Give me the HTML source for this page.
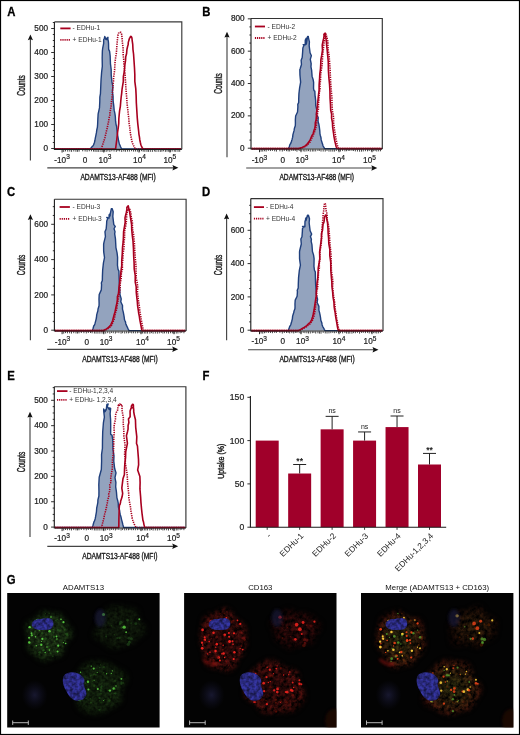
<!DOCTYPE html>
<html><head><meta charset="utf-8"><style>
html,body{margin:0;padding:0;background:#fff;}
body{width:520px;height:735px;overflow:hidden;font-family:"Liberation Sans",sans-serif;}
svg{display:block;filter:blur(0.3px);}
</style></head><body>
<svg width="520" height="735" viewBox="0 0 520 735" font-family='"Liberation Sans", sans-serif'>
<rect x="0" y="0" width="520" height="735" fill="#fff"/>
<path d="M55 148.9 L55.7 148.9 L56.4 148.9 L57.11 148.9 L57.81 148.9 L58.51 148.9 L59.21 148.9 L59.91 148.9 L60.62 148.9 L61.32 148.9 L62.02 148.9 L62.72 148.9 L63.42 148.9 L64.13 148.9 L64.83 148.9 L65.53 148.9 L66.23 148.9 L66.93 148.9 L67.64 148.9 L68.34 148.9 L69.04 148.9 L69.74 148.9 L70.44 148.9 L71.15 148.9 L71.85 148.9 L72.55 148.9 L73.25 148.9 L73.95 148.9 L74.66 148.9 L75.36 148.9 L76.06 148.9 L76.76 148.9 L77.46 148.9 L78.17 148.9 L78.87 148.9 L79.57 148.9 L80.27 148.9 L80.97 148.9 L81.68 148.9 L82.38 148.9 L83.08 148.9 L83.78 148.9 L84.48 148.9 L85.19 148.9 L85.89 148.9 L86.59 148.9 L87.29 148.9 L87.99 148.9 L88.7 148.9 L89.4 148.9 L90.1 148.9 L90.39 148.53 L90.78 148.13 L91.26 147.67 L91.78 147.04 L92.31 146.36 L92.88 145.94 L93.44 145.03 L93.94 143.89 L94.35 142.71 L94.91 140.5 L95.35 137.86 L95.94 135.06 L96.42 132.7 L96.73 130.24 L97.41 127.09 L97.64 123.98 L97.83 119.33 L98.15 113.79 L99.47 107.88 L99.79 101.5 L99.85 97.18 L100.45 93.55 L100.72 87.16 L101.04 79.84 L101.6 72.36 L102.31 66.31 L102.18 58.01 L102.36 51 L102.71 48.04 L103.66 43.35 L103.64 39.72 L104.39 38.23 L104.8 36.44 L105.06 37.38 L105.9 38.19 L105.52 39.09 L106.91 39.69 L107.19 37.97 L107.97 37.34 L107.86 39.04 L108.31 40.91 L108.55 43.39 L108.67 49.37 L109.61 51.36 L110.18 56.11 L110.46 63.85 L111.2 69.69 L111.24 75.08 L111.93 81.91 L112.87 86.69 L112.43 91.51 L113.08 96.29 L113.11 100.62 L113.75 105.64 L114.16 110.18 L114.88 113.42 L115.35 116.7 L115.57 121.23 L116.05 124.34 L116.61 126.62 L116.95 130.21 L117.31 133.19 L117.67 135.33 L118.1 137.86 L118.48 140.24 L119 142.4 L119.38 143.92 L119.98 145.32 L120.45 146.52 L120.93 147.45 L121.32 148.29 L121.6 148.9 L122.3 148.9 L123 148.9 L123.7 148.9 L124.4 148.9 L125.11 148.9 L125.81 148.9 L126.51 148.9 L127.21 148.9 L127.91 148.9 L128.61 148.9 L129.31 148.9 L130.01 148.9 L130.72 148.9 L131.42 148.9 L132.12 148.9 L132.82 148.9 L133.52 148.9 L134.22 148.9 L134.92 148.9 L135.62 148.9 L136.32 148.9 L137.03 148.9 L137.73 148.9 L138.43 148.9 L139.13 148.9 L139.83 148.9 L140.53 148.9 L141.23 148.9 L141.93 148.9 L142.64 148.9 L143.34 148.9 L144.04 148.9 L144.74 148.9 L145.44 148.9 L146.14 148.9 L146.84 148.9 L147.54 148.9 L148.24 148.9 L148.95 148.9 L149.65 148.9 L150.35 148.9 L151.05 148.9 L151.75 148.9 L152.45 148.9 L153.15 148.9 L153.85 148.9 L154.56 148.9 L155.26 148.9 L155.96 148.9 L156.66 148.9 L157.36 148.9 L158.06 148.9 L158.76 148.9 L159.46 148.9 L160.16 148.9 L160.87 148.9 L161.57 148.9 L162.27 148.9 L162.97 148.9 L163.67 148.9 L164.37 148.9 L165.07 148.9 L165.77 148.9 L166.48 148.9 L167.18 148.9 L167.88 148.9 L168.58 148.9 L169.28 148.9 L169.98 148.9 L170.68 148.9 L171.38 148.9 L172.08 148.9 L172.79 148.9 L173.49 148.9 L174.19 148.9 L174.89 148.9 L175.59 148.9 L176.29 148.9 L176.99 148.9 L177.69 148.9 L178.4 148.9 L179.1 148.9 L179.8 148.9 L180.5 148.9 L181.2 148.9 Z" fill="#93a3be" stroke="none"/>
<path d="M55 148.9 L55.7 148.9 L56.4 148.9 L57.11 148.9 L57.81 148.9 L58.51 148.9 L59.21 148.9 L59.91 148.9 L60.62 148.9 L61.32 148.9 L62.02 148.9 L62.72 148.9 L63.42 148.9 L64.13 148.9 L64.83 148.9 L65.53 148.9 L66.23 148.9 L66.93 148.9 L67.64 148.9 L68.34 148.9 L69.04 148.9 L69.74 148.9 L70.44 148.9 L71.15 148.9 L71.85 148.9 L72.55 148.9 L73.25 148.9 L73.95 148.9 L74.66 148.9 L75.36 148.9 L76.06 148.9 L76.76 148.9 L77.46 148.9 L78.17 148.9 L78.87 148.9 L79.57 148.9 L80.27 148.9 L80.97 148.9 L81.68 148.9 L82.38 148.9 L83.08 148.9 L83.78 148.9 L84.48 148.9 L85.19 148.9 L85.89 148.9 L86.59 148.9 L87.29 148.9 L87.99 148.9 L88.7 148.9 L89.4 148.9 L90.1 148.9 L90.39 148.53 L90.78 148.13 L91.26 147.67 L91.78 147.04 L92.31 146.36 L92.88 145.94 L93.44 145.03 L93.94 143.89 L94.35 142.71 L94.91 140.5 L95.35 137.86 L95.94 135.06 L96.42 132.7 L96.73 130.24 L97.41 127.09 L97.64 123.98 L97.83 119.33 L98.15 113.79 L99.47 107.88 L99.79 101.5 L99.85 97.18 L100.45 93.55 L100.72 87.16 L101.04 79.84 L101.6 72.36 L102.31 66.31 L102.18 58.01 L102.36 51 L102.71 48.04 L103.66 43.35 L103.64 39.72 L104.39 38.23 L104.8 36.44 L105.06 37.38 L105.9 38.19 L105.52 39.09 L106.91 39.69 L107.19 37.97 L107.97 37.34 L107.86 39.04 L108.31 40.91 L108.55 43.39 L108.67 49.37 L109.61 51.36 L110.18 56.11 L110.46 63.85 L111.2 69.69 L111.24 75.08 L111.93 81.91 L112.87 86.69 L112.43 91.51 L113.08 96.29 L113.11 100.62 L113.75 105.64 L114.16 110.18 L114.88 113.42 L115.35 116.7 L115.57 121.23 L116.05 124.34 L116.61 126.62 L116.95 130.21 L117.31 133.19 L117.67 135.33 L118.1 137.86 L118.48 140.24 L119 142.4 L119.38 143.92 L119.98 145.32 L120.45 146.52 L120.93 147.45 L121.32 148.29 L121.6 148.9 L122.3 148.9 L123 148.9 L123.7 148.9 L124.4 148.9 L125.11 148.9 L125.81 148.9 L126.51 148.9 L127.21 148.9 L127.91 148.9 L128.61 148.9 L129.31 148.9 L130.01 148.9 L130.72 148.9 L131.42 148.9 L132.12 148.9 L132.82 148.9 L133.52 148.9 L134.22 148.9 L134.92 148.9 L135.62 148.9 L136.32 148.9 L137.03 148.9 L137.73 148.9 L138.43 148.9 L139.13 148.9 L139.83 148.9 L140.53 148.9 L141.23 148.9 L141.93 148.9 L142.64 148.9 L143.34 148.9 L144.04 148.9 L144.74 148.9 L145.44 148.9 L146.14 148.9 L146.84 148.9 L147.54 148.9 L148.24 148.9 L148.95 148.9 L149.65 148.9 L150.35 148.9 L151.05 148.9 L151.75 148.9 L152.45 148.9 L153.15 148.9 L153.85 148.9 L154.56 148.9 L155.26 148.9 L155.96 148.9 L156.66 148.9 L157.36 148.9 L158.06 148.9 L158.76 148.9 L159.46 148.9 L160.16 148.9 L160.87 148.9 L161.57 148.9 L162.27 148.9 L162.97 148.9 L163.67 148.9 L164.37 148.9 L165.07 148.9 L165.77 148.9 L166.48 148.9 L167.18 148.9 L167.88 148.9 L168.58 148.9 L169.28 148.9 L169.98 148.9 L170.68 148.9 L171.38 148.9 L172.08 148.9 L172.79 148.9 L173.49 148.9 L174.19 148.9 L174.89 148.9 L175.59 148.9 L176.29 148.9 L176.99 148.9 L177.69 148.9 L178.4 148.9 L179.1 148.9 L179.8 148.9 L180.5 148.9 L181.2 148.9" fill="none" stroke="#1f3f7c" stroke-width="1.4" stroke-linejoin="round"/>
<path d="M55 148.95 L55.7 148.95 L56.4 148.95 L57.1 148.95 L57.8 148.95 L58.5 148.95 L59.2 148.95 L59.9 148.95 L60.6 148.95 L61.3 148.95 L62 148.95 L62.7 148.95 L63.4 148.95 L64.1 148.95 L64.8 148.95 L65.5 148.95 L66.2 148.95 L66.9 148.95 L67.6 148.95 L68.3 148.95 L69 148.95 L69.7 148.95 L70.4 148.95 L71.1 148.95 L71.8 148.95 L72.5 148.95 L73.2 148.95 L73.9 148.95 L74.6 148.95 L75.3 148.95 L76 148.95 L76.7 148.95 L77.4 148.95 L78.1 148.95 L78.8 148.95 L79.5 148.95 L80.2 148.95 L80.9 148.95 L81.6 148.95 L82.3 148.95 L83 148.95 L83.7 148.95 L84.4 148.95 L85.1 148.95 L85.8 148.95 L86.5 148.95 L87.2 148.95 L87.9 148.95 L88.6 148.95 L89.3 148.95 L90 148.95 L90.7 148.95 L91.4 148.95 L92.1 148.95 L92.8 148.95 L93.5 148.95 L94.2 148.95 L94.9 148.95 L95.6 148.95 L96.3 148.95 L97 148.95 L97.7 148.95 L98.4 148.95 L99.1 148.95 L99.8 148.95 L100.5 148.95 L101.2 148.95 L101.48 148.12 L101.84 147.07 L102.26 145.87 L102.73 144.58 L103.23 142.96 L103.8 141.29 L104.3 139.64 L104.91 137.77 L105.38 135.63 L105.88 133.69 L106.24 131.86 L106.74 129.9 L107.36 127.5 L107.69 125.36 L108.29 123.11 L108.72 120.39 L109.01 118.04 L109.75 115.63 L109.92 112.97 L110.38 110.28 L111.17 105.83 L111.51 100.93 L112.24 95.51 L112.66 90.03 L113 85.29 L113.48 81.44 L113.61 77.42 L114.53 70.98 L114.81 66.11 L115.03 62.36 L115.58 57.79 L116.26 53.87 L116.55 50.45 L116.93 45 L117.37 40.26 L117.67 37 L118.06 34.78 L118.51 33.23 L119.07 32.99 L119.58 33.06 L119.75 32.56 L120.5 32.18 L120.66 32.18 L121.46 33.1 L121.64 34.44 L122.1 37.88 L122.39 42.44 L123.1 48.35 L123.18 54.81 L123.71 59.71 L123.94 64.23 L124.61 70.26 L125.18 76.17 L125.48 81.09 L125.79 86.63 L126.24 92.57 L126.74 98.39 L127.1 103.82 L127.73 109.24 L128.26 114.07 L128.81 118.84 L129.15 123.39 L129.68 127.06 L130.09 130.52 L130.39 133.36 L130.88 136.05 L131.36 138.41 L131.77 140.63 L132.24 142.47 L132.82 143.89 L133.38 145.11 L133.94 146.3 L134.45 147.37 L134.89 148.28 L135.2 148.95 L135.91 148.95 L136.62 148.95 L137.32 148.95 L138.03 148.95 L138.74 148.95 L139.45 148.95 L140.15 148.95 L140.86 148.95 L141.57 148.95 L142.28 148.95 L142.98 148.95 L143.69 148.95 L144.4 148.95 L145.11 148.95 L145.82 148.95 L146.52 148.95 L147.23 148.95 L147.94 148.95 L148.65 148.95 L149.35 148.95 L150.06 148.95 L150.77 148.95 L151.48 148.95 L152.18 148.95 L152.89 148.95 L153.6 148.95 L154.31 148.95 L155.02 148.95 L155.72 148.95 L156.43 148.95 L157.14 148.95 L157.85 148.95 L158.55 148.95 L159.26 148.95 L159.97 148.95 L160.68 148.95 L161.38 148.95 L162.09 148.95 L162.8 148.95 L163.51 148.95 L164.22 148.95 L164.92 148.95 L165.63 148.95 L166.34 148.95 L167.05 148.95 L167.75 148.95 L168.46 148.95 L169.17 148.95 L169.88 148.95 L170.58 148.95 L171.29 148.95 L172 148.95 L172.71 148.95 L173.42 148.95 L174.12 148.95 L174.83 148.95 L175.54 148.95 L176.25 148.95 L176.95 148.95 L177.66 148.95 L178.37 148.95 L179.08 148.95 L179.78 148.95 L180.49 148.95 L181.2 148.95" fill="none" stroke="#a8001f" stroke-width="1.6" stroke-dasharray="1.3 1.0"/>
<path d="M55 148.95 L55.7 148.95 L56.41 148.95 L57.11 148.95 L57.82 148.95 L58.52 148.95 L59.23 148.95 L59.93 148.95 L60.64 148.95 L61.34 148.95 L62.05 148.95 L62.75 148.95 L63.46 148.95 L64.16 148.95 L64.87 148.95 L65.57 148.95 L66.27 148.95 L66.98 148.95 L67.68 148.95 L68.39 148.95 L69.09 148.95 L69.8 148.95 L70.5 148.95 L71.21 148.95 L71.91 148.95 L72.62 148.95 L73.32 148.95 L74.03 148.95 L74.73 148.95 L75.43 148.95 L76.14 148.95 L76.84 148.95 L77.55 148.95 L78.25 148.95 L78.96 148.95 L79.66 148.95 L80.37 148.95 L81.07 148.95 L81.78 148.95 L82.48 148.95 L83.19 148.95 L83.89 148.95 L84.6 148.95 L85.3 148.95 L86 148.95 L86.71 148.95 L87.41 148.95 L88.12 148.95 L88.82 148.95 L89.53 148.95 L90.23 148.95 L90.94 148.95 L91.64 148.95 L92.35 148.95 L93.05 148.95 L93.76 148.95 L94.46 148.95 L95.17 148.95 L95.87 148.95 L96.57 148.95 L97.28 148.95 L97.98 148.95 L98.69 148.95 L99.39 148.95 L100.1 148.95 L100.8 148.95 L101.51 148.95 L102.21 148.95 L102.92 148.95 L103.62 148.95 L104.33 148.95 L105.03 148.95 L105.73 148.95 L106.44 148.95 L107.14 148.95 L107.85 148.95 L108.55 148.95 L109.26 148.95 L109.96 148.95 L110.67 148.95 L111.37 148.95 L112.08 148.95 L112.78 148.95 L113.49 148.95 L114.19 148.95 L114.9 148.95 L115.6 148.95 L115.88 146.53 L116.29 143.39 L116.78 139.49 L117.23 135.37 L117.67 131.58 L118.29 127.31 L118.74 123.36 L118.81 119 L119.21 114.68 L119.62 110.54 L120.35 106.35 L120.7 102 L121.1 97.76 L121.64 93.6 L122.03 89.48 L122.64 85.72 L123.29 81.74 L123.36 76.68 L124.04 72.79 L124.55 69.06 L124.91 64.71 L125.51 60.67 L125.73 56.79 L126.6 53.55 L126.92 49.52 L127.59 46.52 L128.17 44.62 L128.3 42.37 L129.01 40.11 L129.49 38.24 L129.89 37.69 L130.19 37.38 L130.51 36.46 L130.85 36.4 L131.34 36.56 L131.9 37.78 L132.19 40.54 L132.74 44.44 L132.96 49.29 L133.55 54.01 L133.99 60.45 L134.48 67.75 L134.82 74.45 L134.82 81.4 L135.79 88.88 L136.15 95.89 L136.35 103.06 L136.82 110.61 L137.23 117.32 L137.78 123.63 L138.21 127.37 L138.66 131.24 L138.95 134.37 L139.42 136.97 L139.82 139.97 L140.3 142.28 L140.75 144.21 L141.24 145.74 L141.76 146.79 L142.23 147.7 L142.62 148.38 L142.9 148.95 L143.61 148.95 L144.32 148.95 L145.03 148.95 L145.74 148.95 L146.45 148.95 L147.16 148.95 L147.86 148.95 L148.57 148.95 L149.28 148.95 L149.99 148.95 L150.7 148.95 L151.41 148.95 L152.12 148.95 L152.83 148.95 L153.54 148.95 L154.25 148.95 L154.96 148.95 L155.67 148.95 L156.38 148.95 L157.09 148.95 L157.79 148.95 L158.5 148.95 L159.21 148.95 L159.92 148.95 L160.63 148.95 L161.34 148.95 L162.05 148.95 L162.76 148.95 L163.47 148.95 L164.18 148.95 L164.89 148.95 L165.6 148.95 L166.31 148.95 L167.01 148.95 L167.72 148.95 L168.43 148.95 L169.14 148.95 L169.85 148.95 L170.56 148.95 L171.27 148.95 L171.98 148.95 L172.69 148.95 L173.4 148.95 L174.11 148.95 L174.82 148.95 L175.53 148.95 L176.24 148.95 L176.94 148.95 L177.65 148.95 L178.36 148.95 L179.07 148.95 L179.78 148.95 L180.49 148.95 L181.2 148.95" fill="none" stroke="#a8001f" stroke-width="1.6" stroke-linejoin="round"/>
<path d="M54.4 21.9H181.8V149.35" fill="none" stroke="#3a3a3a" stroke-width="1.15"/>
<path d="M54.4 21.9V149.35H181.8" fill="none" stroke="#1a1a1a" stroke-width="1.1"/>
<line x1="51.2" y1="148.5" x2="54.4" y2="148.5" stroke="#1a1a1a" stroke-width="0.9"/>
<text x="48" y="151.1" font-size="8.2" text-anchor="end" fill="#222" stroke="#222" stroke-width="0.22">0</text>
<line x1="52.8" y1="142.5" x2="54.4" y2="142.5" stroke="#1a1a1a" stroke-width="0.9"/>
<line x1="52.8" y1="136.5" x2="54.4" y2="136.5" stroke="#1a1a1a" stroke-width="0.9"/>
<line x1="52.8" y1="130.5" x2="54.4" y2="130.5" stroke="#1a1a1a" stroke-width="0.9"/>
<line x1="51.2" y1="124.5" x2="54.4" y2="124.5" stroke="#1a1a1a" stroke-width="0.9"/>
<text x="48" y="127.1" font-size="8.2" text-anchor="end" fill="#222" stroke="#222" stroke-width="0.22">100</text>
<line x1="52.8" y1="118.5" x2="54.4" y2="118.5" stroke="#1a1a1a" stroke-width="0.9"/>
<line x1="52.8" y1="112.5" x2="54.4" y2="112.5" stroke="#1a1a1a" stroke-width="0.9"/>
<line x1="52.8" y1="106.5" x2="54.4" y2="106.5" stroke="#1a1a1a" stroke-width="0.9"/>
<line x1="51.2" y1="100.5" x2="54.4" y2="100.5" stroke="#1a1a1a" stroke-width="0.9"/>
<text x="48" y="103.1" font-size="8.2" text-anchor="end" fill="#222" stroke="#222" stroke-width="0.22">200</text>
<line x1="52.8" y1="94.5" x2="54.4" y2="94.5" stroke="#1a1a1a" stroke-width="0.9"/>
<line x1="52.8" y1="88.5" x2="54.4" y2="88.5" stroke="#1a1a1a" stroke-width="0.9"/>
<line x1="52.8" y1="82.5" x2="54.4" y2="82.5" stroke="#1a1a1a" stroke-width="0.9"/>
<line x1="51.2" y1="76.5" x2="54.4" y2="76.5" stroke="#1a1a1a" stroke-width="0.9"/>
<text x="48" y="79.1" font-size="8.2" text-anchor="end" fill="#222" stroke="#222" stroke-width="0.22">300</text>
<line x1="52.8" y1="70.5" x2="54.4" y2="70.5" stroke="#1a1a1a" stroke-width="0.9"/>
<line x1="52.8" y1="64.5" x2="54.4" y2="64.5" stroke="#1a1a1a" stroke-width="0.9"/>
<line x1="52.8" y1="58.5" x2="54.4" y2="58.5" stroke="#1a1a1a" stroke-width="0.9"/>
<line x1="51.2" y1="52.5" x2="54.4" y2="52.5" stroke="#1a1a1a" stroke-width="0.9"/>
<text x="48" y="55.1" font-size="8.2" text-anchor="end" fill="#222" stroke="#222" stroke-width="0.22">400</text>
<line x1="52.8" y1="46.5" x2="54.4" y2="46.5" stroke="#1a1a1a" stroke-width="0.9"/>
<line x1="52.8" y1="40.5" x2="54.4" y2="40.5" stroke="#1a1a1a" stroke-width="0.9"/>
<line x1="52.8" y1="34.5" x2="54.4" y2="34.5" stroke="#1a1a1a" stroke-width="0.9"/>
<line x1="51.2" y1="28.5" x2="54.4" y2="28.5" stroke="#1a1a1a" stroke-width="0.9"/>
<text x="48" y="31.1" font-size="8.2" text-anchor="end" fill="#222" stroke="#222" stroke-width="0.22">500</text>
<line x1="52.8" y1="22.5" x2="54.4" y2="22.5" stroke="#1a1a1a" stroke-width="0.9"/>
<line x1="63.7" y1="149.7" x2="63.7" y2="151.93" stroke="#1a1a1a" stroke-width="0.8"/>
<line x1="65.52" y1="149.7" x2="65.52" y2="151.4" stroke="#1a1a1a" stroke-width="0.8"/>
<line x1="67.71" y1="149.7" x2="67.71" y2="151.61" stroke="#1a1a1a" stroke-width="0.8"/>
<line x1="69.81" y1="149.7" x2="69.81" y2="151.59" stroke="#1a1a1a" stroke-width="0.8"/>
<line x1="71.59" y1="149.7" x2="71.59" y2="151.86" stroke="#1a1a1a" stroke-width="0.8"/>
<line x1="73.81" y1="149.7" x2="73.81" y2="151.49" stroke="#1a1a1a" stroke-width="0.8"/>
<line x1="75.92" y1="149.7" x2="75.92" y2="151.77" stroke="#1a1a1a" stroke-width="0.8"/>
<line x1="77.55" y1="149.7" x2="77.55" y2="151.82" stroke="#1a1a1a" stroke-width="0.8"/>
<line x1="79.11" y1="149.7" x2="79.11" y2="151.65" stroke="#1a1a1a" stroke-width="0.8"/>
<line x1="82.7" y1="149.7" x2="82.7" y2="151.34" stroke="#1a1a1a" stroke-width="0.8"/>
<line x1="85.1" y1="149.7" x2="85.1" y2="151.51" stroke="#1a1a1a" stroke-width="0.8"/>
<line x1="87.1" y1="149.7" x2="87.1" y2="151.75" stroke="#1a1a1a" stroke-width="0.8"/>
<line x1="89.3" y1="149.7" x2="89.3" y2="151.34" stroke="#1a1a1a" stroke-width="0.8"/>
<line x1="91.44" y1="149.7" x2="91.44" y2="151.34" stroke="#1a1a1a" stroke-width="0.8"/>
<line x1="93.49" y1="149.7" x2="93.49" y2="151.6" stroke="#1a1a1a" stroke-width="0.8"/>
<line x1="95.09" y1="149.7" x2="95.09" y2="151.83" stroke="#1a1a1a" stroke-width="0.8"/>
<line x1="96.96" y1="149.7" x2="96.96" y2="151.93" stroke="#1a1a1a" stroke-width="0.8"/>
<line x1="98.74" y1="149.7" x2="98.74" y2="151.91" stroke="#1a1a1a" stroke-width="0.8"/>
<line x1="100.98" y1="149.7" x2="100.98" y2="151.92" stroke="#1a1a1a" stroke-width="0.8"/>
<line x1="102.8" y1="149.7" x2="102.8" y2="151.87" stroke="#1a1a1a" stroke-width="0.8"/>
<line x1="104.37" y1="149.7" x2="104.37" y2="151.65" stroke="#1a1a1a" stroke-width="0.8"/>
<line x1="106.17" y1="149.7" x2="106.17" y2="151.87" stroke="#1a1a1a" stroke-width="0.8"/>
<line x1="107.9" y1="149.7" x2="107.9" y2="151.44" stroke="#1a1a1a" stroke-width="0.8"/>
<line x1="109.87" y1="149.7" x2="109.87" y2="151.88" stroke="#1a1a1a" stroke-width="0.8"/>
<line x1="111.83" y1="149.7" x2="111.83" y2="151.3" stroke="#1a1a1a" stroke-width="0.8"/>
<line x1="114.02" y1="149.7" x2="114.02" y2="151.51" stroke="#1a1a1a" stroke-width="0.8"/>
<line x1="116.31" y1="149.7" x2="116.31" y2="151.89" stroke="#1a1a1a" stroke-width="0.8"/>
<line x1="118.01" y1="149.7" x2="118.01" y2="151.13" stroke="#1a1a1a" stroke-width="0.8"/>
<line x1="119.63" y1="149.7" x2="119.63" y2="151.42" stroke="#1a1a1a" stroke-width="0.8"/>
<line x1="121.72" y1="149.7" x2="121.72" y2="151.95" stroke="#1a1a1a" stroke-width="0.8"/>
<line x1="123.78" y1="149.7" x2="123.78" y2="151.46" stroke="#1a1a1a" stroke-width="0.8"/>
<line x1="125.39" y1="149.7" x2="125.39" y2="151.79" stroke="#1a1a1a" stroke-width="0.8"/>
<line x1="127.45" y1="149.7" x2="127.45" y2="151.61" stroke="#1a1a1a" stroke-width="0.8"/>
<line x1="129.37" y1="149.7" x2="129.37" y2="151.64" stroke="#1a1a1a" stroke-width="0.8"/>
<line x1="131.59" y1="149.7" x2="131.59" y2="151.26" stroke="#1a1a1a" stroke-width="0.8"/>
<line x1="133.58" y1="149.7" x2="133.58" y2="151.64" stroke="#1a1a1a" stroke-width="0.8"/>
<line x1="135.46" y1="149.7" x2="135.46" y2="151.56" stroke="#1a1a1a" stroke-width="0.8"/>
<line x1="137.38" y1="149.7" x2="137.38" y2="151.67" stroke="#1a1a1a" stroke-width="0.8"/>
<line x1="139.57" y1="149.7" x2="139.57" y2="151.56" stroke="#1a1a1a" stroke-width="0.8"/>
<line x1="141.56" y1="149.7" x2="141.56" y2="151.19" stroke="#1a1a1a" stroke-width="0.8"/>
<line x1="143.19" y1="149.7" x2="143.19" y2="151.66" stroke="#1a1a1a" stroke-width="0.8"/>
<line x1="144.88" y1="149.7" x2="144.88" y2="151.79" stroke="#1a1a1a" stroke-width="0.8"/>
<line x1="146.94" y1="149.7" x2="146.94" y2="151.83" stroke="#1a1a1a" stroke-width="0.8"/>
<line x1="148.46" y1="149.7" x2="148.46" y2="151.87" stroke="#1a1a1a" stroke-width="0.8"/>
<line x1="150.33" y1="149.7" x2="150.33" y2="151.85" stroke="#1a1a1a" stroke-width="0.8"/>
<line x1="152.37" y1="149.7" x2="152.37" y2="151.91" stroke="#1a1a1a" stroke-width="0.8"/>
<line x1="154.42" y1="149.7" x2="154.42" y2="151.44" stroke="#1a1a1a" stroke-width="0.8"/>
<line x1="155.94" y1="149.7" x2="155.94" y2="151.96" stroke="#1a1a1a" stroke-width="0.8"/>
<line x1="158.19" y1="149.7" x2="158.19" y2="151.83" stroke="#1a1a1a" stroke-width="0.8"/>
<line x1="160.29" y1="149.7" x2="160.29" y2="151.9" stroke="#1a1a1a" stroke-width="0.8"/>
<line x1="161.9" y1="149.7" x2="161.9" y2="151.68" stroke="#1a1a1a" stroke-width="0.8"/>
<line x1="163.4" y1="149.7" x2="163.4" y2="151.32" stroke="#1a1a1a" stroke-width="0.8"/>
<line x1="165.36" y1="149.7" x2="165.36" y2="151.86" stroke="#1a1a1a" stroke-width="0.8"/>
<line x1="167.02" y1="149.7" x2="167.02" y2="151.66" stroke="#1a1a1a" stroke-width="0.8"/>
<line x1="168.69" y1="149.7" x2="168.69" y2="151.69" stroke="#1a1a1a" stroke-width="0.8"/>
<line x1="170.2" y1="149.7" x2="170.2" y2="151.93" stroke="#1a1a1a" stroke-width="0.8"/>
<line x1="172.16" y1="149.7" x2="172.16" y2="151.54" stroke="#1a1a1a" stroke-width="0.8"/>
<line x1="174.25" y1="149.7" x2="174.25" y2="151.67" stroke="#1a1a1a" stroke-width="0.8"/>
<line x1="175.8" y1="149.7" x2="175.8" y2="151.87" stroke="#1a1a1a" stroke-width="0.8"/>
<line x1="178.01" y1="149.7" x2="178.01" y2="151.85" stroke="#1a1a1a" stroke-width="0.8"/>
<line x1="179.69" y1="149.7" x2="179.69" y2="151.77" stroke="#1a1a1a" stroke-width="0.8"/>
<line x1="62.1" y1="149.7" x2="62.1" y2="152.5" stroke="#111" stroke-width="0.9"/>
<line x1="103.8" y1="149.7" x2="103.8" y2="152.5" stroke="#111" stroke-width="0.9"/>
<line x1="139" y1="149.7" x2="139" y2="152.5" stroke="#111" stroke-width="0.9"/>
<line x1="170" y1="149.7" x2="170" y2="152.5" stroke="#111" stroke-width="0.9"/>
<text x="62.1" y="162.5" font-size="8.2" text-anchor="middle" fill="#222" stroke="#222" stroke-width="0.2">-10<tspan font-size="6.56" dy="-3.3">3</tspan></text>
<text x="85.1" y="162.5" font-size="8.2" text-anchor="middle" fill="#222" stroke="#222" stroke-width="0.2">0</text>
<text x="105" y="162.5" font-size="8.2" text-anchor="middle" fill="#222" stroke="#222" stroke-width="0.2">10<tspan font-size="6.56" dy="-3.3">3</tspan></text>
<text x="139.5" y="162.5" font-size="8.2" text-anchor="middle" fill="#222" stroke="#222" stroke-width="0.2">10<tspan font-size="6.56" dy="-3.3">4</tspan></text>
<text x="169.8" y="162.5" font-size="8.2" text-anchor="middle" fill="#222" stroke="#222" stroke-width="0.2">10<tspan font-size="6.56" dy="-3.3">5</tspan></text>
<line x1="30.4" y1="160.6" x2="30.4" y2="37.4" stroke="#444" stroke-width="1.15"/>
<path d="M30.4 34.4 L27.8 40.2 L30.4 39.3 L33 40.2 Z" fill="#111"/>
<line x1="47.3" y1="167.8" x2="175.4" y2="167.8" stroke="#444" stroke-width="1.15"/>
<path d="M178.4 167.8 L172.4 165.1 L173.4 167.8 L172.4 170.5 Z" fill="#111"/>
<text transform="translate(25.1 85.5) rotate(-90)" font-size="10.6" text-anchor="middle" fill="#222" stroke="#222" stroke-width="0.42" textLength="20.6" lengthAdjust="spacingAndGlyphs">Counts</text>
<text x="80.4" y="180.2" font-size="9.2" fill="#222" stroke="#222" stroke-width="0.38" textLength="75.3" lengthAdjust="spacingAndGlyphs">ADAMTS13-AF488 (MFI)</text>
<line x1="60.3" y1="28.4" x2="70.6" y2="28.4" stroke="#a8001f" stroke-width="1.8"/>
<line x1="60.3" y1="39.8" x2="70.6" y2="39.8" stroke="#a8001f" stroke-width="1.8" stroke-dasharray="1.2 0.9"/>
<text x="72.6" y="30.45" font-size="6.6" fill="#333">- EDHu-1</text>
<text x="72.6" y="41.85" font-size="6.6" fill="#333">+ EDHu-1</text>
<text transform="translate(7.2 16.4) scale(0.9 1)" font-size="12.6" font-weight="bold" fill="#000" stroke="#000" stroke-width="0.3">A</text>
<path d="M251.6 148.6 L252.31 148.6 L253.02 148.6 L253.73 148.6 L254.44 148.6 L255.15 148.6 L255.86 148.6 L256.57 148.6 L257.28 148.6 L257.99 148.6 L258.7 148.6 L259.41 148.6 L260.12 148.6 L260.82 148.6 L261.53 148.6 L262.24 148.6 L262.95 148.6 L263.66 148.6 L264.37 148.6 L265.08 148.6 L265.79 148.6 L266.5 148.6 L267.21 148.6 L267.92 148.6 L268.63 148.6 L269.34 148.6 L270.05 148.6 L270.76 148.6 L271.47 148.6 L272.18 148.6 L272.89 148.6 L273.6 148.6 L274.31 148.6 L275.02 148.6 L275.73 148.6 L276.44 148.6 L277.15 148.6 L277.86 148.6 L278.57 148.6 L279.27 148.6 L279.98 148.6 L280.69 148.6 L281.4 148.6 L282.11 148.6 L282.82 148.6 L283.53 148.6 L284.24 148.6 L284.95 148.6 L285.66 148.6 L286.37 148.6 L287.08 148.6 L287.79 148.6 L288.5 148.6 L288.78 147.84 L289.16 146.91 L289.6 145.61 L290.04 144.29 L290.58 143.78 L291.17 142.35 L291.65 140.73 L292.07 139.39 L292.64 137.17 L292.92 134.66 L293.55 132.41 L294.11 130.42 L294.37 128.54 L295.29 125.72 L295.4 123.28 L295.36 119.91 L295.64 115.96 L297.52 111.93 L297.89 106.68 L297.8 104.36 L298.67 102.43 L298.71 99.11 L298.92 93.9 L299.58 88.06 L300.63 82.06 L299.96 75.12 L299.84 69.51 L300.09 68.97 L301.46 64.44 L301.15 60.21 L302.21 57.57 L302.66 51.54 L302.87 48 L304.08 45.05 L303.13 44.69 L305.18 44.88 L305.27 40.16 L306.33 38.19 L305.82 40.71 L306.33 42.9 L306.46 43.16 L306.33 44.11 L307.61 36.4 L308.29 36.4 L308.42 37.56 L309.41 41.9 L309.18 45.82 L310.07 52.76 L311.38 55.68 L310.3 59.43 L311.17 63.58 L310.97 66.88 L311.62 70.15 L312.09 76.4 L313.09 79.44 L313.62 82.38 L313.54 88.39 L313.98 90.63 L314.82 91.11 L314.99 94.64 L315.16 96.69 L315.29 97.2 L315.68 100.78 L315.7 105.34 L316.94 110.62 L316.38 114.48 L318.23 117.56 L318.03 121.07 L318.85 124.16 L319.37 127.34 L319.77 130.63 L319.96 133.78 L320.32 135.43 L320.95 137.46 L321.2 139.9 L321.79 141.67 L322.08 142.89 L322.54 143.95 L322.94 145.49 L323.46 146.68 L323.94 147.34 L324.32 148.08 L324.6 148.6 L325.3 148.6 L326.01 148.6 L326.71 148.6 L327.42 148.6 L328.12 148.6 L328.83 148.6 L329.53 148.6 L330.24 148.6 L330.94 148.6 L331.65 148.6 L332.35 148.6 L333.06 148.6 L333.76 148.6 L334.47 148.6 L335.17 148.6 L335.88 148.6 L336.58 148.6 L337.29 148.6 L337.99 148.6 L338.7 148.6 L339.4 148.6 L340.11 148.6 L340.81 148.6 L341.52 148.6 L342.22 148.6 L342.93 148.6 L343.63 148.6 L344.34 148.6 L345.04 148.6 L345.75 148.6 L346.45 148.6 L347.16 148.6 L347.86 148.6 L348.57 148.6 L349.27 148.6 L349.98 148.6 L350.68 148.6 L351.39 148.6 L352.09 148.6 L352.8 148.6 L353.5 148.6 L354.21 148.6 L354.91 148.6 L355.62 148.6 L356.32 148.6 L357.03 148.6 L357.73 148.6 L358.44 148.6 L359.14 148.6 L359.85 148.6 L360.55 148.6 L361.26 148.6 L361.96 148.6 L362.67 148.6 L363.37 148.6 L364.08 148.6 L364.78 148.6 L365.49 148.6 L366.19 148.6 L366.9 148.6 L367.6 148.6 L368.31 148.6 L369.01 148.6 L369.72 148.6 L370.42 148.6 L371.13 148.6 L371.83 148.6 L372.54 148.6 L373.24 148.6 L373.95 148.6 L374.65 148.6 L375.36 148.6 L376.06 148.6 L376.77 148.6 L377.47 148.6 L378.18 148.6 L378.88 148.6 L379.59 148.6 L380.29 148.6 L381 148.6 L381.7 148.6 Z" fill="#93a3be" stroke="none"/>
<path d="M251.6 148.6 L252.31 148.6 L253.02 148.6 L253.73 148.6 L254.44 148.6 L255.15 148.6 L255.86 148.6 L256.57 148.6 L257.28 148.6 L257.99 148.6 L258.7 148.6 L259.41 148.6 L260.12 148.6 L260.82 148.6 L261.53 148.6 L262.24 148.6 L262.95 148.6 L263.66 148.6 L264.37 148.6 L265.08 148.6 L265.79 148.6 L266.5 148.6 L267.21 148.6 L267.92 148.6 L268.63 148.6 L269.34 148.6 L270.05 148.6 L270.76 148.6 L271.47 148.6 L272.18 148.6 L272.89 148.6 L273.6 148.6 L274.31 148.6 L275.02 148.6 L275.73 148.6 L276.44 148.6 L277.15 148.6 L277.86 148.6 L278.57 148.6 L279.27 148.6 L279.98 148.6 L280.69 148.6 L281.4 148.6 L282.11 148.6 L282.82 148.6 L283.53 148.6 L284.24 148.6 L284.95 148.6 L285.66 148.6 L286.37 148.6 L287.08 148.6 L287.79 148.6 L288.5 148.6 L288.78 147.84 L289.16 146.91 L289.6 145.61 L290.04 144.29 L290.58 143.78 L291.17 142.35 L291.65 140.73 L292.07 139.39 L292.64 137.17 L292.92 134.66 L293.55 132.41 L294.11 130.42 L294.37 128.54 L295.29 125.72 L295.4 123.28 L295.36 119.91 L295.64 115.96 L297.52 111.93 L297.89 106.68 L297.8 104.36 L298.67 102.43 L298.71 99.11 L298.92 93.9 L299.58 88.06 L300.63 82.06 L299.96 75.12 L299.84 69.51 L300.09 68.97 L301.46 64.44 L301.15 60.21 L302.21 57.57 L302.66 51.54 L302.87 48 L304.08 45.05 L303.13 44.69 L305.18 44.88 L305.27 40.16 L306.33 38.19 L305.82 40.71 L306.33 42.9 L306.46 43.16 L306.33 44.11 L307.61 36.4 L308.29 36.4 L308.42 37.56 L309.41 41.9 L309.18 45.82 L310.07 52.76 L311.38 55.68 L310.3 59.43 L311.17 63.58 L310.97 66.88 L311.62 70.15 L312.09 76.4 L313.09 79.44 L313.62 82.38 L313.54 88.39 L313.98 90.63 L314.82 91.11 L314.99 94.64 L315.16 96.69 L315.29 97.2 L315.68 100.78 L315.7 105.34 L316.94 110.62 L316.38 114.48 L318.23 117.56 L318.03 121.07 L318.85 124.16 L319.37 127.34 L319.77 130.63 L319.96 133.78 L320.32 135.43 L320.95 137.46 L321.2 139.9 L321.79 141.67 L322.08 142.89 L322.54 143.95 L322.94 145.49 L323.46 146.68 L323.94 147.34 L324.32 148.08 L324.6 148.6 L325.3 148.6 L326.01 148.6 L326.71 148.6 L327.42 148.6 L328.12 148.6 L328.83 148.6 L329.53 148.6 L330.24 148.6 L330.94 148.6 L331.65 148.6 L332.35 148.6 L333.06 148.6 L333.76 148.6 L334.47 148.6 L335.17 148.6 L335.88 148.6 L336.58 148.6 L337.29 148.6 L337.99 148.6 L338.7 148.6 L339.4 148.6 L340.11 148.6 L340.81 148.6 L341.52 148.6 L342.22 148.6 L342.93 148.6 L343.63 148.6 L344.34 148.6 L345.04 148.6 L345.75 148.6 L346.45 148.6 L347.16 148.6 L347.86 148.6 L348.57 148.6 L349.27 148.6 L349.98 148.6 L350.68 148.6 L351.39 148.6 L352.09 148.6 L352.8 148.6 L353.5 148.6 L354.21 148.6 L354.91 148.6 L355.62 148.6 L356.32 148.6 L357.03 148.6 L357.73 148.6 L358.44 148.6 L359.14 148.6 L359.85 148.6 L360.55 148.6 L361.26 148.6 L361.96 148.6 L362.67 148.6 L363.37 148.6 L364.08 148.6 L364.78 148.6 L365.49 148.6 L366.19 148.6 L366.9 148.6 L367.6 148.6 L368.31 148.6 L369.01 148.6 L369.72 148.6 L370.42 148.6 L371.13 148.6 L371.83 148.6 L372.54 148.6 L373.24 148.6 L373.95 148.6 L374.65 148.6 L375.36 148.6 L376.06 148.6 L376.77 148.6 L377.47 148.6 L378.18 148.6 L378.88 148.6 L379.59 148.6 L380.29 148.6 L381 148.6 L381.7 148.6" fill="none" stroke="#1f3f7c" stroke-width="1.4" stroke-linejoin="round"/>
<path d="M251.6 148.65 L252.31 148.65 L253.01 148.65 L253.72 148.65 L254.43 148.65 L255.14 148.65 L255.84 148.65 L256.55 148.65 L257.26 148.65 L257.97 148.65 L258.67 148.65 L259.38 148.65 L260.09 148.65 L260.8 148.65 L261.5 148.65 L262.21 148.65 L262.92 148.65 L263.62 148.65 L264.33 148.65 L265.04 148.65 L265.75 148.65 L266.45 148.65 L267.16 148.65 L267.87 148.65 L268.58 148.65 L269.28 148.65 L269.99 148.65 L270.7 148.65 L271.41 148.65 L272.11 148.65 L272.82 148.65 L273.53 148.65 L274.24 148.65 L274.94 148.65 L275.65 148.65 L276.36 148.65 L277.06 148.65 L277.77 148.65 L278.48 148.65 L279.19 148.65 L279.89 148.65 L280.6 148.65 L281.31 148.65 L282.02 148.65 L282.72 148.65 L283.43 148.65 L284.14 148.65 L284.85 148.65 L285.55 148.65 L286.26 148.65 L286.97 148.65 L287.68 148.65 L288.38 148.65 L289.09 148.65 L289.8 148.65 L290.5 148.65 L291.21 148.65 L291.92 148.65 L292.63 148.65 L293.33 148.65 L294.04 148.65 L294.75 148.65 L295.46 148.65 L296.16 148.65 L296.87 148.65 L297.58 148.65 L298.29 148.65 L298.99 148.65 L299.7 148.65 L299.96 148.52 L300.28 148.39 L300.64 148.26 L301.05 148.12 L301.49 147.97 L301.97 147.81 L302.47 147.63 L302.99 147.44 L303.52 147.28 L304.08 147.04 L304.62 146.69 L305.16 146.47 L305.73 146.22 L306.24 145.88 L306.77 145.51 L307.29 145.12 L307.74 144.66 L308.22 144.05 L308.76 143.23 L309.29 142.63 L309.85 142.28 L310.31 141.65 L310.97 139.96 L311.44 138.86 L311.86 138.17 L312.4 136.9 L313.01 135.82 L313.44 134.87 L313.82 133.65 L314.24 132.59 L314.57 131.94 L314.9 131.26 L315.59 128.72 L316.2 126.27 L316.68 123.5 L316.73 120.07 L317.44 116.18 L317.48 112.64 L318.45 109.14 L318.49 104.04 L318.96 99.02 L319.18 93.72 L320.02 89.26 L319.92 85.73 L320.51 80.33 L320.68 73.79 L321.5 69.15 L322.16 64.65 L322.43 59.09 L322.69 55.12 L323.24 50.52 L323.69 45.99 L323.96 43.07 L324.53 40.28 L324.99 36.12 L325.44 34.3 L325.49 34.3 L326.15 34.3 L326.56 35.72 L326.57 36.71 L327.27 38.85 L327.85 41.38 L327.88 45.21 L328.26 50.58 L329.09 55.29 L329.46 60.79 L330.06 68.14 L330.39 76.37 L330.73 83.57 L331.33 91.11 L331.85 97.15 L332.01 103.59 L332.37 110.82 L333.2 114.59 L333.62 118.91 L333.59 122.73 L334.13 126.67 L334.63 130.63 L335.27 134.12 L335.64 137.1 L336.09 139.48 L336.57 141.74 L336.99 143.75 L337.42 145.56 L337.81 146.92 L338.33 148 L338.81 148.47 L339.22 148.55 L339.5 148.65 L340.2 148.65 L340.91 148.65 L341.61 148.65 L342.31 148.65 L343.02 148.65 L343.72 148.65 L344.42 148.65 L345.13 148.65 L345.83 148.65 L346.53 148.65 L347.24 148.65 L347.94 148.65 L348.64 148.65 L349.35 148.65 L350.05 148.65 L350.75 148.65 L351.46 148.65 L352.16 148.65 L352.86 148.65 L353.57 148.65 L354.27 148.65 L354.97 148.65 L355.68 148.65 L356.38 148.65 L357.08 148.65 L357.79 148.65 L358.49 148.65 L359.19 148.65 L359.9 148.65 L360.6 148.65 L361.3 148.65 L362.01 148.65 L362.71 148.65 L363.41 148.65 L364.12 148.65 L364.82 148.65 L365.52 148.65 L366.23 148.65 L366.93 148.65 L367.63 148.65 L368.34 148.65 L369.04 148.65 L369.74 148.65 L370.45 148.65 L371.15 148.65 L371.85 148.65 L372.56 148.65 L373.26 148.65 L373.96 148.65 L374.67 148.65 L375.37 148.65 L376.07 148.65 L376.78 148.65 L377.48 148.65 L378.18 148.65 L378.89 148.65 L379.59 148.65 L380.29 148.65 L381 148.65 L381.7 148.65" fill="none" stroke="#a8001f" stroke-width="1.6" stroke-dasharray="1.3 1.0"/>
<path d="M251.6 148.65 L252.3 148.65 L253.01 148.65 L253.71 148.65 L254.41 148.65 L255.11 148.65 L255.82 148.65 L256.52 148.65 L257.22 148.65 L257.93 148.65 L258.63 148.65 L259.33 148.65 L260.04 148.65 L260.74 148.65 L261.44 148.65 L262.14 148.65 L262.85 148.65 L263.55 148.65 L264.25 148.65 L264.96 148.65 L265.66 148.65 L266.36 148.65 L267.07 148.65 L267.77 148.65 L268.47 148.65 L269.17 148.65 L269.88 148.65 L270.58 148.65 L271.28 148.65 L271.99 148.65 L272.69 148.65 L273.39 148.65 L274.1 148.65 L274.8 148.65 L275.5 148.65 L276.2 148.65 L276.91 148.65 L277.61 148.65 L278.31 148.65 L279.02 148.65 L279.72 148.65 L280.42 148.65 L281.13 148.65 L281.83 148.65 L282.53 148.65 L283.23 148.65 L283.94 148.65 L284.64 148.65 L285.34 148.65 L286.05 148.65 L286.75 148.65 L287.45 148.65 L288.16 148.65 L288.86 148.65 L289.56 148.65 L290.26 148.65 L290.97 148.65 L291.67 148.65 L292.37 148.65 L293.08 148.65 L293.78 148.65 L294.48 148.65 L295.19 148.65 L295.89 148.65 L296.59 148.65 L297.29 148.65 L298 148.65 L298.7 148.65 L298.96 148.52 L299.28 148.39 L299.64 148.26 L300.05 148.12 L300.49 147.97 L300.97 147.81 L301.47 147.63 L301.99 147.44 L302.52 147.18 L303.07 147.02 L303.62 146.81 L304.17 146.47 L304.72 146.15 L305.24 145.8 L305.79 145.5 L306.27 144.93 L306.77 144.45 L307.23 144.1 L307.73 143.42 L308.32 142.58 L308.87 141.7 L309.41 141.04 L309.92 140.32 L310.43 139.21 L310.89 137.98 L311.41 136.86 L311.96 135.64 L312.39 134.76 L312.91 134.14 L313.22 133.14 L313.69 131.46 L314.06 130.3 L314.8 128.15 L315.25 125.54 L315.3 122.67 L316.09 119.86 L316.37 116.48 L316.54 112.88 L317.06 109.21 L317.46 104.44 L318 99.67 L318.54 94.53 L319.11 90.07 L319.13 84.69 L319.61 78.38 L319.79 74.07 L320.48 68.84 L320.75 64.07 L320.86 59.86 L321.73 55.15 L322.48 50.03 L322.23 45.13 L322.92 41.53 L323.53 38.95 L324.09 35.83 L323.91 34.39 L324.96 33.27 L325.19 33.13 L325.36 35.16 L326.09 39.42 L326.46 42.34 L326.59 44.87 L327.17 50.16 L327.68 55.44 L328.26 61.83 L328.4 70.13 L328.85 77.45 L329.56 84.34 L329.95 91.78 L330.05 98.23 L330.45 104.25 L330.7 110.31 L331.61 114.13 L331.59 118.11 L332.44 122.48 L332.66 127.12 L333.15 130.73 L333.6 133.64 L333.97 136.62 L334.49 139.27 L334.92 141.5 L335.44 143.67 L335.81 145.36 L336.2 146.72 L336.73 148 L337.21 148.47 L337.62 148.55 L337.9 148.65 L338.61 148.65 L339.31 148.65 L340.02 148.65 L340.73 148.65 L341.43 148.65 L342.14 148.65 L342.85 148.65 L343.55 148.65 L344.26 148.65 L344.96 148.65 L345.67 148.65 L346.38 148.65 L347.08 148.65 L347.79 148.65 L348.5 148.65 L349.2 148.65 L349.91 148.65 L350.62 148.65 L351.32 148.65 L352.03 148.65 L352.74 148.65 L353.44 148.65 L354.15 148.65 L354.85 148.65 L355.56 148.65 L356.27 148.65 L356.97 148.65 L357.68 148.65 L358.39 148.65 L359.09 148.65 L359.8 148.65 L360.51 148.65 L361.21 148.65 L361.92 148.65 L362.63 148.65 L363.33 148.65 L364.04 148.65 L364.75 148.65 L365.45 148.65 L366.16 148.65 L366.86 148.65 L367.57 148.65 L368.28 148.65 L368.98 148.65 L369.69 148.65 L370.4 148.65 L371.1 148.65 L371.81 148.65 L372.52 148.65 L373.22 148.65 L373.93 148.65 L374.64 148.65 L375.34 148.65 L376.05 148.65 L376.75 148.65 L377.46 148.65 L378.17 148.65 L378.87 148.65 L379.58 148.65 L380.29 148.65 L380.99 148.65 L381.7 148.65" fill="none" stroke="#a8001f" stroke-width="1.6" stroke-linejoin="round"/>
<path d="M251 18.5H382.3V149.05" fill="none" stroke="#333" stroke-width="1.15"/>
<path d="M251 18.5V149.05H382.3" fill="none" stroke="#1a1a1a" stroke-width="1.1"/>
<line x1="247.8" y1="148.2" x2="251" y2="148.2" stroke="#1a1a1a" stroke-width="0.9"/>
<text x="244.6" y="150.8" font-size="8.2" text-anchor="end" fill="#222" stroke="#222" stroke-width="0.22">0</text>
<line x1="249.4" y1="140.11" x2="251" y2="140.11" stroke="#1a1a1a" stroke-width="0.9"/>
<line x1="249.4" y1="132.03" x2="251" y2="132.03" stroke="#1a1a1a" stroke-width="0.9"/>
<line x1="249.4" y1="123.94" x2="251" y2="123.94" stroke="#1a1a1a" stroke-width="0.9"/>
<line x1="247.8" y1="115.86" x2="251" y2="115.86" stroke="#1a1a1a" stroke-width="0.9"/>
<text x="244.6" y="118.46" font-size="8.2" text-anchor="end" fill="#222" stroke="#222" stroke-width="0.22">200</text>
<line x1="249.4" y1="107.77" x2="251" y2="107.77" stroke="#1a1a1a" stroke-width="0.9"/>
<line x1="249.4" y1="99.69" x2="251" y2="99.69" stroke="#1a1a1a" stroke-width="0.9"/>
<line x1="249.4" y1="91.6" x2="251" y2="91.6" stroke="#1a1a1a" stroke-width="0.9"/>
<line x1="247.8" y1="83.52" x2="251" y2="83.52" stroke="#1a1a1a" stroke-width="0.9"/>
<text x="244.6" y="86.12" font-size="8.2" text-anchor="end" fill="#222" stroke="#222" stroke-width="0.22">400</text>
<line x1="249.4" y1="75.43" x2="251" y2="75.43" stroke="#1a1a1a" stroke-width="0.9"/>
<line x1="249.4" y1="67.35" x2="251" y2="67.35" stroke="#1a1a1a" stroke-width="0.9"/>
<line x1="249.4" y1="59.26" x2="251" y2="59.26" stroke="#1a1a1a" stroke-width="0.9"/>
<line x1="247.8" y1="51.18" x2="251" y2="51.18" stroke="#1a1a1a" stroke-width="0.9"/>
<text x="244.6" y="53.78" font-size="8.2" text-anchor="end" fill="#222" stroke="#222" stroke-width="0.22">600</text>
<line x1="249.4" y1="43.09" x2="251" y2="43.09" stroke="#1a1a1a" stroke-width="0.9"/>
<line x1="249.4" y1="35.01" x2="251" y2="35.01" stroke="#1a1a1a" stroke-width="0.9"/>
<line x1="249.4" y1="26.92" x2="251" y2="26.92" stroke="#1a1a1a" stroke-width="0.9"/>
<line x1="247.8" y1="18.84" x2="251" y2="18.84" stroke="#1a1a1a" stroke-width="0.9"/>
<text x="244.6" y="21.44" font-size="8.2" text-anchor="end" fill="#222" stroke="#222" stroke-width="0.22">800</text>
<line x1="261.1" y1="149.4" x2="261.1" y2="151.65" stroke="#1a1a1a" stroke-width="0.8"/>
<line x1="262.75" y1="149.4" x2="262.75" y2="151.56" stroke="#1a1a1a" stroke-width="0.8"/>
<line x1="264.55" y1="149.4" x2="264.55" y2="151.25" stroke="#1a1a1a" stroke-width="0.8"/>
<line x1="266.16" y1="149.4" x2="266.16" y2="151.53" stroke="#1a1a1a" stroke-width="0.8"/>
<line x1="268.39" y1="149.4" x2="268.39" y2="150.83" stroke="#1a1a1a" stroke-width="0.8"/>
<line x1="270.45" y1="149.4" x2="270.45" y2="151.07" stroke="#1a1a1a" stroke-width="0.8"/>
<line x1="272.43" y1="149.4" x2="272.43" y2="150.91" stroke="#1a1a1a" stroke-width="0.8"/>
<line x1="274.66" y1="149.4" x2="274.66" y2="151.32" stroke="#1a1a1a" stroke-width="0.8"/>
<line x1="276.45" y1="149.4" x2="276.45" y2="151.59" stroke="#1a1a1a" stroke-width="0.8"/>
<line x1="279.9" y1="149.4" x2="279.9" y2="151.31" stroke="#1a1a1a" stroke-width="0.8"/>
<line x1="282.3" y1="149.4" x2="282.3" y2="151.54" stroke="#1a1a1a" stroke-width="0.8"/>
<line x1="284.3" y1="149.4" x2="284.3" y2="150.97" stroke="#1a1a1a" stroke-width="0.8"/>
<line x1="286.5" y1="149.4" x2="286.5" y2="151.15" stroke="#1a1a1a" stroke-width="0.8"/>
<line x1="288.13" y1="149.4" x2="288.13" y2="151.43" stroke="#1a1a1a" stroke-width="0.8"/>
<line x1="289.67" y1="149.4" x2="289.67" y2="151.43" stroke="#1a1a1a" stroke-width="0.8"/>
<line x1="291.83" y1="149.4" x2="291.83" y2="151.01" stroke="#1a1a1a" stroke-width="0.8"/>
<line x1="293.7" y1="149.4" x2="293.7" y2="150.93" stroke="#1a1a1a" stroke-width="0.8"/>
<line x1="295.36" y1="149.4" x2="295.36" y2="150.83" stroke="#1a1a1a" stroke-width="0.8"/>
<line x1="296.94" y1="149.4" x2="296.94" y2="151.67" stroke="#1a1a1a" stroke-width="0.8"/>
<line x1="299.19" y1="149.4" x2="299.19" y2="150.95" stroke="#1a1a1a" stroke-width="0.8"/>
<line x1="300.93" y1="149.4" x2="300.93" y2="150.95" stroke="#1a1a1a" stroke-width="0.8"/>
<line x1="303.21" y1="149.4" x2="303.21" y2="151.38" stroke="#1a1a1a" stroke-width="0.8"/>
<line x1="304.9" y1="149.4" x2="304.9" y2="151.66" stroke="#1a1a1a" stroke-width="0.8"/>
<line x1="306.86" y1="149.4" x2="306.86" y2="151.39" stroke="#1a1a1a" stroke-width="0.8"/>
<line x1="308.5" y1="149.4" x2="308.5" y2="151.13" stroke="#1a1a1a" stroke-width="0.8"/>
<line x1="310.28" y1="149.4" x2="310.28" y2="151.61" stroke="#1a1a1a" stroke-width="0.8"/>
<line x1="312.34" y1="149.4" x2="312.34" y2="151.5" stroke="#1a1a1a" stroke-width="0.8"/>
<line x1="313.91" y1="149.4" x2="313.91" y2="151.47" stroke="#1a1a1a" stroke-width="0.8"/>
<line x1="315.7" y1="149.4" x2="315.7" y2="151.41" stroke="#1a1a1a" stroke-width="0.8"/>
<line x1="317.91" y1="149.4" x2="317.91" y2="151.03" stroke="#1a1a1a" stroke-width="0.8"/>
<line x1="319.46" y1="149.4" x2="319.46" y2="150.81" stroke="#1a1a1a" stroke-width="0.8"/>
<line x1="321.02" y1="149.4" x2="321.02" y2="151.56" stroke="#1a1a1a" stroke-width="0.8"/>
<line x1="323.19" y1="149.4" x2="323.19" y2="151.53" stroke="#1a1a1a" stroke-width="0.8"/>
<line x1="325.26" y1="149.4" x2="325.26" y2="151.58" stroke="#1a1a1a" stroke-width="0.8"/>
<line x1="327.02" y1="149.4" x2="327.02" y2="150.93" stroke="#1a1a1a" stroke-width="0.8"/>
<line x1="328.98" y1="149.4" x2="328.98" y2="151.62" stroke="#1a1a1a" stroke-width="0.8"/>
<line x1="330.84" y1="149.4" x2="330.84" y2="151.6" stroke="#1a1a1a" stroke-width="0.8"/>
<line x1="332.76" y1="149.4" x2="332.76" y2="151.57" stroke="#1a1a1a" stroke-width="0.8"/>
<line x1="334.41" y1="149.4" x2="334.41" y2="151.63" stroke="#1a1a1a" stroke-width="0.8"/>
<line x1="336.32" y1="149.4" x2="336.32" y2="151.03" stroke="#1a1a1a" stroke-width="0.8"/>
<line x1="338.61" y1="149.4" x2="338.61" y2="150.87" stroke="#1a1a1a" stroke-width="0.8"/>
<line x1="340.45" y1="149.4" x2="340.45" y2="151.54" stroke="#1a1a1a" stroke-width="0.8"/>
<line x1="342.61" y1="149.4" x2="342.61" y2="151.09" stroke="#1a1a1a" stroke-width="0.8"/>
<line x1="344.9" y1="149.4" x2="344.9" y2="151.37" stroke="#1a1a1a" stroke-width="0.8"/>
<line x1="346.55" y1="149.4" x2="346.55" y2="151.21" stroke="#1a1a1a" stroke-width="0.8"/>
<line x1="348.28" y1="149.4" x2="348.28" y2="150.91" stroke="#1a1a1a" stroke-width="0.8"/>
<line x1="349.82" y1="149.4" x2="349.82" y2="150.99" stroke="#1a1a1a" stroke-width="0.8"/>
<line x1="351.95" y1="149.4" x2="351.95" y2="150.83" stroke="#1a1a1a" stroke-width="0.8"/>
<line x1="353.58" y1="149.4" x2="353.58" y2="151.04" stroke="#1a1a1a" stroke-width="0.8"/>
<line x1="355.38" y1="149.4" x2="355.38" y2="151.42" stroke="#1a1a1a" stroke-width="0.8"/>
<line x1="357.46" y1="149.4" x2="357.46" y2="151.5" stroke="#1a1a1a" stroke-width="0.8"/>
<line x1="359.55" y1="149.4" x2="359.55" y2="151.68" stroke="#1a1a1a" stroke-width="0.8"/>
<line x1="361.47" y1="149.4" x2="361.47" y2="151.64" stroke="#1a1a1a" stroke-width="0.8"/>
<line x1="363.26" y1="149.4" x2="363.26" y2="151.44" stroke="#1a1a1a" stroke-width="0.8"/>
<line x1="365.41" y1="149.4" x2="365.41" y2="151.23" stroke="#1a1a1a" stroke-width="0.8"/>
<line x1="367.5" y1="149.4" x2="367.5" y2="151.35" stroke="#1a1a1a" stroke-width="0.8"/>
<line x1="369.23" y1="149.4" x2="369.23" y2="151.04" stroke="#1a1a1a" stroke-width="0.8"/>
<line x1="371.39" y1="149.4" x2="371.39" y2="151.35" stroke="#1a1a1a" stroke-width="0.8"/>
<line x1="373.35" y1="149.4" x2="373.35" y2="151.24" stroke="#1a1a1a" stroke-width="0.8"/>
<line x1="375.08" y1="149.4" x2="375.08" y2="151.09" stroke="#1a1a1a" stroke-width="0.8"/>
<line x1="376.78" y1="149.4" x2="376.78" y2="151.5" stroke="#1a1a1a" stroke-width="0.8"/>
<line x1="378.64" y1="149.4" x2="378.64" y2="151.36" stroke="#1a1a1a" stroke-width="0.8"/>
<line x1="380.52" y1="149.4" x2="380.52" y2="151.3" stroke="#1a1a1a" stroke-width="0.8"/>
<line x1="259.5" y1="149.4" x2="259.5" y2="152.2" stroke="#111" stroke-width="0.9"/>
<line x1="301" y1="149.4" x2="301" y2="152.2" stroke="#111" stroke-width="0.9"/>
<line x1="339" y1="149.4" x2="339" y2="152.2" stroke="#111" stroke-width="0.9"/>
<line x1="372" y1="149.4" x2="372" y2="152.2" stroke="#111" stroke-width="0.9"/>
<text x="259.4" y="162.8" font-size="8.2" text-anchor="middle" fill="#222" stroke="#222" stroke-width="0.2">-10<tspan font-size="6.56" dy="-3.3">3</tspan></text>
<text x="282.8" y="162.8" font-size="8.2" text-anchor="middle" fill="#222" stroke="#222" stroke-width="0.2">0</text>
<text x="302" y="162.8" font-size="8.2" text-anchor="middle" fill="#222" stroke="#222" stroke-width="0.2">10<tspan font-size="6.56" dy="-3.3">3</tspan></text>
<text x="338.5" y="162.8" font-size="8.2" text-anchor="middle" fill="#222" stroke="#222" stroke-width="0.2">10<tspan font-size="6.56" dy="-3.3">4</tspan></text>
<text x="369.5" y="162.8" font-size="8.2" text-anchor="middle" fill="#222" stroke="#222" stroke-width="0.2">10<tspan font-size="6.56" dy="-3.3">5</tspan></text>
<line x1="227" y1="157.3" x2="227" y2="34.8" stroke="#444" stroke-width="1.15"/>
<path d="M227 31.8 L224.4 37.6 L227 36.7 L229.6 37.6 Z" fill="#111"/>
<line x1="246.2" y1="168" x2="374.3" y2="168" stroke="#444" stroke-width="1.15"/>
<path d="M377.3 168 L371.3 165.3 L372.3 168 L371.3 170.7 Z" fill="#111"/>
<text transform="translate(221.7 83.5) rotate(-90)" font-size="10.6" text-anchor="middle" fill="#222" stroke="#222" stroke-width="0.42" textLength="20.6" lengthAdjust="spacingAndGlyphs">Counts</text>
<text x="279.4" y="179.9" font-size="9.2" fill="#222" stroke="#222" stroke-width="0.38" textLength="74.6" lengthAdjust="spacingAndGlyphs">ADAMTS13-AF488 (MFI)</text>
<line x1="254.9" y1="26.5" x2="265" y2="26.5" stroke="#a8001f" stroke-width="1.8"/>
<line x1="254.9" y1="38" x2="265" y2="38" stroke="#a8001f" stroke-width="1.8" stroke-dasharray="1.2 0.9"/>
<text x="267.6" y="28.55" font-size="6.6" fill="#333">- EDHu-2</text>
<text x="267.6" y="40.05" font-size="6.6" fill="#333">+ EDHu-2</text>
<text transform="translate(202.3 16.2) scale(0.9 1)" font-size="12.6" font-weight="bold" fill="#000" stroke="#000" stroke-width="0.3">B</text>
<path d="M55 330.6 L55.7 330.6 L56.41 330.6 L57.11 330.6 L57.82 330.6 L58.52 330.6 L59.22 330.6 L59.93 330.6 L60.63 330.6 L61.33 330.6 L62.04 330.6 L62.74 330.6 L63.45 330.6 L64.15 330.6 L64.85 330.6 L65.56 330.6 L66.26 330.6 L66.96 330.6 L67.67 330.6 L68.37 330.6 L69.08 330.6 L69.78 330.6 L70.48 330.6 L71.19 330.6 L71.89 330.6 L72.59 330.6 L73.3 330.6 L74 330.6 L74.71 330.6 L75.41 330.6 L76.11 330.6 L76.82 330.6 L77.52 330.6 L78.22 330.6 L78.93 330.6 L79.63 330.6 L80.34 330.6 L81.04 330.6 L81.74 330.6 L82.45 330.6 L83.15 330.6 L83.85 330.6 L84.56 330.6 L85.26 330.6 L85.97 330.6 L86.67 330.6 L87.37 330.6 L88.08 330.6 L88.78 330.6 L89.48 330.6 L90.19 330.6 L90.89 330.6 L91.6 330.6 L92.3 330.6 L92.58 329.73 L92.96 328.7 L93.39 327.24 L93.81 325.78 L94.35 325.25 L94.95 323.66 L95.42 321.84 L95.83 320.33 L96.43 317.78 L96.71 314.84 L97.43 312.17 L97.82 310.98 L98.05 308.95 L99.04 305.78 L99.1 303 L98.98 299.12 L99.21 294.56 L101.3 289.91 L101.56 284.61 L101.32 282.91 L102.33 280.49 L102.4 276.39 L102.66 270.01 L103.44 262.8 L104.52 257.68 L103.67 251.63 L103.63 244.44 L103.91 242.68 L105.41 236.56 L104.96 231.68 L106.16 229.01 L106.61 223.71 L106.74 221.06 L107.98 217.98 L106.74 217.5 L109.05 218.13 L109.11 214.84 L110.34 213.89 L109.68 216.21 L110.12 215.62 L110.19 213.18 L109.94 215.49 L111.35 208.6 L112.04 208.6 L112.11 208.6 L113.19 211.69 L112.82 216.35 L113.81 224.61 L115.25 226.41 L114.03 228.78 L115.01 231.63 L114.69 233.94 L115.46 238.83 L115.94 247.59 L117.03 252.61 L117.59 257.29 L117.47 265.27 L118.02 269.23 L118.92 271.09 L119.1 277.62 L119.28 282.63 L119.38 285.15 L119.81 289.73 L120.02 294.78 L121.23 298.88 L120.76 301.78 L122.52 305.43 L122.5 309.18 L123.29 312.18 L123.8 314.86 L124.22 317.32 L124.47 319.6 L124.86 320.51 L125.47 321.85 L125.78 323.71 L126.37 325.12 L126.77 326.18 L127.36 327.13 L127.84 328.37 L128.36 329.38 L128.79 330.02 L129.1 330.6 L129.81 330.6 L130.51 330.6 L131.22 330.6 L131.92 330.6 L132.62 330.6 L133.33 330.6 L134.03 330.6 L134.74 330.6 L135.44 330.6 L136.15 330.6 L136.85 330.6 L137.56 330.6 L138.26 330.6 L138.97 330.6 L139.67 330.6 L140.38 330.6 L141.09 330.6 L141.79 330.6 L142.5 330.6 L143.2 330.6 L143.91 330.6 L144.61 330.6 L145.31 330.6 L146.02 330.6 L146.72 330.6 L147.43 330.6 L148.13 330.6 L148.84 330.6 L149.54 330.6 L150.25 330.6 L150.95 330.6 L151.66 330.6 L152.37 330.6 L153.07 330.6 L153.78 330.6 L154.48 330.6 L155.19 330.6 L155.89 330.6 L156.59 330.6 L157.3 330.6 L158 330.6 L158.71 330.6 L159.41 330.6 L160.12 330.6 L160.82 330.6 L161.53 330.6 L162.24 330.6 L162.94 330.6 L163.65 330.6 L164.35 330.6 L165.06 330.6 L165.76 330.6 L166.47 330.6 L167.17 330.6 L167.88 330.6 L168.58 330.6 L169.28 330.6 L169.99 330.6 L170.69 330.6 L171.4 330.6 L172.1 330.6 L172.81 330.6 L173.51 330.6 L174.22 330.6 L174.93 330.6 L175.63 330.6 L176.34 330.6 L177.04 330.6 L177.75 330.6 L178.45 330.6 L179.16 330.6 L179.86 330.6 L180.56 330.6 L181.27 330.6 L181.97 330.6 L182.68 330.6 L183.38 330.6 L184.09 330.6 L184.8 330.6 L185.5 330.6 Z" fill="#93a3be" stroke="none"/>
<path d="M55 330.6 L55.7 330.6 L56.41 330.6 L57.11 330.6 L57.82 330.6 L58.52 330.6 L59.22 330.6 L59.93 330.6 L60.63 330.6 L61.33 330.6 L62.04 330.6 L62.74 330.6 L63.45 330.6 L64.15 330.6 L64.85 330.6 L65.56 330.6 L66.26 330.6 L66.96 330.6 L67.67 330.6 L68.37 330.6 L69.08 330.6 L69.78 330.6 L70.48 330.6 L71.19 330.6 L71.89 330.6 L72.59 330.6 L73.3 330.6 L74 330.6 L74.71 330.6 L75.41 330.6 L76.11 330.6 L76.82 330.6 L77.52 330.6 L78.22 330.6 L78.93 330.6 L79.63 330.6 L80.34 330.6 L81.04 330.6 L81.74 330.6 L82.45 330.6 L83.15 330.6 L83.85 330.6 L84.56 330.6 L85.26 330.6 L85.97 330.6 L86.67 330.6 L87.37 330.6 L88.08 330.6 L88.78 330.6 L89.48 330.6 L90.19 330.6 L90.89 330.6 L91.6 330.6 L92.3 330.6 L92.58 329.73 L92.96 328.7 L93.39 327.24 L93.81 325.78 L94.35 325.25 L94.95 323.66 L95.42 321.84 L95.83 320.33 L96.43 317.78 L96.71 314.84 L97.43 312.17 L97.82 310.98 L98.05 308.95 L99.04 305.78 L99.1 303 L98.98 299.12 L99.21 294.56 L101.3 289.91 L101.56 284.61 L101.32 282.91 L102.33 280.49 L102.4 276.39 L102.66 270.01 L103.44 262.8 L104.52 257.68 L103.67 251.63 L103.63 244.44 L103.91 242.68 L105.41 236.56 L104.96 231.68 L106.16 229.01 L106.61 223.71 L106.74 221.06 L107.98 217.98 L106.74 217.5 L109.05 218.13 L109.11 214.84 L110.34 213.89 L109.68 216.21 L110.12 215.62 L110.19 213.18 L109.94 215.49 L111.35 208.6 L112.04 208.6 L112.11 208.6 L113.19 211.69 L112.82 216.35 L113.81 224.61 L115.25 226.41 L114.03 228.78 L115.01 231.63 L114.69 233.94 L115.46 238.83 L115.94 247.59 L117.03 252.61 L117.59 257.29 L117.47 265.27 L118.02 269.23 L118.92 271.09 L119.1 277.62 L119.28 282.63 L119.38 285.15 L119.81 289.73 L120.02 294.78 L121.23 298.88 L120.76 301.78 L122.52 305.43 L122.5 309.18 L123.29 312.18 L123.8 314.86 L124.22 317.32 L124.47 319.6 L124.86 320.51 L125.47 321.85 L125.78 323.71 L126.37 325.12 L126.77 326.18 L127.36 327.13 L127.84 328.37 L128.36 329.38 L128.79 330.02 L129.1 330.6 L129.81 330.6 L130.51 330.6 L131.22 330.6 L131.92 330.6 L132.62 330.6 L133.33 330.6 L134.03 330.6 L134.74 330.6 L135.44 330.6 L136.15 330.6 L136.85 330.6 L137.56 330.6 L138.26 330.6 L138.97 330.6 L139.67 330.6 L140.38 330.6 L141.09 330.6 L141.79 330.6 L142.5 330.6 L143.2 330.6 L143.91 330.6 L144.61 330.6 L145.31 330.6 L146.02 330.6 L146.72 330.6 L147.43 330.6 L148.13 330.6 L148.84 330.6 L149.54 330.6 L150.25 330.6 L150.95 330.6 L151.66 330.6 L152.37 330.6 L153.07 330.6 L153.78 330.6 L154.48 330.6 L155.19 330.6 L155.89 330.6 L156.59 330.6 L157.3 330.6 L158 330.6 L158.71 330.6 L159.41 330.6 L160.12 330.6 L160.82 330.6 L161.53 330.6 L162.24 330.6 L162.94 330.6 L163.65 330.6 L164.35 330.6 L165.06 330.6 L165.76 330.6 L166.47 330.6 L167.17 330.6 L167.88 330.6 L168.58 330.6 L169.28 330.6 L169.99 330.6 L170.69 330.6 L171.4 330.6 L172.1 330.6 L172.81 330.6 L173.51 330.6 L174.22 330.6 L174.93 330.6 L175.63 330.6 L176.34 330.6 L177.04 330.6 L177.75 330.6 L178.45 330.6 L179.16 330.6 L179.86 330.6 L180.56 330.6 L181.27 330.6 L181.97 330.6 L182.68 330.6 L183.38 330.6 L184.09 330.6 L184.8 330.6 L185.5 330.6" fill="none" stroke="#1f3f7c" stroke-width="1.4" stroke-linejoin="round"/>
<path d="M55 330.65 L55.71 330.65 L56.41 330.65 L57.12 330.65 L57.82 330.65 L58.53 330.65 L59.23 330.65 L59.94 330.65 L60.65 330.65 L61.35 330.65 L62.06 330.65 L62.76 330.65 L63.47 330.65 L64.17 330.65 L64.88 330.65 L65.59 330.65 L66.29 330.65 L67 330.65 L67.7 330.65 L68.41 330.65 L69.11 330.65 L69.82 330.65 L70.53 330.65 L71.23 330.65 L71.94 330.65 L72.64 330.65 L73.35 330.65 L74.05 330.65 L74.76 330.65 L75.47 330.65 L76.17 330.65 L76.88 330.65 L77.58 330.65 L78.29 330.65 L78.99 330.65 L79.7 330.65 L80.41 330.65 L81.11 330.65 L81.82 330.65 L82.52 330.65 L83.23 330.65 L83.93 330.65 L84.64 330.65 L85.35 330.65 L86.05 330.65 L86.76 330.65 L87.46 330.65 L88.17 330.65 L88.87 330.65 L89.58 330.65 L90.29 330.65 L90.99 330.65 L91.7 330.65 L92.4 330.65 L93.11 330.65 L93.81 330.65 L94.52 330.65 L95.23 330.65 L95.93 330.65 L96.64 330.65 L97.34 330.65 L98.05 330.65 L98.75 330.65 L99.46 330.65 L100.17 330.65 L100.87 330.65 L101.58 330.65 L102.28 330.65 L102.99 330.65 L103.69 330.65 L104.4 330.65 L104.68 330.45 L105.03 330.24 L105.44 330.01 L105.89 329.76 L106.39 329.49 L106.93 329.14 L107.47 328.88 L108.05 328.58 L108.62 328.06 L109.17 327.71 L109.77 327.33 L110.27 326.82 L110.78 326.26 L111.29 325.68 L111.68 325.01 L112.31 323.75 L112.83 322.39 L113.29 321.33 L113.78 320.64 L114.08 319.55 L114.73 316.92 L115.04 315.12 L115.29 313.89 L115.77 311.81 L116.41 309.97 L116.86 307.79 L117.25 305.09 L117.75 302.52 L118.11 300.47 L118.53 298.28 L118.99 295.27 L119.62 292.26 L120.19 288.89 L120.25 283.64 L121.31 277.94 L121.31 273.24 L122.4 269.38 L122.37 264.05 L122.83 259.55 L123.13 252.95 L124.1 247.68 L123.94 243.69 L124.57 237.61 L124.69 230.64 L125.57 226.48 L126.26 222.67 L126.53 217.58 L126.81 214.13 L127.28 211.73 L127.75 209.29 L128.12 209.16 L128.77 209.57 L129.29 208.65 L129.88 208.63 L129.97 209.93 L130.78 212.6 L131.23 215.58 L131.21 217.38 L131.93 219.79 L132.48 222.01 L132.37 225.22 L132.67 229.82 L133.5 233.45 L133.81 237.29 L134.39 242.47 L134.65 248.53 L134.91 253.84 L135.5 260.32 L135.99 265.37 L136.05 271.18 L136.28 278.15 L137.28 283.12 L137.73 287.84 L137.43 292.05 L138.01 296.64 L138.55 301.6 L139.4 306.34 L139.8 310.64 L140.21 313.38 L140.75 316.4 L141.22 319.47 L141.79 322.6 L142.32 325.27 L142.7 327.17 L143.11 329.16 L143.4 330.65 L144.1 330.65 L144.8 330.65 L145.5 330.65 L146.21 330.65 L146.91 330.65 L147.61 330.65 L148.31 330.65 L149.01 330.65 L149.72 330.65 L150.42 330.65 L151.12 330.65 L151.82 330.65 L152.52 330.65 L153.22 330.65 L153.93 330.65 L154.63 330.65 L155.33 330.65 L156.03 330.65 L156.73 330.65 L157.43 330.65 L158.13 330.65 L158.84 330.65 L159.54 330.65 L160.24 330.65 L160.94 330.65 L161.64 330.65 L162.34 330.65 L163.05 330.65 L163.75 330.65 L164.45 330.65 L165.15 330.65 L165.85 330.65 L166.56 330.65 L167.26 330.65 L167.96 330.65 L168.66 330.65 L169.36 330.65 L170.06 330.65 L170.77 330.65 L171.47 330.65 L172.17 330.65 L172.87 330.65 L173.57 330.65 L174.27 330.65 L174.97 330.65 L175.68 330.65 L176.38 330.65 L177.08 330.65 L177.78 330.65 L178.48 330.65 L179.19 330.65 L179.89 330.65 L180.59 330.65 L181.29 330.65 L181.99 330.65 L182.69 330.65 L183.39 330.65 L184.1 330.65 L184.8 330.65 L185.5 330.65" fill="none" stroke="#a8001f" stroke-width="1.6" stroke-dasharray="1.3 1.0"/>
<path d="M55 330.65 L55.7 330.65 L56.4 330.65 L57.1 330.65 L57.81 330.65 L58.51 330.65 L59.21 330.65 L59.91 330.65 L60.61 330.65 L61.31 330.65 L62.01 330.65 L62.72 330.65 L63.42 330.65 L64.12 330.65 L64.82 330.65 L65.52 330.65 L66.22 330.65 L66.92 330.65 L67.63 330.65 L68.33 330.65 L69.03 330.65 L69.73 330.65 L70.43 330.65 L71.13 330.65 L71.83 330.65 L72.54 330.65 L73.24 330.65 L73.94 330.65 L74.64 330.65 L75.34 330.65 L76.04 330.65 L76.74 330.65 L77.45 330.65 L78.15 330.65 L78.85 330.65 L79.55 330.65 L80.25 330.65 L80.95 330.65 L81.66 330.65 L82.36 330.65 L83.06 330.65 L83.76 330.65 L84.46 330.65 L85.16 330.65 L85.86 330.65 L86.57 330.65 L87.27 330.65 L87.97 330.65 L88.67 330.65 L89.37 330.65 L90.07 330.65 L90.77 330.65 L91.48 330.65 L92.18 330.65 L92.88 330.65 L93.58 330.65 L94.28 330.65 L94.98 330.65 L95.68 330.65 L96.39 330.65 L97.09 330.65 L97.79 330.65 L98.49 330.65 L99.19 330.65 L99.89 330.65 L100.59 330.65 L101.3 330.65 L102 330.65 L102.7 330.65 L103.4 330.65 L103.68 330.45 L104.03 330.24 L104.44 330.01 L104.89 329.76 L105.39 329.49 L105.92 329.2 L106.47 328.88 L107.05 328.51 L107.6 328.11 L108.2 327.76 L108.75 327.14 L109.31 326.59 L109.83 326.16 L110.26 325.56 L110.72 324.83 L111.3 323.68 L111.83 322.72 L112.3 321.65 L112.75 320.15 L113.15 318.47 L113.59 316.85 L114.08 315.08 L114.46 313.61 L114.96 312.38 L115.25 310.68 L115.87 307.68 L116.39 305.1 L116.95 302.86 L117.36 299.96 L117.39 296.79 L118.4 293.83 L118.76 290.54 L118.93 287.44 L119.56 283.62 L120.03 278.87 L120.61 274.33 L121.18 269.55 L121.74 265.55 L121.73 260.69 L122.3 252.97 L122.5 247.64 L123.18 241.67 L123.46 236.38 L123.59 231.73 L124.51 226.4 L125.21 222.25 L124.99 217.87 L125.7 214.87 L126.37 212.14 L126.95 209.26 L126.84 207.59 L127.96 206.07 L128.25 205.8 L128.5 207.11 L129.26 210.39 L129.72 212.72 L129.87 213.9 L130.5 217.64 L131.01 220.85 L131.59 224.55 L131.75 230.01 L132.25 235.15 L133.01 241.16 L133.47 248.91 L133.66 255.82 L134.07 262.34 L134.24 269.11 L135.24 275.59 L135.23 282.13 L136.2 286.95 L136.27 292.46 L136.77 297.04 L137.27 301.18 L137.62 305.76 L138.28 310.02 L138.65 312.97 L139.34 316.33 L139.73 319.36 L140.27 322.19 L140.81 324.75 L141.22 327 L141.61 329.04 L141.9 330.65 L142.6 330.65 L143.31 330.65 L144.01 330.65 L144.71 330.65 L145.42 330.65 L146.12 330.65 L146.82 330.65 L147.53 330.65 L148.23 330.65 L148.93 330.65 L149.64 330.65 L150.34 330.65 L151.04 330.65 L151.75 330.65 L152.45 330.65 L153.15 330.65 L153.85 330.65 L154.56 330.65 L155.26 330.65 L155.96 330.65 L156.67 330.65 L157.37 330.65 L158.07 330.65 L158.78 330.65 L159.48 330.65 L160.18 330.65 L160.89 330.65 L161.59 330.65 L162.29 330.65 L163 330.65 L163.7 330.65 L164.4 330.65 L165.11 330.65 L165.81 330.65 L166.51 330.65 L167.22 330.65 L167.92 330.65 L168.62 330.65 L169.33 330.65 L170.03 330.65 L170.73 330.65 L171.44 330.65 L172.14 330.65 L172.84 330.65 L173.55 330.65 L174.25 330.65 L174.95 330.65 L175.65 330.65 L176.36 330.65 L177.06 330.65 L177.76 330.65 L178.47 330.65 L179.17 330.65 L179.87 330.65 L180.58 330.65 L181.28 330.65 L181.98 330.65 L182.69 330.65 L183.39 330.65 L184.09 330.65 L184.8 330.65 L185.5 330.65" fill="none" stroke="#a8001f" stroke-width="1.6" stroke-linejoin="round"/>
<path d="M54.4 199.2H186.1V331.05" fill="none" stroke="#333" stroke-width="1.15"/>
<path d="M54.4 199.2V331.05H186.1" fill="none" stroke="#1a1a1a" stroke-width="1.1"/>
<line x1="51.2" y1="330.2" x2="54.4" y2="330.2" stroke="#1a1a1a" stroke-width="0.9"/>
<text x="48" y="332.8" font-size="8.2" text-anchor="end" fill="#222" stroke="#222" stroke-width="0.22">0</text>
<line x1="52.8" y1="321.38" x2="54.4" y2="321.38" stroke="#1a1a1a" stroke-width="0.9"/>
<line x1="52.8" y1="312.55" x2="54.4" y2="312.55" stroke="#1a1a1a" stroke-width="0.9"/>
<line x1="52.8" y1="303.72" x2="54.4" y2="303.72" stroke="#1a1a1a" stroke-width="0.9"/>
<line x1="51.2" y1="294.9" x2="54.4" y2="294.9" stroke="#1a1a1a" stroke-width="0.9"/>
<text x="48" y="297.5" font-size="8.2" text-anchor="end" fill="#222" stroke="#222" stroke-width="0.22">200</text>
<line x1="52.8" y1="286.07" x2="54.4" y2="286.07" stroke="#1a1a1a" stroke-width="0.9"/>
<line x1="52.8" y1="277.25" x2="54.4" y2="277.25" stroke="#1a1a1a" stroke-width="0.9"/>
<line x1="52.8" y1="268.43" x2="54.4" y2="268.43" stroke="#1a1a1a" stroke-width="0.9"/>
<line x1="51.2" y1="259.6" x2="54.4" y2="259.6" stroke="#1a1a1a" stroke-width="0.9"/>
<text x="48" y="262.2" font-size="8.2" text-anchor="end" fill="#222" stroke="#222" stroke-width="0.22">400</text>
<line x1="52.8" y1="250.77" x2="54.4" y2="250.77" stroke="#1a1a1a" stroke-width="0.9"/>
<line x1="52.8" y1="241.95" x2="54.4" y2="241.95" stroke="#1a1a1a" stroke-width="0.9"/>
<line x1="52.8" y1="233.12" x2="54.4" y2="233.12" stroke="#1a1a1a" stroke-width="0.9"/>
<line x1="51.2" y1="224.3" x2="54.4" y2="224.3" stroke="#1a1a1a" stroke-width="0.9"/>
<text x="48" y="226.9" font-size="8.2" text-anchor="end" fill="#222" stroke="#222" stroke-width="0.22">600</text>
<line x1="52.8" y1="215.47" x2="54.4" y2="215.47" stroke="#1a1a1a" stroke-width="0.9"/>
<line x1="52.8" y1="206.65" x2="54.4" y2="206.65" stroke="#1a1a1a" stroke-width="0.9"/>
<line x1="63.7" y1="331.4" x2="63.7" y2="333.63" stroke="#1a1a1a" stroke-width="0.8"/>
<line x1="65.52" y1="331.4" x2="65.52" y2="333.1" stroke="#1a1a1a" stroke-width="0.8"/>
<line x1="67.46" y1="331.4" x2="67.46" y2="333.31" stroke="#1a1a1a" stroke-width="0.8"/>
<line x1="69.63" y1="331.4" x2="69.63" y2="333.29" stroke="#1a1a1a" stroke-width="0.8"/>
<line x1="71.48" y1="331.4" x2="71.48" y2="333.56" stroke="#1a1a1a" stroke-width="0.8"/>
<line x1="73.74" y1="331.4" x2="73.74" y2="333.19" stroke="#1a1a1a" stroke-width="0.8"/>
<line x1="75.97" y1="331.4" x2="75.97" y2="333.47" stroke="#1a1a1a" stroke-width="0.8"/>
<line x1="77.49" y1="331.4" x2="77.49" y2="333.52" stroke="#1a1a1a" stroke-width="0.8"/>
<line x1="79" y1="331.4" x2="79" y2="333.35" stroke="#1a1a1a" stroke-width="0.8"/>
<line x1="81.3" y1="331.4" x2="81.3" y2="333.04" stroke="#1a1a1a" stroke-width="0.8"/>
<line x1="83.9" y1="331.4" x2="83.9" y2="333.21" stroke="#1a1a1a" stroke-width="0.8"/>
<line x1="86.3" y1="331.4" x2="86.3" y2="333.45" stroke="#1a1a1a" stroke-width="0.8"/>
<line x1="88.3" y1="331.4" x2="88.3" y2="333.04" stroke="#1a1a1a" stroke-width="0.8"/>
<line x1="90.5" y1="331.4" x2="90.5" y2="333.04" stroke="#1a1a1a" stroke-width="0.8"/>
<line x1="92.11" y1="331.4" x2="92.11" y2="333.3" stroke="#1a1a1a" stroke-width="0.8"/>
<line x1="94.39" y1="331.4" x2="94.39" y2="333.53" stroke="#1a1a1a" stroke-width="0.8"/>
<line x1="96.05" y1="331.4" x2="96.05" y2="333.63" stroke="#1a1a1a" stroke-width="0.8"/>
<line x1="97.93" y1="331.4" x2="97.93" y2="333.61" stroke="#1a1a1a" stroke-width="0.8"/>
<line x1="99.9" y1="331.4" x2="99.9" y2="333.62" stroke="#1a1a1a" stroke-width="0.8"/>
<line x1="101.98" y1="331.4" x2="101.98" y2="333.57" stroke="#1a1a1a" stroke-width="0.8"/>
<line x1="103.66" y1="331.4" x2="103.66" y2="333.35" stroke="#1a1a1a" stroke-width="0.8"/>
<line x1="105.69" y1="331.4" x2="105.69" y2="333.57" stroke="#1a1a1a" stroke-width="0.8"/>
<line x1="107.71" y1="331.4" x2="107.71" y2="333.14" stroke="#1a1a1a" stroke-width="0.8"/>
<line x1="109.82" y1="331.4" x2="109.82" y2="333.58" stroke="#1a1a1a" stroke-width="0.8"/>
<line x1="111.59" y1="331.4" x2="111.59" y2="333" stroke="#1a1a1a" stroke-width="0.8"/>
<line x1="113.31" y1="331.4" x2="113.31" y2="333.21" stroke="#1a1a1a" stroke-width="0.8"/>
<line x1="115.37" y1="331.4" x2="115.37" y2="333.59" stroke="#1a1a1a" stroke-width="0.8"/>
<line x1="117.01" y1="331.4" x2="117.01" y2="332.83" stroke="#1a1a1a" stroke-width="0.8"/>
<line x1="118.88" y1="331.4" x2="118.88" y2="333.12" stroke="#1a1a1a" stroke-width="0.8"/>
<line x1="121.05" y1="331.4" x2="121.05" y2="333.65" stroke="#1a1a1a" stroke-width="0.8"/>
<line x1="122.6" y1="331.4" x2="122.6" y2="333.16" stroke="#1a1a1a" stroke-width="0.8"/>
<line x1="124.69" y1="331.4" x2="124.69" y2="333.49" stroke="#1a1a1a" stroke-width="0.8"/>
<line x1="126.62" y1="331.4" x2="126.62" y2="333.31" stroke="#1a1a1a" stroke-width="0.8"/>
<line x1="128.46" y1="331.4" x2="128.46" y2="333.34" stroke="#1a1a1a" stroke-width="0.8"/>
<line x1="129.97" y1="331.4" x2="129.97" y2="332.96" stroke="#1a1a1a" stroke-width="0.8"/>
<line x1="131.72" y1="331.4" x2="131.72" y2="333.34" stroke="#1a1a1a" stroke-width="0.8"/>
<line x1="133.48" y1="331.4" x2="133.48" y2="333.26" stroke="#1a1a1a" stroke-width="0.8"/>
<line x1="135.38" y1="331.4" x2="135.38" y2="333.37" stroke="#1a1a1a" stroke-width="0.8"/>
<line x1="137.41" y1="331.4" x2="137.41" y2="333.26" stroke="#1a1a1a" stroke-width="0.8"/>
<line x1="139.04" y1="331.4" x2="139.04" y2="332.89" stroke="#1a1a1a" stroke-width="0.8"/>
<line x1="140.96" y1="331.4" x2="140.96" y2="333.36" stroke="#1a1a1a" stroke-width="0.8"/>
<line x1="142.55" y1="331.4" x2="142.55" y2="333.49" stroke="#1a1a1a" stroke-width="0.8"/>
<line x1="144.32" y1="331.4" x2="144.32" y2="333.53" stroke="#1a1a1a" stroke-width="0.8"/>
<line x1="145.89" y1="331.4" x2="145.89" y2="333.57" stroke="#1a1a1a" stroke-width="0.8"/>
<line x1="147.58" y1="331.4" x2="147.58" y2="333.55" stroke="#1a1a1a" stroke-width="0.8"/>
<line x1="149.87" y1="331.4" x2="149.87" y2="333.61" stroke="#1a1a1a" stroke-width="0.8"/>
<line x1="151.41" y1="331.4" x2="151.41" y2="333.14" stroke="#1a1a1a" stroke-width="0.8"/>
<line x1="153.1" y1="331.4" x2="153.1" y2="333.66" stroke="#1a1a1a" stroke-width="0.8"/>
<line x1="155.33" y1="331.4" x2="155.33" y2="333.53" stroke="#1a1a1a" stroke-width="0.8"/>
<line x1="157.36" y1="331.4" x2="157.36" y2="333.6" stroke="#1a1a1a" stroke-width="0.8"/>
<line x1="159.29" y1="331.4" x2="159.29" y2="333.38" stroke="#1a1a1a" stroke-width="0.8"/>
<line x1="161.23" y1="331.4" x2="161.23" y2="333.02" stroke="#1a1a1a" stroke-width="0.8"/>
<line x1="162.91" y1="331.4" x2="162.91" y2="333.56" stroke="#1a1a1a" stroke-width="0.8"/>
<line x1="164.55" y1="331.4" x2="164.55" y2="333.36" stroke="#1a1a1a" stroke-width="0.8"/>
<line x1="166.62" y1="331.4" x2="166.62" y2="333.39" stroke="#1a1a1a" stroke-width="0.8"/>
<line x1="168.5" y1="331.4" x2="168.5" y2="333.63" stroke="#1a1a1a" stroke-width="0.8"/>
<line x1="170.52" y1="331.4" x2="170.52" y2="333.24" stroke="#1a1a1a" stroke-width="0.8"/>
<line x1="172.39" y1="331.4" x2="172.39" y2="333.37" stroke="#1a1a1a" stroke-width="0.8"/>
<line x1="174.05" y1="331.4" x2="174.05" y2="333.57" stroke="#1a1a1a" stroke-width="0.8"/>
<line x1="176.26" y1="331.4" x2="176.26" y2="333.55" stroke="#1a1a1a" stroke-width="0.8"/>
<line x1="177.95" y1="331.4" x2="177.95" y2="333.47" stroke="#1a1a1a" stroke-width="0.8"/>
<line x1="180.12" y1="331.4" x2="180.12" y2="333.22" stroke="#1a1a1a" stroke-width="0.8"/>
<line x1="181.78" y1="331.4" x2="181.78" y2="332.91" stroke="#1a1a1a" stroke-width="0.8"/>
<line x1="183.92" y1="331.4" x2="183.92" y2="333.26" stroke="#1a1a1a" stroke-width="0.8"/>
<line x1="62.1" y1="331.4" x2="62.1" y2="334.2" stroke="#111" stroke-width="0.9"/>
<line x1="103.8" y1="331.4" x2="103.8" y2="334.2" stroke="#111" stroke-width="0.9"/>
<line x1="141" y1="331.4" x2="141" y2="334.2" stroke="#111" stroke-width="0.9"/>
<line x1="174" y1="331.4" x2="174" y2="334.2" stroke="#111" stroke-width="0.9"/>
<text x="62.5" y="344.5" font-size="8.2" text-anchor="middle" fill="#222" stroke="#222" stroke-width="0.2">-10<tspan font-size="6.56" dy="-3.3">3</tspan></text>
<text x="86.9" y="344.5" font-size="8.2" text-anchor="middle" fill="#222" stroke="#222" stroke-width="0.2">0</text>
<text x="106.1" y="344.5" font-size="8.2" text-anchor="middle" fill="#222" stroke="#222" stroke-width="0.2">10<tspan font-size="6.56" dy="-3.3">3</tspan></text>
<text x="142.5" y="344.5" font-size="8.2" text-anchor="middle" fill="#222" stroke="#222" stroke-width="0.2">10<tspan font-size="6.56" dy="-3.3">4</tspan></text>
<text x="173.5" y="344.5" font-size="8.2" text-anchor="middle" fill="#222" stroke="#222" stroke-width="0.2">10<tspan font-size="6.56" dy="-3.3">5</tspan></text>
<line x1="30.4" y1="340.2" x2="30.4" y2="217.2" stroke="#444" stroke-width="1.15"/>
<path d="M30.4 214.2 L27.8 220 L30.4 219.1 L33 220 Z" fill="#111"/>
<line x1="47.2" y1="349.3" x2="175.2" y2="349.3" stroke="#444" stroke-width="1.15"/>
<path d="M178.2 349.3 L172.2 346.6 L173.2 349.3 L172.2 352 Z" fill="#111"/>
<text transform="translate(25.1 265) rotate(-90)" font-size="10.6" text-anchor="middle" fill="#222" stroke="#222" stroke-width="0.42" textLength="20.6" lengthAdjust="spacingAndGlyphs">Counts</text>
<text x="82.2" y="361.9" font-size="9.2" fill="#222" stroke="#222" stroke-width="0.38" textLength="75.6" lengthAdjust="spacingAndGlyphs">ADAMTS13-AF488 (MFI)</text>
<line x1="59.6" y1="207" x2="69.9" y2="207" stroke="#a8001f" stroke-width="1.8"/>
<line x1="59.6" y1="218.9" x2="69.9" y2="218.9" stroke="#a8001f" stroke-width="1.8" stroke-dasharray="1.2 0.9"/>
<text x="72.6" y="209.05" font-size="6.6" fill="#333">- EDHu-3</text>
<text x="72.6" y="220.95" font-size="6.6" fill="#333">+ EDHu-3</text>
<text transform="translate(7 196) scale(0.9 1)" font-size="12.6" font-weight="bold" fill="#000" stroke="#000" stroke-width="0.3">C</text>
<path d="M251.4 330.6 L252.11 330.6 L252.82 330.6 L253.53 330.6 L254.24 330.6 L254.95 330.6 L255.66 330.6 L256.37 330.6 L257.08 330.6 L257.79 330.6 L258.5 330.6 L259.21 330.6 L259.92 330.6 L260.62 330.6 L261.33 330.6 L262.04 330.6 L262.75 330.6 L263.46 330.6 L264.17 330.6 L264.88 330.6 L265.59 330.6 L266.3 330.6 L267.01 330.6 L267.72 330.6 L268.43 330.6 L269.14 330.6 L269.85 330.6 L270.56 330.6 L271.27 330.6 L271.98 330.6 L272.69 330.6 L273.4 330.6 L274.11 330.6 L274.82 330.6 L275.53 330.6 L276.24 330.6 L276.95 330.6 L277.66 330.6 L278.37 330.6 L279.07 330.6 L279.78 330.6 L280.49 330.6 L281.2 330.6 L281.91 330.6 L282.62 330.6 L283.33 330.6 L284.04 330.6 L284.75 330.6 L285.46 330.6 L286.17 330.6 L286.88 330.6 L287.59 330.6 L288.3 330.6 L288.57 329.8 L288.95 328.85 L289.37 327.48 L289.78 326.11 L290.31 325.68 L290.9 324.21 L291.36 322.53 L291.76 321.18 L292.35 318.82 L292.63 316.13 L293.34 313.72 L293.72 312.8 L293.97 311.3 L294.93 308.82 L295.02 306.81 L294.97 303.77 L295.22 300.08 L297.13 296.24 L297.42 291.67 L297.22 290.3 L298.23 288.07 L298.3 284.02 L298.56 277.64 L299.34 270.36 L300.42 265.1 L299.57 259.01 L299.52 251.85 L299.79 250.06 L301.29 243.96 L300.86 238.96 L301.98 236.71 L302.39 231.12 L302.49 228.57 L303.7 226.45 L302.54 226.33 L304.88 226.73 L304.98 221.51 L306.16 218.03 L305.54 218.83 L306.02 218.74 L306.09 217.77 L305.97 220.63 L307.48 215.2 L308.24 215.2 L308.41 215.2 L309.5 218.81 L309.15 222.73 L310.12 230.8 L311.64 234.07 L310.41 236.6 L311.4 239.35 L311.12 241.04 L311.93 244.54 L312.45 251.47 L313.54 254.85 L314.1 258.57 L313.96 266.35 L314.46 270.24 L315.29 271.85 L315.45 278.69 L315.61 283.6 L315.73 285.98 L316.22 290.74 L316.29 294.64 L317.59 299.26 L317.12 302.52 L318.92 306.39 L318.89 310.19 L319.66 313.02 L320.16 315.5 L320.57 317.92 L320.82 320.26 L321.21 321.32 L321.81 322.86 L322.14 324.91 L322.75 326.43 L323.21 327.46 L323.79 328.33 L324.26 329.36 L324.69 330.04 L325 330.6 L325.71 330.6 L326.42 330.6 L327.13 330.6 L327.83 330.6 L328.54 330.6 L329.25 330.6 L329.96 330.6 L330.67 330.6 L331.38 330.6 L332.09 330.6 L332.8 330.6 L333.5 330.6 L334.21 330.6 L334.92 330.6 L335.63 330.6 L336.34 330.6 L337.05 330.6 L337.76 330.6 L338.46 330.6 L339.17 330.6 L339.88 330.6 L340.59 330.6 L341.3 330.6 L342.01 330.6 L342.72 330.6 L343.42 330.6 L344.13 330.6 L344.84 330.6 L345.55 330.6 L346.26 330.6 L346.97 330.6 L347.68 330.6 L348.39 330.6 L349.09 330.6 L349.8 330.6 L350.51 330.6 L351.22 330.6 L351.93 330.6 L352.64 330.6 L353.35 330.6 L354.05 330.6 L354.76 330.6 L355.47 330.6 L356.18 330.6 L356.89 330.6 L357.6 330.6 L358.31 330.6 L359.01 330.6 L359.72 330.6 L360.43 330.6 L361.14 330.6 L361.85 330.6 L362.56 330.6 L363.27 330.6 L363.98 330.6 L364.68 330.6 L365.39 330.6 L366.1 330.6 L366.81 330.6 L367.52 330.6 L368.23 330.6 L368.94 330.6 L369.64 330.6 L370.35 330.6 L371.06 330.6 L371.77 330.6 L372.48 330.6 L373.19 330.6 L373.9 330.6 L374.6 330.6 L375.31 330.6 L376.02 330.6 L376.73 330.6 L377.44 330.6 L378.15 330.6 L378.86 330.6 L379.57 330.6 L380.27 330.6 L380.98 330.6 L381.69 330.6 L382.4 330.6 Z" fill="#93a3be" stroke="none"/>
<path d="M251.4 330.6 L252.11 330.6 L252.82 330.6 L253.53 330.6 L254.24 330.6 L254.95 330.6 L255.66 330.6 L256.37 330.6 L257.08 330.6 L257.79 330.6 L258.5 330.6 L259.21 330.6 L259.92 330.6 L260.62 330.6 L261.33 330.6 L262.04 330.6 L262.75 330.6 L263.46 330.6 L264.17 330.6 L264.88 330.6 L265.59 330.6 L266.3 330.6 L267.01 330.6 L267.72 330.6 L268.43 330.6 L269.14 330.6 L269.85 330.6 L270.56 330.6 L271.27 330.6 L271.98 330.6 L272.69 330.6 L273.4 330.6 L274.11 330.6 L274.82 330.6 L275.53 330.6 L276.24 330.6 L276.95 330.6 L277.66 330.6 L278.37 330.6 L279.07 330.6 L279.78 330.6 L280.49 330.6 L281.2 330.6 L281.91 330.6 L282.62 330.6 L283.33 330.6 L284.04 330.6 L284.75 330.6 L285.46 330.6 L286.17 330.6 L286.88 330.6 L287.59 330.6 L288.3 330.6 L288.57 329.8 L288.95 328.85 L289.37 327.48 L289.78 326.11 L290.31 325.68 L290.9 324.21 L291.36 322.53 L291.76 321.18 L292.35 318.82 L292.63 316.13 L293.34 313.72 L293.72 312.8 L293.97 311.3 L294.93 308.82 L295.02 306.81 L294.97 303.77 L295.22 300.08 L297.13 296.24 L297.42 291.67 L297.22 290.3 L298.23 288.07 L298.3 284.02 L298.56 277.64 L299.34 270.36 L300.42 265.1 L299.57 259.01 L299.52 251.85 L299.79 250.06 L301.29 243.96 L300.86 238.96 L301.98 236.71 L302.39 231.12 L302.49 228.57 L303.7 226.45 L302.54 226.33 L304.88 226.73 L304.98 221.51 L306.16 218.03 L305.54 218.83 L306.02 218.74 L306.09 217.77 L305.97 220.63 L307.48 215.2 L308.24 215.2 L308.41 215.2 L309.5 218.81 L309.15 222.73 L310.12 230.8 L311.64 234.07 L310.41 236.6 L311.4 239.35 L311.12 241.04 L311.93 244.54 L312.45 251.47 L313.54 254.85 L314.1 258.57 L313.96 266.35 L314.46 270.24 L315.29 271.85 L315.45 278.69 L315.61 283.6 L315.73 285.98 L316.22 290.74 L316.29 294.64 L317.59 299.26 L317.12 302.52 L318.92 306.39 L318.89 310.19 L319.66 313.02 L320.16 315.5 L320.57 317.92 L320.82 320.26 L321.21 321.32 L321.81 322.86 L322.14 324.91 L322.75 326.43 L323.21 327.46 L323.79 328.33 L324.26 329.36 L324.69 330.04 L325 330.6 L325.71 330.6 L326.42 330.6 L327.13 330.6 L327.83 330.6 L328.54 330.6 L329.25 330.6 L329.96 330.6 L330.67 330.6 L331.38 330.6 L332.09 330.6 L332.8 330.6 L333.5 330.6 L334.21 330.6 L334.92 330.6 L335.63 330.6 L336.34 330.6 L337.05 330.6 L337.76 330.6 L338.46 330.6 L339.17 330.6 L339.88 330.6 L340.59 330.6 L341.3 330.6 L342.01 330.6 L342.72 330.6 L343.42 330.6 L344.13 330.6 L344.84 330.6 L345.55 330.6 L346.26 330.6 L346.97 330.6 L347.68 330.6 L348.39 330.6 L349.09 330.6 L349.8 330.6 L350.51 330.6 L351.22 330.6 L351.93 330.6 L352.64 330.6 L353.35 330.6 L354.05 330.6 L354.76 330.6 L355.47 330.6 L356.18 330.6 L356.89 330.6 L357.6 330.6 L358.31 330.6 L359.01 330.6 L359.72 330.6 L360.43 330.6 L361.14 330.6 L361.85 330.6 L362.56 330.6 L363.27 330.6 L363.98 330.6 L364.68 330.6 L365.39 330.6 L366.1 330.6 L366.81 330.6 L367.52 330.6 L368.23 330.6 L368.94 330.6 L369.64 330.6 L370.35 330.6 L371.06 330.6 L371.77 330.6 L372.48 330.6 L373.19 330.6 L373.9 330.6 L374.6 330.6 L375.31 330.6 L376.02 330.6 L376.73 330.6 L377.44 330.6 L378.15 330.6 L378.86 330.6 L379.57 330.6 L380.27 330.6 L380.98 330.6 L381.69 330.6 L382.4 330.6" fill="none" stroke="#1f3f7c" stroke-width="1.4" stroke-linejoin="round"/>
<path d="M251.4 330.65 L252.11 330.65 L252.81 330.65 L253.52 330.65 L254.22 330.65 L254.93 330.65 L255.64 330.65 L256.34 330.65 L257.05 330.65 L257.75 330.65 L258.46 330.65 L259.16 330.65 L259.87 330.65 L260.58 330.65 L261.28 330.65 L261.99 330.65 L262.69 330.65 L263.4 330.65 L264.11 330.65 L264.81 330.65 L265.52 330.65 L266.22 330.65 L266.93 330.65 L267.64 330.65 L268.34 330.65 L269.05 330.65 L269.75 330.65 L270.46 330.65 L271.16 330.65 L271.87 330.65 L272.58 330.65 L273.28 330.65 L273.99 330.65 L274.69 330.65 L275.4 330.65 L276.11 330.65 L276.81 330.65 L277.52 330.65 L278.22 330.65 L278.93 330.65 L279.64 330.65 L280.34 330.65 L281.05 330.65 L281.75 330.65 L282.46 330.65 L283.16 330.65 L283.87 330.65 L284.58 330.65 L285.28 330.65 L285.99 330.65 L286.69 330.65 L287.4 330.65 L288.11 330.65 L288.81 330.65 L289.52 330.65 L290.22 330.65 L290.93 330.65 L291.64 330.65 L292.34 330.65 L293.05 330.65 L293.75 330.65 L294.46 330.65 L295.16 330.65 L295.87 330.65 L296.58 330.65 L297.28 330.65 L297.99 330.65 L298.69 330.65 L299.4 330.65 L299.67 330.49 L299.99 330.3 L300.37 330.1 L300.78 329.88 L301.24 329.64 L301.72 329.4 L302.25 329.07 L302.77 328.83 L303.33 328.57 L303.89 328.13 L304.43 327.87 L305.03 327.62 L305.56 327.26 L306.11 326.9 L306.67 326.55 L307.15 326.16 L307.67 325.62 L308.11 325.08 L308.49 324.86 L309.09 324.78 L309.57 324.49 L310.22 323.19 L310.67 322.55 L311.07 322.33 L311.57 321.53 L312.1 320.86 L312.49 320.23 L312.84 319.23 L313.24 318.23 L313.57 317.46 L313.92 316.46 L314.5 313.48 L315.12 309.99 L315.67 305.84 L315.81 300.9 L316.64 295.64 L316.66 291.3 L317.7 287.83 L317.74 282.41 L318.28 277.3 L318.49 272.01 L319.42 267.76 L319.21 264.56 L319.77 259.58 L319.93 251.89 L320.79 246.86 L321.43 242.12 L321.63 235.96 L321.94 229.53 L322.4 224.2 L322.87 218.48 L323.09 214.97 L323.7 210.61 L324.16 205.17 L324.69 203.1 L324.67 203.1 L325.42 204.16 L325.87 207.58 L325.84 209.77 L326.58 212.28 L327.15 214.22 L327.07 217.01 L327.38 220.95 L328.21 223.51 L328.51 225.93 L329.17 230.66 L329.51 236.6 L329.85 242.21 L330.52 249.43 L331.07 255.43 L331.15 262.55 L331.42 271.1 L332.48 277.63 L332.92 282.56 L332.58 287.02 L333.16 291.93 L333.72 297.25 L334.61 302.35 L335 306.97 L335.39 309.89 L335.92 313.1 L336.35 316.36 L336.91 319.72 L337.44 322.6 L337.78 324.61 L338.24 326.82 L338.6 328.6 L339.28 330.77 L339.72 330.83 L340 330.65 L340.71 330.65 L341.41 330.65 L342.12 330.65 L342.83 330.65 L343.53 330.65 L344.24 330.65 L344.95 330.65 L345.65 330.65 L346.36 330.65 L347.07 330.65 L347.77 330.65 L348.48 330.65 L349.19 330.65 L349.89 330.65 L350.6 330.65 L351.31 330.65 L352.01 330.65 L352.72 330.65 L353.43 330.65 L354.13 330.65 L354.84 330.65 L355.55 330.65 L356.25 330.65 L356.96 330.65 L357.67 330.65 L358.37 330.65 L359.08 330.65 L359.79 330.65 L360.49 330.65 L361.2 330.65 L361.91 330.65 L362.61 330.65 L363.32 330.65 L364.03 330.65 L364.73 330.65 L365.44 330.65 L366.15 330.65 L366.85 330.65 L367.56 330.65 L368.27 330.65 L368.97 330.65 L369.68 330.65 L370.39 330.65 L371.09 330.65 L371.8 330.65 L372.51 330.65 L373.21 330.65 L373.92 330.65 L374.63 330.65 L375.33 330.65 L376.04 330.65 L376.75 330.65 L377.45 330.65 L378.16 330.65 L378.87 330.65 L379.57 330.65 L380.28 330.65 L380.99 330.65 L381.69 330.65 L382.4 330.65" fill="none" stroke="#a8001f" stroke-width="1.6" stroke-dasharray="1.3 1.0"/>
<path d="M251.4 330.65 L252.1 330.65 L252.8 330.65 L253.5 330.65 L254.21 330.65 L254.91 330.65 L255.61 330.65 L256.31 330.65 L257.01 330.65 L257.71 330.65 L258.41 330.65 L259.12 330.65 L259.82 330.65 L260.52 330.65 L261.22 330.65 L261.92 330.65 L262.62 330.65 L263.33 330.65 L264.03 330.65 L264.73 330.65 L265.43 330.65 L266.13 330.65 L266.83 330.65 L267.53 330.65 L268.24 330.65 L268.94 330.65 L269.64 330.65 L270.34 330.65 L271.04 330.65 L271.74 330.65 L272.44 330.65 L273.15 330.65 L273.85 330.65 L274.55 330.65 L275.25 330.65 L275.95 330.65 L276.65 330.65 L277.36 330.65 L278.06 330.65 L278.76 330.65 L279.46 330.65 L280.16 330.65 L280.86 330.65 L281.56 330.65 L282.27 330.65 L282.97 330.65 L283.67 330.65 L284.37 330.65 L285.07 330.65 L285.77 330.65 L286.47 330.65 L287.18 330.65 L287.88 330.65 L288.58 330.65 L289.28 330.65 L289.98 330.65 L290.68 330.65 L291.39 330.65 L292.09 330.65 L292.79 330.65 L293.49 330.65 L294.19 330.65 L294.89 330.65 L295.59 330.65 L296.3 330.65 L297 330.65 L297.7 330.65 L298.4 330.65 L298.67 330.49 L298.99 330.3 L299.37 330.1 L299.78 329.88 L300.24 329.64 L300.72 329.38 L301.24 329.1 L301.76 328.81 L302.33 328.56 L302.88 328.11 L303.46 327.75 L304.04 327.52 L304.57 327.17 L305.14 326.74 L305.68 326.32 L306.18 326.12 L306.65 325.88 L307.08 325.38 L307.46 324.83 L308.06 324.18 L308.65 323.54 L309.16 323.18 L309.7 323.01 L310.12 322.56 L310.61 321.57 L311.05 320.87 L311.49 320.37 L311.87 319.38 L312.1 318.14 L312.71 316.9 L313.07 315.3 L313.52 312.71 L314.09 310.02 L314.57 306.54 L315.12 303.06 L315.68 299.27 L316.27 295.94 L316.32 291.83 L316.77 287.12 L317.02 282.89 L317.77 277.77 L318.08 272.85 L318.22 268.2 L319.13 262.9 L319.78 258.62 L319.61 252.09 L320.35 246.49 L321 241.72 L321.56 237.11 L321.45 233.69 L322.55 230.03 L322.84 226.39 L323.12 223.69 L323.8 222.72 L324.24 220.32 L324.43 216.88 L325.04 215.91 L325.57 215 L326.13 215 L326.36 216.81 L326.83 219.3 L327.53 222.8 L327.94 228.23 L328.13 233.09 L328.59 238.23 L328.83 243.94 L329.86 249.49 L329.77 255.45 L330.74 262.47 L330.82 270.49 L331.38 277.36 L331.81 281.51 L331.96 286.68 L332.64 291.88 L333 296.79 L333.93 302.06 L334.15 306.61 L334.61 309.8 L335.21 312.91 L335.55 315.84 L336.05 318.95 L336.61 321.91 L337.07 324.72 L337.44 326.87 L337.79 328.5 L338.42 330.77 L338.78 330.83 L339 330.65 L339.71 330.65 L340.42 330.65 L341.13 330.65 L341.85 330.65 L342.56 330.65 L343.27 330.65 L343.98 330.65 L344.69 330.65 L345.4 330.65 L346.11 330.65 L346.83 330.65 L347.54 330.65 L348.25 330.65 L348.96 330.65 L349.67 330.65 L350.38 330.65 L351.1 330.65 L351.81 330.65 L352.52 330.65 L353.23 330.65 L353.94 330.65 L354.65 330.65 L355.36 330.65 L356.08 330.65 L356.79 330.65 L357.5 330.65 L358.21 330.65 L358.92 330.65 L359.63 330.65 L360.34 330.65 L361.06 330.65 L361.77 330.65 L362.48 330.65 L363.19 330.65 L363.9 330.65 L364.61 330.65 L365.32 330.65 L366.04 330.65 L366.75 330.65 L367.46 330.65 L368.17 330.65 L368.88 330.65 L369.59 330.65 L370.3 330.65 L371.02 330.65 L371.73 330.65 L372.44 330.65 L373.15 330.65 L373.86 330.65 L374.57 330.65 L375.29 330.65 L376 330.65 L376.71 330.65 L377.42 330.65 L378.13 330.65 L378.84 330.65 L379.55 330.65 L380.27 330.65 L380.98 330.65 L381.69 330.65 L382.4 330.65" fill="none" stroke="#a8001f" stroke-width="1.6" stroke-linejoin="round"/>
<path d="M250.8 198.6H383V331.05" fill="none" stroke="#333" stroke-width="1.15"/>
<path d="M250.8 198.6V331.05H383" fill="none" stroke="#1a1a1a" stroke-width="1.1"/>
<line x1="247.6" y1="330.2" x2="250.8" y2="330.2" stroke="#1a1a1a" stroke-width="0.9"/>
<text x="244.4" y="332.8" font-size="8.2" text-anchor="end" fill="#222" stroke="#222" stroke-width="0.22">0</text>
<line x1="249.2" y1="321.88" x2="250.8" y2="321.88" stroke="#1a1a1a" stroke-width="0.9"/>
<line x1="249.2" y1="313.55" x2="250.8" y2="313.55" stroke="#1a1a1a" stroke-width="0.9"/>
<line x1="249.2" y1="305.22" x2="250.8" y2="305.22" stroke="#1a1a1a" stroke-width="0.9"/>
<line x1="247.6" y1="296.9" x2="250.8" y2="296.9" stroke="#1a1a1a" stroke-width="0.9"/>
<text x="244.4" y="299.5" font-size="8.2" text-anchor="end" fill="#222" stroke="#222" stroke-width="0.22">200</text>
<line x1="249.2" y1="288.57" x2="250.8" y2="288.57" stroke="#1a1a1a" stroke-width="0.9"/>
<line x1="249.2" y1="280.25" x2="250.8" y2="280.25" stroke="#1a1a1a" stroke-width="0.9"/>
<line x1="249.2" y1="271.92" x2="250.8" y2="271.92" stroke="#1a1a1a" stroke-width="0.9"/>
<line x1="247.6" y1="263.6" x2="250.8" y2="263.6" stroke="#1a1a1a" stroke-width="0.9"/>
<text x="244.4" y="266.2" font-size="8.2" text-anchor="end" fill="#222" stroke="#222" stroke-width="0.22">400</text>
<line x1="249.2" y1="255.27" x2="250.8" y2="255.27" stroke="#1a1a1a" stroke-width="0.9"/>
<line x1="249.2" y1="246.95" x2="250.8" y2="246.95" stroke="#1a1a1a" stroke-width="0.9"/>
<line x1="249.2" y1="238.62" x2="250.8" y2="238.62" stroke="#1a1a1a" stroke-width="0.9"/>
<line x1="247.6" y1="230.3" x2="250.8" y2="230.3" stroke="#1a1a1a" stroke-width="0.9"/>
<text x="244.4" y="232.9" font-size="8.2" text-anchor="end" fill="#222" stroke="#222" stroke-width="0.22">600</text>
<line x1="249.2" y1="221.97" x2="250.8" y2="221.97" stroke="#1a1a1a" stroke-width="0.9"/>
<line x1="249.2" y1="213.65" x2="250.8" y2="213.65" stroke="#1a1a1a" stroke-width="0.9"/>
<line x1="249.2" y1="205.32" x2="250.8" y2="205.32" stroke="#1a1a1a" stroke-width="0.9"/>
<line x1="261.1" y1="331.4" x2="261.1" y2="333.48" stroke="#1a1a1a" stroke-width="0.8"/>
<line x1="262.75" y1="331.4" x2="262.75" y2="333.64" stroke="#1a1a1a" stroke-width="0.8"/>
<line x1="264.55" y1="331.4" x2="264.55" y2="333.22" stroke="#1a1a1a" stroke-width="0.8"/>
<line x1="266.16" y1="331.4" x2="266.16" y2="332.87" stroke="#1a1a1a" stroke-width="0.8"/>
<line x1="268.39" y1="331.4" x2="268.39" y2="332.99" stroke="#1a1a1a" stroke-width="0.8"/>
<line x1="270.45" y1="331.4" x2="270.45" y2="333.01" stroke="#1a1a1a" stroke-width="0.8"/>
<line x1="272.43" y1="331.4" x2="272.43" y2="333.19" stroke="#1a1a1a" stroke-width="0.8"/>
<line x1="274.66" y1="331.4" x2="274.66" y2="332.86" stroke="#1a1a1a" stroke-width="0.8"/>
<line x1="276.45" y1="331.4" x2="276.45" y2="332.87" stroke="#1a1a1a" stroke-width="0.8"/>
<line x1="279.9" y1="331.4" x2="279.9" y2="332.88" stroke="#1a1a1a" stroke-width="0.8"/>
<line x1="282.3" y1="331.4" x2="282.3" y2="333.54" stroke="#1a1a1a" stroke-width="0.8"/>
<line x1="284.3" y1="331.4" x2="284.3" y2="333.01" stroke="#1a1a1a" stroke-width="0.8"/>
<line x1="286.5" y1="331.4" x2="286.5" y2="332.97" stroke="#1a1a1a" stroke-width="0.8"/>
<line x1="288.13" y1="331.4" x2="288.13" y2="332.9" stroke="#1a1a1a" stroke-width="0.8"/>
<line x1="289.67" y1="331.4" x2="289.67" y2="333.38" stroke="#1a1a1a" stroke-width="0.8"/>
<line x1="291.83" y1="331.4" x2="291.83" y2="333.15" stroke="#1a1a1a" stroke-width="0.8"/>
<line x1="293.7" y1="331.4" x2="293.7" y2="333.44" stroke="#1a1a1a" stroke-width="0.8"/>
<line x1="295.36" y1="331.4" x2="295.36" y2="332.92" stroke="#1a1a1a" stroke-width="0.8"/>
<line x1="296.94" y1="331.4" x2="296.94" y2="332.98" stroke="#1a1a1a" stroke-width="0.8"/>
<line x1="299.19" y1="331.4" x2="299.19" y2="333.16" stroke="#1a1a1a" stroke-width="0.8"/>
<line x1="300.93" y1="331.4" x2="300.93" y2="333.46" stroke="#1a1a1a" stroke-width="0.8"/>
<line x1="303.21" y1="331.4" x2="303.21" y2="332.86" stroke="#1a1a1a" stroke-width="0.8"/>
<line x1="304.9" y1="331.4" x2="304.9" y2="333.16" stroke="#1a1a1a" stroke-width="0.8"/>
<line x1="306.86" y1="331.4" x2="306.86" y2="333.29" stroke="#1a1a1a" stroke-width="0.8"/>
<line x1="308.5" y1="331.4" x2="308.5" y2="333.47" stroke="#1a1a1a" stroke-width="0.8"/>
<line x1="310.28" y1="331.4" x2="310.28" y2="333.49" stroke="#1a1a1a" stroke-width="0.8"/>
<line x1="312.34" y1="331.4" x2="312.34" y2="333.15" stroke="#1a1a1a" stroke-width="0.8"/>
<line x1="313.91" y1="331.4" x2="313.91" y2="332.96" stroke="#1a1a1a" stroke-width="0.8"/>
<line x1="315.7" y1="331.4" x2="315.7" y2="333.54" stroke="#1a1a1a" stroke-width="0.8"/>
<line x1="317.91" y1="331.4" x2="317.91" y2="333.27" stroke="#1a1a1a" stroke-width="0.8"/>
<line x1="319.46" y1="331.4" x2="319.46" y2="333.6" stroke="#1a1a1a" stroke-width="0.8"/>
<line x1="321.02" y1="331.4" x2="321.02" y2="333.68" stroke="#1a1a1a" stroke-width="0.8"/>
<line x1="323.19" y1="331.4" x2="323.19" y2="332.86" stroke="#1a1a1a" stroke-width="0.8"/>
<line x1="325.26" y1="331.4" x2="325.26" y2="333.4" stroke="#1a1a1a" stroke-width="0.8"/>
<line x1="327.02" y1="331.4" x2="327.02" y2="333.53" stroke="#1a1a1a" stroke-width="0.8"/>
<line x1="328.98" y1="331.4" x2="328.98" y2="333.39" stroke="#1a1a1a" stroke-width="0.8"/>
<line x1="330.84" y1="331.4" x2="330.84" y2="333.16" stroke="#1a1a1a" stroke-width="0.8"/>
<line x1="332.76" y1="331.4" x2="332.76" y2="332.89" stroke="#1a1a1a" stroke-width="0.8"/>
<line x1="334.41" y1="331.4" x2="334.41" y2="333.23" stroke="#1a1a1a" stroke-width="0.8"/>
<line x1="336.32" y1="331.4" x2="336.32" y2="333.04" stroke="#1a1a1a" stroke-width="0.8"/>
<line x1="338.61" y1="331.4" x2="338.61" y2="333.01" stroke="#1a1a1a" stroke-width="0.8"/>
<line x1="340.45" y1="331.4" x2="340.45" y2="333.18" stroke="#1a1a1a" stroke-width="0.8"/>
<line x1="342.61" y1="331.4" x2="342.61" y2="333.39" stroke="#1a1a1a" stroke-width="0.8"/>
<line x1="344.9" y1="331.4" x2="344.9" y2="333.05" stroke="#1a1a1a" stroke-width="0.8"/>
<line x1="346.55" y1="331.4" x2="346.55" y2="333.52" stroke="#1a1a1a" stroke-width="0.8"/>
<line x1="348.28" y1="331.4" x2="348.28" y2="333.62" stroke="#1a1a1a" stroke-width="0.8"/>
<line x1="349.82" y1="331.4" x2="349.82" y2="333.57" stroke="#1a1a1a" stroke-width="0.8"/>
<line x1="351.95" y1="331.4" x2="351.95" y2="333.67" stroke="#1a1a1a" stroke-width="0.8"/>
<line x1="353.58" y1="331.4" x2="353.58" y2="333.14" stroke="#1a1a1a" stroke-width="0.8"/>
<line x1="355.38" y1="331.4" x2="355.38" y2="333.25" stroke="#1a1a1a" stroke-width="0.8"/>
<line x1="357.46" y1="331.4" x2="357.46" y2="332.88" stroke="#1a1a1a" stroke-width="0.8"/>
<line x1="359.55" y1="331.4" x2="359.55" y2="333.64" stroke="#1a1a1a" stroke-width="0.8"/>
<line x1="361.47" y1="331.4" x2="361.47" y2="332.88" stroke="#1a1a1a" stroke-width="0.8"/>
<line x1="363.26" y1="331.4" x2="363.26" y2="332.88" stroke="#1a1a1a" stroke-width="0.8"/>
<line x1="365.41" y1="331.4" x2="365.41" y2="333.16" stroke="#1a1a1a" stroke-width="0.8"/>
<line x1="367.5" y1="331.4" x2="367.5" y2="332.86" stroke="#1a1a1a" stroke-width="0.8"/>
<line x1="369.23" y1="331.4" x2="369.23" y2="333.43" stroke="#1a1a1a" stroke-width="0.8"/>
<line x1="371.39" y1="331.4" x2="371.39" y2="333.2" stroke="#1a1a1a" stroke-width="0.8"/>
<line x1="373.35" y1="331.4" x2="373.35" y2="333.13" stroke="#1a1a1a" stroke-width="0.8"/>
<line x1="375.08" y1="331.4" x2="375.08" y2="333.28" stroke="#1a1a1a" stroke-width="0.8"/>
<line x1="376.78" y1="331.4" x2="376.78" y2="333.51" stroke="#1a1a1a" stroke-width="0.8"/>
<line x1="378.64" y1="331.4" x2="378.64" y2="333.33" stroke="#1a1a1a" stroke-width="0.8"/>
<line x1="380.52" y1="331.4" x2="380.52" y2="332.86" stroke="#1a1a1a" stroke-width="0.8"/>
<line x1="259.5" y1="331.4" x2="259.5" y2="334.2" stroke="#111" stroke-width="0.9"/>
<line x1="301" y1="331.4" x2="301" y2="334.2" stroke="#111" stroke-width="0.9"/>
<line x1="339" y1="331.4" x2="339" y2="334.2" stroke="#111" stroke-width="0.9"/>
<line x1="372" y1="331.4" x2="372" y2="334.2" stroke="#111" stroke-width="0.9"/>
<text x="259.2" y="344.4" font-size="8.2" text-anchor="middle" fill="#222" stroke="#222" stroke-width="0.2">-10<tspan font-size="6.56" dy="-3.3">3</tspan></text>
<text x="282.8" y="344.4" font-size="8.2" text-anchor="middle" fill="#222" stroke="#222" stroke-width="0.2">0</text>
<text x="302.5" y="344.4" font-size="8.2" text-anchor="middle" fill="#222" stroke="#222" stroke-width="0.2">10<tspan font-size="6.56" dy="-3.3">3</tspan></text>
<text x="338.9" y="344.4" font-size="8.2" text-anchor="middle" fill="#222" stroke="#222" stroke-width="0.2">10<tspan font-size="6.56" dy="-3.3">4</tspan></text>
<text x="370" y="344.4" font-size="8.2" text-anchor="middle" fill="#222" stroke="#222" stroke-width="0.2">10<tspan font-size="6.56" dy="-3.3">5</tspan></text>
<line x1="226.6" y1="340.2" x2="226.6" y2="216.5" stroke="#444" stroke-width="1.15"/>
<path d="M226.6 213.5 L224 219.3 L226.6 218.4 L229.2 219.3 Z" fill="#111"/>
<line x1="248.1" y1="349.7" x2="375.5" y2="349.7" stroke="#444" stroke-width="1.15"/>
<path d="M378.5 349.7 L372.5 347 L373.5 349.7 L372.5 352.4 Z" fill="#111"/>
<text transform="translate(221.9 265) rotate(-90)" font-size="10.6" text-anchor="middle" fill="#222" stroke="#222" stroke-width="0.42" textLength="20.6" lengthAdjust="spacingAndGlyphs">Counts</text>
<text x="279.4" y="361.9" font-size="9.2" fill="#222" stroke="#222" stroke-width="0.38" textLength="75.3" lengthAdjust="spacingAndGlyphs">ADAMTS13-AF488 (MFI)</text>
<line x1="253.9" y1="207.1" x2="264" y2="207.1" stroke="#a8001f" stroke-width="1.8"/>
<line x1="253.9" y1="218.7" x2="264" y2="218.7" stroke="#a8001f" stroke-width="1.8" stroke-dasharray="1.2 0.9"/>
<text x="266" y="209.15" font-size="6.6" fill="#333">- EDHu-4</text>
<text x="266" y="220.75" font-size="6.6" fill="#333">+ EDHu-4</text>
<text transform="translate(202 195.8) scale(0.9 1)" font-size="12.6" font-weight="bold" fill="#000" stroke="#000" stroke-width="0.3">D</text>
<path d="M54.9 527.5 L55.61 527.5 L56.31 527.5 L57.02 527.5 L57.72 527.5 L58.43 527.5 L59.13 527.5 L59.84 527.5 L60.55 527.5 L61.25 527.5 L61.96 527.5 L62.66 527.5 L63.37 527.5 L64.07 527.5 L64.78 527.5 L65.48 527.5 L66.19 527.5 L66.9 527.5 L67.6 527.5 L68.31 527.5 L69.01 527.5 L69.72 527.5 L70.42 527.5 L71.13 527.5 L71.84 527.5 L72.54 527.5 L73.25 527.5 L73.95 527.5 L74.66 527.5 L75.36 527.5 L76.07 527.5 L76.78 527.5 L77.48 527.5 L78.19 527.5 L78.89 527.5 L79.6 527.5 L80.3 527.5 L81.01 527.5 L81.72 527.5 L82.42 527.5 L83.13 527.5 L83.83 527.5 L84.54 527.5 L85.24 527.5 L85.95 527.5 L86.65 527.5 L87.36 527.5 L88.07 527.5 L88.77 527.5 L89.48 527.5 L90.18 527.5 L90.89 527.5 L91.59 527.5 L92.3 527.5 L92.59 526.53 L93.01 525.29 L93.5 523.56 L93.96 521.78 L94.53 520.89 L95.13 518.97 L95.55 516.88 L95.85 515.14 L96.44 511.85 L96.68 508.18 L97.42 504.62 L97.84 502.26 L97.92 499.82 L98.89 495.98 L98.94 491.18 L98.8 484.73 L99.2 477.23 L101.32 469.47 L101.6 461.13 L101.55 454.55 L102.43 448.23 L102.48 440.7 L102.7 432.06 L103.43 422.57 L104.39 417.12 L103.75 411.52 L103.66 408.99 L103.95 412.48 L105.37 411.23 L105.1 410.05 L106.2 409.99 L106.71 405.85 L106.96 404.4 L108.18 403.99 L107.24 406.49 L109.38 409.48 L109.51 407.91 L110.63 408.41 L110.14 413.81 L110.59 419.53 L110.7 425.19 L110.64 434.29 L112.01 435.07 L112.74 439.73 L112.96 449.32 L113.99 455.79 L113.77 461.08 L114.67 468.52 L116.02 472.89 L115 477.57 L115.9 482.5 L115.69 486.84 L116.43 491.85 L116.94 497.84 L117.76 500.81 L118.23 503.12 L118.42 507.05 L118.99 509.3 L119.55 509.98 L119.9 512.86 L120.31 515 L120.73 516.02 L121.2 517.82 L121.56 519.62 L122.28 522.22 L122.74 524.2 L123.29 526.09 L123.6 527.5 L124.3 527.5 L125 527.5 L125.7 527.5 L126.4 527.5 L127.11 527.5 L127.81 527.5 L128.51 527.5 L129.21 527.5 L129.91 527.5 L130.61 527.5 L131.31 527.5 L132.01 527.5 L132.71 527.5 L133.42 527.5 L134.12 527.5 L134.82 527.5 L135.52 527.5 L136.22 527.5 L136.92 527.5 L137.62 527.5 L138.32 527.5 L139.03 527.5 L139.73 527.5 L140.43 527.5 L141.13 527.5 L141.83 527.5 L142.53 527.5 L143.23 527.5 L143.93 527.5 L144.63 527.5 L145.34 527.5 L146.04 527.5 L146.74 527.5 L147.44 527.5 L148.14 527.5 L148.84 527.5 L149.54 527.5 L150.24 527.5 L150.94 527.5 L151.65 527.5 L152.35 527.5 L153.05 527.5 L153.75 527.5 L154.45 527.5 L155.15 527.5 L155.85 527.5 L156.55 527.5 L157.25 527.5 L157.96 527.5 L158.66 527.5 L159.36 527.5 L160.06 527.5 L160.76 527.5 L161.46 527.5 L162.16 527.5 L162.86 527.5 L163.56 527.5 L164.27 527.5 L164.97 527.5 L165.67 527.5 L166.37 527.5 L167.07 527.5 L167.77 527.5 L168.47 527.5 L169.17 527.5 L169.88 527.5 L170.58 527.5 L171.28 527.5 L171.98 527.5 L172.68 527.5 L173.38 527.5 L174.08 527.5 L174.78 527.5 L175.48 527.5 L176.19 527.5 L176.89 527.5 L177.59 527.5 L178.29 527.5 L178.99 527.5 L179.69 527.5 L180.39 527.5 L181.09 527.5 L181.79 527.5 L182.5 527.5 L183.2 527.5 L183.9 527.5 L184.6 527.5 L185.3 527.5 Z" fill="#93a3be" stroke="none"/>
<path d="M54.9 527.5 L55.61 527.5 L56.31 527.5 L57.02 527.5 L57.72 527.5 L58.43 527.5 L59.13 527.5 L59.84 527.5 L60.55 527.5 L61.25 527.5 L61.96 527.5 L62.66 527.5 L63.37 527.5 L64.07 527.5 L64.78 527.5 L65.48 527.5 L66.19 527.5 L66.9 527.5 L67.6 527.5 L68.31 527.5 L69.01 527.5 L69.72 527.5 L70.42 527.5 L71.13 527.5 L71.84 527.5 L72.54 527.5 L73.25 527.5 L73.95 527.5 L74.66 527.5 L75.36 527.5 L76.07 527.5 L76.78 527.5 L77.48 527.5 L78.19 527.5 L78.89 527.5 L79.6 527.5 L80.3 527.5 L81.01 527.5 L81.72 527.5 L82.42 527.5 L83.13 527.5 L83.83 527.5 L84.54 527.5 L85.24 527.5 L85.95 527.5 L86.65 527.5 L87.36 527.5 L88.07 527.5 L88.77 527.5 L89.48 527.5 L90.18 527.5 L90.89 527.5 L91.59 527.5 L92.3 527.5 L92.59 526.53 L93.01 525.29 L93.5 523.56 L93.96 521.78 L94.53 520.89 L95.13 518.97 L95.55 516.88 L95.85 515.14 L96.44 511.85 L96.68 508.18 L97.42 504.62 L97.84 502.26 L97.92 499.82 L98.89 495.98 L98.94 491.18 L98.8 484.73 L99.2 477.23 L101.32 469.47 L101.6 461.13 L101.55 454.55 L102.43 448.23 L102.48 440.7 L102.7 432.06 L103.43 422.57 L104.39 417.12 L103.75 411.52 L103.66 408.99 L103.95 412.48 L105.37 411.23 L105.1 410.05 L106.2 409.99 L106.71 405.85 L106.96 404.4 L108.18 403.99 L107.24 406.49 L109.38 409.48 L109.51 407.91 L110.63 408.41 L110.14 413.81 L110.59 419.53 L110.7 425.19 L110.64 434.29 L112.01 435.07 L112.74 439.73 L112.96 449.32 L113.99 455.79 L113.77 461.08 L114.67 468.52 L116.02 472.89 L115 477.57 L115.9 482.5 L115.69 486.84 L116.43 491.85 L116.94 497.84 L117.76 500.81 L118.23 503.12 L118.42 507.05 L118.99 509.3 L119.55 509.98 L119.9 512.86 L120.31 515 L120.73 516.02 L121.2 517.82 L121.56 519.62 L122.28 522.22 L122.74 524.2 L123.29 526.09 L123.6 527.5 L124.3 527.5 L125 527.5 L125.7 527.5 L126.4 527.5 L127.11 527.5 L127.81 527.5 L128.51 527.5 L129.21 527.5 L129.91 527.5 L130.61 527.5 L131.31 527.5 L132.01 527.5 L132.71 527.5 L133.42 527.5 L134.12 527.5 L134.82 527.5 L135.52 527.5 L136.22 527.5 L136.92 527.5 L137.62 527.5 L138.32 527.5 L139.03 527.5 L139.73 527.5 L140.43 527.5 L141.13 527.5 L141.83 527.5 L142.53 527.5 L143.23 527.5 L143.93 527.5 L144.63 527.5 L145.34 527.5 L146.04 527.5 L146.74 527.5 L147.44 527.5 L148.14 527.5 L148.84 527.5 L149.54 527.5 L150.24 527.5 L150.94 527.5 L151.65 527.5 L152.35 527.5 L153.05 527.5 L153.75 527.5 L154.45 527.5 L155.15 527.5 L155.85 527.5 L156.55 527.5 L157.25 527.5 L157.96 527.5 L158.66 527.5 L159.36 527.5 L160.06 527.5 L160.76 527.5 L161.46 527.5 L162.16 527.5 L162.86 527.5 L163.56 527.5 L164.27 527.5 L164.97 527.5 L165.67 527.5 L166.37 527.5 L167.07 527.5 L167.77 527.5 L168.47 527.5 L169.17 527.5 L169.88 527.5 L170.58 527.5 L171.28 527.5 L171.98 527.5 L172.68 527.5 L173.38 527.5 L174.08 527.5 L174.78 527.5 L175.48 527.5 L176.19 527.5 L176.89 527.5 L177.59 527.5 L178.29 527.5 L178.99 527.5 L179.69 527.5 L180.39 527.5 L181.09 527.5 L181.79 527.5 L182.5 527.5 L183.2 527.5 L183.9 527.5 L184.6 527.5 L185.3 527.5" fill="none" stroke="#1f3f7c" stroke-width="1.4" stroke-linejoin="round"/>
<path d="M54.9 527.55 L55.61 527.55 L56.31 527.55 L57.02 527.55 L57.72 527.55 L58.43 527.55 L59.14 527.55 L59.84 527.55 L60.55 527.55 L61.25 527.55 L61.96 527.55 L62.67 527.55 L63.37 527.55 L64.08 527.55 L64.78 527.55 L65.49 527.55 L66.2 527.55 L66.9 527.55 L67.61 527.55 L68.32 527.55 L69.02 527.55 L69.73 527.55 L70.43 527.55 L71.14 527.55 L71.85 527.55 L72.55 527.55 L73.26 527.55 L73.96 527.55 L74.67 527.55 L75.38 527.55 L76.08 527.55 L76.79 527.55 L77.49 527.55 L78.2 527.55 L78.91 527.55 L79.61 527.55 L80.32 527.55 L81.02 527.55 L81.73 527.55 L82.44 527.55 L83.14 527.55 L83.85 527.55 L84.55 527.55 L85.26 527.55 L85.97 527.55 L86.67 527.55 L87.38 527.55 L88.08 527.55 L88.79 527.55 L89.5 527.55 L90.2 527.55 L90.91 527.55 L91.62 527.55 L92.32 527.55 L93.03 527.55 L93.73 527.55 L94.44 527.55 L95.15 527.55 L95.85 527.55 L96.56 527.55 L97.26 527.55 L97.97 527.55 L98.68 527.55 L99.38 527.55 L100.09 527.55 L100.79 527.55 L101.5 527.55 L101.79 526.41 L102.16 524.82 L102.64 522.92 L103.17 520.84 L103.71 518.75 L104.17 516.78 L104.64 514.14 L105.28 511.95 L105.57 510.39 L106.31 508.46 L106.55 506.04 L107.28 503.43 L107.38 501.45 L107.93 499.41 L108.81 496.36 L108.69 494.32 L109.57 491.47 L109.86 487.53 L109.72 484.77 L111.06 481.93 L110.72 478.35 L111.29 474.52 L112.37 468.16 L112.37 460.98 L113.4 452.86 L113.68 445.18 L113.81 437.47 L114.26 432.11 L113.97 426.63 L115.45 418.95 L115.44 415.85 L115.37 415.64 L116.2 412.67 L117.42 410.72 L117.69 409.55 L117.88 407.05 L118.44 405.36 L118.71 405.68 L119.13 406.17 L119.62 405.17 L120.47 405 L121.12 404.95 L120.89 404.54 L122.14 405.16 L121.96 410 L123.37 417.81 L123.22 423.31 L123.79 429.96 L123.9 436.45 L125.04 444.94 L124.62 454.52 L125.36 460.4 L125.29 463.29 L126.33 468.9 L127.12 474.23 L127.33 477.74 L127.58 482.57 L128.12 488.05 L128.61 492.8 L128.93 498.14 L129.63 502.58 L130.15 505.42 L130.62 507.67 L130.79 510.31 L131.39 513.33 L131.83 516.18 L132.14 518.1 L132.72 520 L133.22 521.31 L133.66 522.7 L134.21 524.18 L134.79 525.11 L135.28 525.91 L135.7 526.92 L136 527.55 L136.7 527.55 L137.41 527.55 L138.11 527.55 L138.82 527.55 L139.52 527.55 L140.23 527.55 L140.93 527.55 L141.63 527.55 L142.34 527.55 L143.04 527.55 L143.75 527.55 L144.45 527.55 L145.16 527.55 L145.86 527.55 L146.56 527.55 L147.27 527.55 L147.97 527.55 L148.68 527.55 L149.38 527.55 L150.09 527.55 L150.79 527.55 L151.49 527.55 L152.2 527.55 L152.9 527.55 L153.61 527.55 L154.31 527.55 L155.02 527.55 L155.72 527.55 L156.42 527.55 L157.13 527.55 L157.83 527.55 L158.54 527.55 L159.24 527.55 L159.95 527.55 L160.65 527.55 L161.35 527.55 L162.06 527.55 L162.76 527.55 L163.47 527.55 L164.17 527.55 L164.88 527.55 L165.58 527.55 L166.28 527.55 L166.99 527.55 L167.69 527.55 L168.4 527.55 L169.1 527.55 L169.81 527.55 L170.51 527.55 L171.21 527.55 L171.92 527.55 L172.62 527.55 L173.33 527.55 L174.03 527.55 L174.74 527.55 L175.44 527.55 L176.14 527.55 L176.85 527.55 L177.55 527.55 L178.26 527.55 L178.96 527.55 L179.67 527.55 L180.37 527.55 L181.07 527.55 L181.78 527.55 L182.48 527.55 L183.19 527.55 L183.89 527.55 L184.6 527.55 L185.3 527.55" fill="none" stroke="#a8001f" stroke-width="1.6" stroke-dasharray="1.3 1.0"/>
<path d="M54.9 527.55 L55.6 527.55 L56.3 527.55 L57.01 527.55 L57.71 527.55 L58.41 527.55 L59.11 527.55 L59.82 527.55 L60.52 527.55 L61.22 527.55 L61.92 527.55 L62.62 527.55 L63.33 527.55 L64.03 527.55 L64.73 527.55 L65.43 527.55 L66.14 527.55 L66.84 527.55 L67.54 527.55 L68.24 527.55 L68.94 527.55 L69.65 527.55 L70.35 527.55 L71.05 527.55 L71.75 527.55 L72.45 527.55 L73.16 527.55 L73.86 527.55 L74.56 527.55 L75.26 527.55 L75.97 527.55 L76.67 527.55 L77.37 527.55 L78.07 527.55 L78.77 527.55 L79.48 527.55 L80.18 527.55 L80.88 527.55 L81.58 527.55 L82.29 527.55 L82.99 527.55 L83.69 527.55 L84.39 527.55 L85.09 527.55 L85.8 527.55 L86.5 527.55 L87.2 527.55 L87.9 527.55 L88.61 527.55 L89.31 527.55 L90.01 527.55 L90.71 527.55 L91.41 527.55 L92.12 527.55 L92.82 527.55 L93.52 527.55 L94.22 527.55 L94.93 527.55 L95.63 527.55 L96.33 527.55 L97.03 527.55 L97.73 527.55 L98.44 527.55 L99.14 527.55 L99.84 527.55 L100.54 527.55 L101.25 527.55 L101.95 527.55 L102.65 527.55 L103.35 527.55 L104.05 527.55 L104.76 527.55 L105.46 527.55 L106.16 527.55 L106.86 527.55 L107.56 527.55 L108.27 527.55 L108.97 527.55 L109.67 527.55 L110.37 527.55 L111.08 527.55 L111.78 527.55 L112.48 527.55 L113.18 527.55 L113.88 527.55 L114.59 527.55 L115.29 527.55 L115.99 527.55 L116.69 527.55 L117.4 527.55 L118.1 527.55 L118.8 527.55 L118.91 518.48 L119.24 507.79 L119.41 505.27 L119.98 504.46 L120.55 502.27 L120.66 500.73 L120.9 500.38 L122.1 496.77 L122.66 493.27 L121.82 488.11 L122.42 483.09 L122.96 478.8 L124.41 474.48 L124.51 469.91 L124.83 463.59 L125.55 457.59 L125.71 451.91 L126.5 447.8 L127.42 443.36 L126.41 435.72 L127.55 431.43 L128.08 429.11 L128.09 425.5 L128.88 422.5 L128.45 418.99 L130.14 416.74 L130.08 410.93 L131.19 407.77 L131.97 407.88 L131.3 406.13 L132.58 404.31 L133.07 404.31 L133.38 404.94 L133.49 408.48 L133.74 409.92 L133.72 411.74 L134.4 415.57 L135.45 419.71 L135.71 427.34 L136.79 436.82 L136.52 443.49 L137.46 446.1 L137.9 451.72 L138.5 459.41 L138.61 464.85 L137.65 470.05 L139.88 476.58 L140.12 482.44 L139.93 488.9 L140.6 496.49 L140.97 502.64 L141.55 509.03 L142.12 514.22 L142.61 517.88 L142.88 520.14 L143.43 521.65 L143.9 524.34 L144.39 526.11 L144.7 527.55 L145.4 527.55 L146.1 527.55 L146.8 527.55 L147.5 527.55 L148.2 527.55 L148.9 527.55 L149.6 527.55 L150.3 527.55 L151 527.55 L151.7 527.55 L152.4 527.55 L153.1 527.55 L153.8 527.55 L154.5 527.55 L155.2 527.55 L155.9 527.55 L156.6 527.55 L157.3 527.55 L158 527.55 L158.7 527.55 L159.4 527.55 L160.1 527.55 L160.8 527.55 L161.5 527.55 L162.2 527.55 L162.9 527.55 L163.6 527.55 L164.3 527.55 L165 527.55 L165.7 527.55 L166.4 527.55 L167.1 527.55 L167.8 527.55 L168.5 527.55 L169.2 527.55 L169.9 527.55 L170.6 527.55 L171.3 527.55 L172 527.55 L172.7 527.55 L173.4 527.55 L174.1 527.55 L174.8 527.55 L175.5 527.55 L176.2 527.55 L176.9 527.55 L177.6 527.55 L178.3 527.55 L179 527.55 L179.7 527.55 L180.4 527.55 L181.1 527.55 L181.8 527.55 L182.5 527.55 L183.2 527.55 L183.9 527.55 L184.6 527.55 L185.3 527.55" fill="none" stroke="#a8001f" stroke-width="1.6" stroke-linejoin="round"/>
<path d="M54.3 386.7H185.9V527.95" fill="none" stroke="#333" stroke-width="1.15"/>
<path d="M54.3 386.7V527.95H185.9" fill="none" stroke="#1a1a1a" stroke-width="1.1"/>
<line x1="51.1" y1="527.1" x2="54.3" y2="527.1" stroke="#1a1a1a" stroke-width="0.9"/>
<text x="47.9" y="529.7" font-size="8.2" text-anchor="end" fill="#222" stroke="#222" stroke-width="0.22">0</text>
<line x1="52.7" y1="520.76" x2="54.3" y2="520.76" stroke="#1a1a1a" stroke-width="0.9"/>
<line x1="52.7" y1="514.42" x2="54.3" y2="514.42" stroke="#1a1a1a" stroke-width="0.9"/>
<line x1="52.7" y1="508.08" x2="54.3" y2="508.08" stroke="#1a1a1a" stroke-width="0.9"/>
<line x1="51.1" y1="501.74" x2="54.3" y2="501.74" stroke="#1a1a1a" stroke-width="0.9"/>
<text x="47.9" y="504.34" font-size="8.2" text-anchor="end" fill="#222" stroke="#222" stroke-width="0.22">100</text>
<line x1="52.7" y1="495.4" x2="54.3" y2="495.4" stroke="#1a1a1a" stroke-width="0.9"/>
<line x1="52.7" y1="489.06" x2="54.3" y2="489.06" stroke="#1a1a1a" stroke-width="0.9"/>
<line x1="52.7" y1="482.72" x2="54.3" y2="482.72" stroke="#1a1a1a" stroke-width="0.9"/>
<line x1="51.1" y1="476.38" x2="54.3" y2="476.38" stroke="#1a1a1a" stroke-width="0.9"/>
<text x="47.9" y="478.98" font-size="8.2" text-anchor="end" fill="#222" stroke="#222" stroke-width="0.22">200</text>
<line x1="52.7" y1="470.04" x2="54.3" y2="470.04" stroke="#1a1a1a" stroke-width="0.9"/>
<line x1="52.7" y1="463.7" x2="54.3" y2="463.7" stroke="#1a1a1a" stroke-width="0.9"/>
<line x1="52.7" y1="457.36" x2="54.3" y2="457.36" stroke="#1a1a1a" stroke-width="0.9"/>
<line x1="51.1" y1="451.02" x2="54.3" y2="451.02" stroke="#1a1a1a" stroke-width="0.9"/>
<text x="47.9" y="453.62" font-size="8.2" text-anchor="end" fill="#222" stroke="#222" stroke-width="0.22">300</text>
<line x1="52.7" y1="444.68" x2="54.3" y2="444.68" stroke="#1a1a1a" stroke-width="0.9"/>
<line x1="52.7" y1="438.34" x2="54.3" y2="438.34" stroke="#1a1a1a" stroke-width="0.9"/>
<line x1="52.7" y1="432" x2="54.3" y2="432" stroke="#1a1a1a" stroke-width="0.9"/>
<line x1="51.1" y1="425.66" x2="54.3" y2="425.66" stroke="#1a1a1a" stroke-width="0.9"/>
<text x="47.9" y="428.26" font-size="8.2" text-anchor="end" fill="#222" stroke="#222" stroke-width="0.22">400</text>
<line x1="52.7" y1="419.32" x2="54.3" y2="419.32" stroke="#1a1a1a" stroke-width="0.9"/>
<line x1="52.7" y1="412.98" x2="54.3" y2="412.98" stroke="#1a1a1a" stroke-width="0.9"/>
<line x1="52.7" y1="406.64" x2="54.3" y2="406.64" stroke="#1a1a1a" stroke-width="0.9"/>
<line x1="51.1" y1="400.3" x2="54.3" y2="400.3" stroke="#1a1a1a" stroke-width="0.9"/>
<text x="47.9" y="402.9" font-size="8.2" text-anchor="end" fill="#222" stroke="#222" stroke-width="0.22">500</text>
<line x1="52.7" y1="393.96" x2="54.3" y2="393.96" stroke="#1a1a1a" stroke-width="0.9"/>
<line x1="52.7" y1="387.62" x2="54.3" y2="387.62" stroke="#1a1a1a" stroke-width="0.9"/>
<line x1="63.7" y1="528.3" x2="63.7" y2="530.53" stroke="#1a1a1a" stroke-width="0.8"/>
<line x1="65.52" y1="528.3" x2="65.52" y2="530" stroke="#1a1a1a" stroke-width="0.8"/>
<line x1="67.46" y1="528.3" x2="67.46" y2="530.21" stroke="#1a1a1a" stroke-width="0.8"/>
<line x1="69.63" y1="528.3" x2="69.63" y2="530.19" stroke="#1a1a1a" stroke-width="0.8"/>
<line x1="71.48" y1="528.3" x2="71.48" y2="530.46" stroke="#1a1a1a" stroke-width="0.8"/>
<line x1="73.74" y1="528.3" x2="73.74" y2="530.09" stroke="#1a1a1a" stroke-width="0.8"/>
<line x1="75.97" y1="528.3" x2="75.97" y2="530.37" stroke="#1a1a1a" stroke-width="0.8"/>
<line x1="77.49" y1="528.3" x2="77.49" y2="530.42" stroke="#1a1a1a" stroke-width="0.8"/>
<line x1="79" y1="528.3" x2="79" y2="530.25" stroke="#1a1a1a" stroke-width="0.8"/>
<line x1="81.3" y1="528.3" x2="81.3" y2="529.94" stroke="#1a1a1a" stroke-width="0.8"/>
<line x1="83.9" y1="528.3" x2="83.9" y2="530.11" stroke="#1a1a1a" stroke-width="0.8"/>
<line x1="86.3" y1="528.3" x2="86.3" y2="530.35" stroke="#1a1a1a" stroke-width="0.8"/>
<line x1="88.3" y1="528.3" x2="88.3" y2="529.94" stroke="#1a1a1a" stroke-width="0.8"/>
<line x1="90.5" y1="528.3" x2="90.5" y2="529.94" stroke="#1a1a1a" stroke-width="0.8"/>
<line x1="92.11" y1="528.3" x2="92.11" y2="530.2" stroke="#1a1a1a" stroke-width="0.8"/>
<line x1="94.39" y1="528.3" x2="94.39" y2="530.43" stroke="#1a1a1a" stroke-width="0.8"/>
<line x1="96.05" y1="528.3" x2="96.05" y2="530.53" stroke="#1a1a1a" stroke-width="0.8"/>
<line x1="97.93" y1="528.3" x2="97.93" y2="530.51" stroke="#1a1a1a" stroke-width="0.8"/>
<line x1="99.9" y1="528.3" x2="99.9" y2="530.52" stroke="#1a1a1a" stroke-width="0.8"/>
<line x1="101.98" y1="528.3" x2="101.98" y2="530.47" stroke="#1a1a1a" stroke-width="0.8"/>
<line x1="103.66" y1="528.3" x2="103.66" y2="530.25" stroke="#1a1a1a" stroke-width="0.8"/>
<line x1="105.69" y1="528.3" x2="105.69" y2="530.47" stroke="#1a1a1a" stroke-width="0.8"/>
<line x1="107.71" y1="528.3" x2="107.71" y2="530.04" stroke="#1a1a1a" stroke-width="0.8"/>
<line x1="109.82" y1="528.3" x2="109.82" y2="530.48" stroke="#1a1a1a" stroke-width="0.8"/>
<line x1="111.59" y1="528.3" x2="111.59" y2="529.9" stroke="#1a1a1a" stroke-width="0.8"/>
<line x1="113.31" y1="528.3" x2="113.31" y2="530.11" stroke="#1a1a1a" stroke-width="0.8"/>
<line x1="115.37" y1="528.3" x2="115.37" y2="530.49" stroke="#1a1a1a" stroke-width="0.8"/>
<line x1="117.01" y1="528.3" x2="117.01" y2="529.73" stroke="#1a1a1a" stroke-width="0.8"/>
<line x1="118.88" y1="528.3" x2="118.88" y2="530.02" stroke="#1a1a1a" stroke-width="0.8"/>
<line x1="121.05" y1="528.3" x2="121.05" y2="530.55" stroke="#1a1a1a" stroke-width="0.8"/>
<line x1="122.6" y1="528.3" x2="122.6" y2="530.06" stroke="#1a1a1a" stroke-width="0.8"/>
<line x1="124.69" y1="528.3" x2="124.69" y2="530.39" stroke="#1a1a1a" stroke-width="0.8"/>
<line x1="126.62" y1="528.3" x2="126.62" y2="530.21" stroke="#1a1a1a" stroke-width="0.8"/>
<line x1="128.46" y1="528.3" x2="128.46" y2="530.24" stroke="#1a1a1a" stroke-width="0.8"/>
<line x1="129.97" y1="528.3" x2="129.97" y2="529.86" stroke="#1a1a1a" stroke-width="0.8"/>
<line x1="131.72" y1="528.3" x2="131.72" y2="530.24" stroke="#1a1a1a" stroke-width="0.8"/>
<line x1="133.48" y1="528.3" x2="133.48" y2="530.16" stroke="#1a1a1a" stroke-width="0.8"/>
<line x1="135.38" y1="528.3" x2="135.38" y2="530.27" stroke="#1a1a1a" stroke-width="0.8"/>
<line x1="137.41" y1="528.3" x2="137.41" y2="530.16" stroke="#1a1a1a" stroke-width="0.8"/>
<line x1="139.04" y1="528.3" x2="139.04" y2="529.79" stroke="#1a1a1a" stroke-width="0.8"/>
<line x1="140.96" y1="528.3" x2="140.96" y2="530.26" stroke="#1a1a1a" stroke-width="0.8"/>
<line x1="142.55" y1="528.3" x2="142.55" y2="530.39" stroke="#1a1a1a" stroke-width="0.8"/>
<line x1="144.32" y1="528.3" x2="144.32" y2="530.43" stroke="#1a1a1a" stroke-width="0.8"/>
<line x1="145.89" y1="528.3" x2="145.89" y2="530.47" stroke="#1a1a1a" stroke-width="0.8"/>
<line x1="147.58" y1="528.3" x2="147.58" y2="530.45" stroke="#1a1a1a" stroke-width="0.8"/>
<line x1="149.87" y1="528.3" x2="149.87" y2="530.51" stroke="#1a1a1a" stroke-width="0.8"/>
<line x1="151.41" y1="528.3" x2="151.41" y2="530.04" stroke="#1a1a1a" stroke-width="0.8"/>
<line x1="153.1" y1="528.3" x2="153.1" y2="530.56" stroke="#1a1a1a" stroke-width="0.8"/>
<line x1="155.33" y1="528.3" x2="155.33" y2="530.43" stroke="#1a1a1a" stroke-width="0.8"/>
<line x1="157.36" y1="528.3" x2="157.36" y2="530.5" stroke="#1a1a1a" stroke-width="0.8"/>
<line x1="159.29" y1="528.3" x2="159.29" y2="530.28" stroke="#1a1a1a" stroke-width="0.8"/>
<line x1="161.23" y1="528.3" x2="161.23" y2="529.92" stroke="#1a1a1a" stroke-width="0.8"/>
<line x1="162.91" y1="528.3" x2="162.91" y2="530.46" stroke="#1a1a1a" stroke-width="0.8"/>
<line x1="164.55" y1="528.3" x2="164.55" y2="530.26" stroke="#1a1a1a" stroke-width="0.8"/>
<line x1="166.62" y1="528.3" x2="166.62" y2="530.29" stroke="#1a1a1a" stroke-width="0.8"/>
<line x1="168.5" y1="528.3" x2="168.5" y2="530.53" stroke="#1a1a1a" stroke-width="0.8"/>
<line x1="170.52" y1="528.3" x2="170.52" y2="530.14" stroke="#1a1a1a" stroke-width="0.8"/>
<line x1="172.39" y1="528.3" x2="172.39" y2="530.27" stroke="#1a1a1a" stroke-width="0.8"/>
<line x1="174.05" y1="528.3" x2="174.05" y2="530.47" stroke="#1a1a1a" stroke-width="0.8"/>
<line x1="176.26" y1="528.3" x2="176.26" y2="530.45" stroke="#1a1a1a" stroke-width="0.8"/>
<line x1="177.95" y1="528.3" x2="177.95" y2="530.37" stroke="#1a1a1a" stroke-width="0.8"/>
<line x1="180.12" y1="528.3" x2="180.12" y2="530.12" stroke="#1a1a1a" stroke-width="0.8"/>
<line x1="181.78" y1="528.3" x2="181.78" y2="529.81" stroke="#1a1a1a" stroke-width="0.8"/>
<line x1="183.92" y1="528.3" x2="183.92" y2="530.16" stroke="#1a1a1a" stroke-width="0.8"/>
<line x1="62.1" y1="528.3" x2="62.1" y2="531.1" stroke="#111" stroke-width="0.9"/>
<line x1="103.8" y1="528.3" x2="103.8" y2="531.1" stroke="#111" stroke-width="0.9"/>
<line x1="141" y1="528.3" x2="141" y2="531.1" stroke="#111" stroke-width="0.9"/>
<line x1="174" y1="528.3" x2="174" y2="531.1" stroke="#111" stroke-width="0.9"/>
<text x="62.1" y="541.4" font-size="8.2" text-anchor="middle" fill="#222" stroke="#222" stroke-width="0.2">-10<tspan font-size="6.56" dy="-3.3">3</tspan></text>
<text x="86.9" y="541.4" font-size="8.2" text-anchor="middle" fill="#222" stroke="#222" stroke-width="0.2">0</text>
<text x="106.2" y="541.4" font-size="8.2" text-anchor="middle" fill="#222" stroke="#222" stroke-width="0.2">10<tspan font-size="6.56" dy="-3.3">3</tspan></text>
<text x="142.6" y="541.4" font-size="8.2" text-anchor="middle" fill="#222" stroke="#222" stroke-width="0.2">10<tspan font-size="6.56" dy="-3.3">4</tspan></text>
<text x="173.5" y="541.4" font-size="8.2" text-anchor="middle" fill="#222" stroke="#222" stroke-width="0.2">10<tspan font-size="6.56" dy="-3.3">5</tspan></text>
<line x1="30" y1="537.1" x2="30" y2="414.8" stroke="#444" stroke-width="1.15"/>
<path d="M30 411.8 L27.4 417.6 L30 416.7 L32.6 417.6 Z" fill="#111"/>
<line x1="47.3" y1="546.3" x2="175.2" y2="546.3" stroke="#444" stroke-width="1.15"/>
<path d="M178.2 546.3 L172.2 543.6 L173.2 546.3 L172.2 549 Z" fill="#111"/>
<text transform="translate(24.7 462) rotate(-90)" font-size="10.6" text-anchor="middle" fill="#222" stroke="#222" stroke-width="0.42" textLength="20.6" lengthAdjust="spacingAndGlyphs">Counts</text>
<text x="82.2" y="558.8" font-size="9.2" fill="#222" stroke="#222" stroke-width="0.38" textLength="75.3" lengthAdjust="spacingAndGlyphs">ADAMTS13-AF488 (MFI)</text>
<line x1="57" y1="391.1" x2="67.5" y2="391.1" stroke="#a8001f" stroke-width="1.8"/>
<line x1="57" y1="399.8" x2="67.5" y2="399.8" stroke="#a8001f" stroke-width="1.8" stroke-dasharray="1.2 0.9"/>
<text x="69.3" y="393.15" font-size="6.6" fill="#333">- EDHu-1,2,3,4</text>
<text x="69.3" y="401.85" font-size="6.6" fill="#333">+ EDHu- 1,2,3,4</text>
<text transform="translate(7.3 379.9) scale(0.9 1)" font-size="12.6" font-weight="bold" fill="#000" stroke="#000" stroke-width="0.3">E</text>
<text transform="translate(202.6 380.4) scale(0.9 1)" font-size="12.6" font-weight="bold" fill="#000" stroke="#000" stroke-width="0.3">F</text>
<rect x="255.7" y="440.6" width="23" height="86.6" fill="#a0002a"/>
<line x1="267.2" y1="527.2" x2="267.2" y2="529.8" stroke="#222" stroke-width="0.9"/>
<text transform="translate(271.5 536.4) rotate(-45)" font-size="8.3" text-anchor="end" fill="#222">-</text>
<rect x="288.16" y="473.51" width="23" height="53.69" fill="#a0002a"/>
<path d="M299.66 473.51V464.5 M293.16 464.5H306.16" stroke="#222" stroke-width="1" fill="none"/>
<text x="299.66" y="463.9" font-size="8.5" font-weight="bold" text-anchor="middle" fill="#222">**</text>
<line x1="299.66" y1="527.2" x2="299.66" y2="529.8" stroke="#222" stroke-width="0.9"/>
<text transform="translate(303.96 536.4) rotate(-45)" font-size="8.3" text-anchor="end" fill="#222">EDHu-1</text>
<rect x="320.62" y="429.34" width="23" height="97.86" fill="#a0002a"/>
<path d="M332.12 429.34V416.35 M325.62 416.35H338.62" stroke="#222" stroke-width="1" fill="none"/>
<text x="332.12" y="413.15" font-size="7" text-anchor="middle" fill="#222">ns</text>
<line x1="332.12" y1="527.2" x2="332.12" y2="529.8" stroke="#222" stroke-width="0.9"/>
<text transform="translate(336.42 536.4) rotate(-45)" font-size="8.3" text-anchor="end" fill="#222">EDHu-2</text>
<rect x="353.08" y="440.6" width="23" height="86.6" fill="#a0002a"/>
<path d="M364.58 440.6V431.94 M358.08 431.94H371.08" stroke="#222" stroke-width="1" fill="none"/>
<text x="364.58" y="428.74" font-size="7" text-anchor="middle" fill="#222">ns</text>
<line x1="364.58" y1="527.2" x2="364.58" y2="529.8" stroke="#222" stroke-width="0.9"/>
<text transform="translate(368.88 536.4) rotate(-45)" font-size="8.3" text-anchor="end" fill="#222">EDHu-3</text>
<rect x="385.54" y="427.09" width="23" height="100.11" fill="#a0002a"/>
<path d="M397.04 427.09V416.01 M390.54 416.01H403.54" stroke="#222" stroke-width="1" fill="none"/>
<text x="397.04" y="412.81" font-size="7" text-anchor="middle" fill="#222">ns</text>
<line x1="397.04" y1="527.2" x2="397.04" y2="529.8" stroke="#222" stroke-width="0.9"/>
<text transform="translate(401.34 536.4) rotate(-45)" font-size="8.3" text-anchor="end" fill="#222">EDHu-4</text>
<rect x="418" y="464.5" width="23" height="62.7" fill="#a0002a"/>
<path d="M429.5 464.5V453.42 M423 453.42H436" stroke="#222" stroke-width="1" fill="none"/>
<text x="429.5" y="452.82" font-size="8.5" font-weight="bold" text-anchor="middle" fill="#222">**</text>
<line x1="429.5" y1="527.2" x2="429.5" y2="529.8" stroke="#222" stroke-width="0.9"/>
<text transform="translate(433.8 536.4) rotate(-45)" font-size="8.3" text-anchor="end" fill="#222">EDHu-1,2,3,4</text>
<path d="M250.4 396.1V527.2H446.2" stroke="#1a1a1a" stroke-width="1.1" fill="none"/>
<line x1="247.4" y1="527.2" x2="250.4" y2="527.2" stroke="#1a1a1a" stroke-width="0.9"/>
<text x="244.2" y="530.2" font-size="8.6" text-anchor="end" fill="#222" stroke="#222" stroke-width="0.2">0</text>
<line x1="247.4" y1="483.9" x2="250.4" y2="483.9" stroke="#1a1a1a" stroke-width="0.9"/>
<text x="244.2" y="486.9" font-size="8.6" text-anchor="end" fill="#222" stroke="#222" stroke-width="0.2">50</text>
<line x1="247.4" y1="440.6" x2="250.4" y2="440.6" stroke="#1a1a1a" stroke-width="0.9"/>
<text x="244.2" y="443.6" font-size="8.6" text-anchor="end" fill="#222" stroke="#222" stroke-width="0.2">100</text>
<line x1="247.4" y1="397.3" x2="250.4" y2="397.3" stroke="#1a1a1a" stroke-width="0.9"/>
<text x="244.2" y="400.3" font-size="8.6" text-anchor="end" fill="#222" stroke="#222" stroke-width="0.2">150</text>
<text transform="translate(223.6 461.2) rotate(-90)" font-size="9.6" text-anchor="middle" fill="#222" textLength="35" lengthAdjust="spacingAndGlyphs" stroke="#222" stroke-width="0.45">Uptake (%)</text>
<text transform="translate(6.8 584.2) scale(0.9 1)" font-size="12.6" font-weight="bold" fill="#000" stroke="#000" stroke-width="0.3">G</text>
<defs><filter id="b1" x="-50%" y="-50%" width="200%" height="200%"><feGaussianBlur stdDeviation="0.55"/></filter><filter id="b2" x="-50%" y="-50%" width="200%" height="200%"><feGaussianBlur stdDeviation="1.6"/></filter><filter id="tex" x="-20%" y="-20%" width="140%" height="140%" color-interpolation-filters="sRGB"><feGaussianBlur in="SourceGraphic" stdDeviation="2.2" result="bl"/><feTurbulence type="fractalNoise" baseFrequency="0.26" numOctaves="3" seed="4" result="nz"/><feColorMatrix in="nz" type="matrix" values="1.9 0 0 0 -0.45  1.9 0 0 0 -0.45  1.9 0 0 0 -0.45  0 0 0 0 1" result="nz2"/><feComposite in="nz2" in2="bl" operator="arithmetic" k1="1" k2="0" k3="0" k4="0"/></filter><filter id="texg" x="-20%" y="-20%" width="140%" height="140%" color-interpolation-filters="sRGB"><feGaussianBlur in="SourceGraphic" stdDeviation="2.6" result="bl"/><feTurbulence type="fractalNoise" baseFrequency="0.3" numOctaves="2" seed="6" result="nz"/><feColorMatrix in="nz" type="matrix" values="1.3 0 0 0 -0.05  1.3 0 0 0 -0.05  1.3 0 0 0 -0.05  0 0 0 0 1" result="nz2"/><feComposite in="nz2" in2="bl" operator="arithmetic" k1="1" k2="0" k3="0" k4="0"/></filter><filter id="ntex" x="-20%" y="-20%" width="140%" height="140%" color-interpolation-filters="sRGB"><feGaussianBlur in="SourceGraphic" stdDeviation="0.7" result="bl"/><feTurbulence type="fractalNoise" baseFrequency="0.3" numOctaves="2" seed="9" result="nz"/><feColorMatrix in="nz" type="matrix" values="1.1 0 0 0 0.2  1.1 0 0 0 0.2  1.1 0 0 0 0.2  0 0 0 0 1" result="nz2"/><feComposite in="nz2" in2="bl" operator="arithmetic" k1="1" k2="0" k3="0" k4="0"/></filter><radialGradient id="gA"><stop offset="0" stop-color="#26421c"/><stop offset="0.8" stop-color="#223c18"/><stop offset="1" stop-color="#142a0e"/></radialGradient><radialGradient id="gB"><stop offset="0" stop-color="#14220e"/><stop offset="0.8" stop-color="#131f0d"/><stop offset="1" stop-color="#0c1608"/></radialGradient><radialGradient id="gC"><stop offset="0" stop-color="#1a3012"/><stop offset="0.8" stop-color="#182c11"/><stop offset="1" stop-color="#101e0a"/></radialGradient><radialGradient id="rA"><stop offset="0" stop-color="#3c0c0c"/><stop offset="0.75" stop-color="#4e100e"/><stop offset="0.92" stop-color="#5e1410"/><stop offset="1" stop-color="#2a0806"/></radialGradient><radialGradient id="rB"><stop offset="0" stop-color="#420c0c"/><stop offset="0.6" stop-color="#340a0a"/><stop offset="1" stop-color="#140404"/></radialGradient><radialGradient id="mA"><stop offset="0" stop-color="#343a12"/><stop offset="0.75" stop-color="#44220e"/><stop offset="0.92" stop-color="#521a0e"/><stop offset="1" stop-color="#240806"/></radialGradient><radialGradient id="mB"><stop offset="0" stop-color="#38240c"/><stop offset="0.6" stop-color="#2e180a"/><stop offset="1" stop-color="#140604" /></radialGradient><radialGradient id="nb"><stop offset="0" stop-color="#1a1a34" stop-opacity="0.9"/><stop offset="1" stop-color="#101024" stop-opacity="0"/></radialGradient></defs>
<text x="83.4" y="589.9" font-size="7.8" text-anchor="middle" fill="#111">ADAMTS13</text>
<svg x="7.2" y="593" width="152.4" height="134.5" viewBox="0 0 152.4 134.5" overflow="hidden">
<rect width="152.4" height="134.5" fill="#030303"/>
<ellipse cx="27.5" cy="102" rx="13" ry="15" fill="url(#nb)"/>
<path d="M65.31 42.5 L63.83 45.1 L61.75 47.28 L59.69 49.08 L58.13 50.75 L57.29 52.64 L56.96 54.92 L56.7 57.52 L56.08 60.09 L54.82 62.2 L52.98 63.56 L50.8 64.19 L48.59 64.41 L46.52 64.69 L44.6 65.34 L42.67 66.4 L40.6 67.57 L38.36 68.4 L36.05 68.49 L33.86 67.75 L31.9 66.38 L30.13 64.76 L28.4 63.25 L26.53 61.98 L24.5 60.8 L22.48 59.39 L20.82 57.52 L19.83 55.11 L19.64 52.37 L20.06 49.58 L20.64 47.01 L20.88 44.71 L20.5 42.5 L19.54 40.14 L18.42 37.49 L17.73 34.62 L17.94 31.83 L19.19 29.49 L21.27 27.82 L23.71 26.75 L26.03 25.94 L27.95 24.98 L29.48 23.59 L30.86 21.8 L32.38 19.95 L34.19 18.49 L36.27 17.78 L38.47 17.88 L40.6 18.5 L42.62 19.21 L44.6 19.65 L46.68 19.73 L48.92 19.67 L51.25 19.86 L53.44 20.66 L55.28 22.17 L56.68 24.23 L57.76 26.49 L58.82 28.66 L60.14 30.63 L61.81 32.52 L63.61 34.57 L65.1 36.96 L65.76 39.68 Z" fill="url(#gA)" filter="url(#texg)"/>
<path d="M138.7 34 L139.33 36.26 L138.88 38.49 L137.48 40.49 L135.53 42.19 L133.49 43.65 L131.64 45.02 L130.04 46.44 L128.56 47.91 L126.97 49.32 L125.14 50.52 L123.09 51.43 L120.92 52.09 L118.74 52.68 L116.59 53.39 L114.38 54.3 L112 55.29 L109.41 56.1 L106.7 56.4 L104.06 55.98 L101.71 54.88 L99.7 53.34 L97.92 51.71 L96.11 50.27 L94.04 49.09 L91.66 48.02 L89.19 46.8 L87.1 45.18 L85.86 43.09 L85.76 40.69 L86.72 38.22 L88.33 35.96 L90 34 L91.2 32.28 L91.71 30.61 L91.65 28.81 L91.4 26.83 L91.39 24.75 L91.91 22.72 L93 20.9 L94.52 19.31 L96.25 17.87 L98.04 16.46 L99.91 15 L101.94 13.6 L104.22 12.45 L106.74 11.8 L109.39 11.74 L112 12.21 L114.47 12.94 L116.82 13.63 L119.19 14.09 L121.69 14.34 L124.33 14.62 L126.92 15.24 L129.15 16.45 L130.71 18.28 L131.53 20.54 L131.79 22.89 L131.93 25.05 L132.43 26.89 L133.57 28.5 L135.29 30.11 L137.19 31.92 Z" fill="url(#gB)" filter="url(#texg)"/>
<path d="M116.45 94 L115.15 96.21 L114.54 98.35 L114.55 100.63 L114.82 103.16 L114.83 105.83 L114.19 108.39 L112.76 110.58 L110.69 112.29 L108.28 113.56 L105.84 114.62 L103.5 115.72 L101.27 117.02 L98.99 118.47 L96.54 119.87 L93.86 120.96 L91 121.58 L88.06 121.7 L85.12 121.43 L82.22 120.89 L79.34 120.14 L76.53 119.13 L73.95 117.7 L71.79 115.74 L70.26 113.26 L69.42 110.45 L69.08 107.6 L68.89 104.97 L68.4 102.69 L67.32 100.67 L65.66 98.68 L63.78 96.49 L62.2 94 L61.48 91.3 L61.87 88.62 L63.3 86.2 L65.38 84.15 L67.6 82.39 L69.55 80.69 L71.09 78.82 L72.35 76.68 L73.65 74.37 L75.26 72.13 L77.34 70.28 L79.85 68.99 L82.6 68.29 L85.43 68.01 L88.24 67.95 L91 67.96 L93.75 68.05 L96.5 68.33 L99.18 68.96 L101.72 69.96 L104.09 71.26 L106.34 72.68 L108.64 74.05 L111.11 75.32 L113.79 76.63 L116.45 78.21 L118.72 80.24 L120.15 82.79 L120.46 85.7 L119.67 88.7 L118.14 91.52 Z" fill="url(#gC)" filter="url(#texg)"/>
<g filter="url(#b1)">
<circle cx="38.5" cy="45.49" r="1.19" fill="#2e6a22" opacity="0.45"/>
<circle cx="40.95" cy="46.87" r="0.64" fill="#2e6a22" opacity="0.45"/>
<circle cx="46.31" cy="57.15" r="0.57" fill="#2e6a22" opacity="0.45"/>
<circle cx="47.37" cy="48.28" r="0.62" fill="#2e6a22" opacity="0.45"/>
<circle cx="41.85" cy="20.48" r="0.64" fill="#2e6a22" opacity="0.45"/>
<circle cx="37.98" cy="59.62" r="0.89" fill="#2e6a22" opacity="0.45"/>
<circle cx="40.59" cy="50.62" r="0.84" fill="#2e6a22" opacity="0.45"/>
<circle cx="55.57" cy="52.89" r="0.74" fill="#2e6a22" opacity="0.45"/>
<circle cx="52.32" cy="37.52" r="1.13" fill="#2e6a22" opacity="0.45"/>
<circle cx="58.65" cy="41" r="1.24" fill="#2e6a22" opacity="0.45"/>
<circle cx="21.81" cy="48.97" r="1.08" fill="#2e6a22" opacity="0.45"/>
<circle cx="22.43" cy="34.13" r="1.22" fill="#5acc40" opacity="0.95"/>
<circle cx="53.67" cy="26.38" r="0.92" fill="#2e6a22" opacity="0.45"/>
<circle cx="26.99" cy="54.09" r="0.6" fill="#2e6a22" opacity="0.45"/>
<circle cx="23.73" cy="38.54" r="0.66" fill="#2e6a22" opacity="0.45"/>
<circle cx="31.98" cy="61.74" r="0.66" fill="#2e6a22" opacity="0.45"/>
<circle cx="56.19" cy="49.59" r="0.58" fill="#5acc40" opacity="0.95"/>
<circle cx="27.98" cy="30.41" r="1.08" fill="#2e6a22" opacity="0.45"/>
<circle cx="22.57" cy="46.64" r="0.68" fill="#2e6a22" opacity="0.45"/>
<circle cx="34.95" cy="40.16" r="1.22" fill="#2e6a22" opacity="0.45"/>
<circle cx="43.88" cy="60.83" r="0.64" fill="#2e6a22" opacity="0.45"/>
<circle cx="29.58" cy="26.99" r="1.05" fill="#5acc40" opacity="0.95"/>
<circle cx="57.42" cy="47.68" r="0.82" fill="#2e6a22" opacity="0.45"/>
<circle cx="29.09" cy="52.73" r="0.69" fill="#5acc40" opacity="0.95"/>
<circle cx="44.84" cy="32.17" r="0.63" fill="#5acc40" opacity="0.95"/>
<circle cx="43.21" cy="60.12" r="0.96" fill="#2e6a22" opacity="0.45"/>
<circle cx="38.21" cy="20.52" r="0.63" fill="#2e6a22" opacity="0.45"/>
<circle cx="43.78" cy="24.08" r="0.77" fill="#5acc40" opacity="0.95"/>
<circle cx="49.01" cy="46.72" r="0.61" fill="#2e6a22" opacity="0.45"/>
<circle cx="39.82" cy="54.02" r="0.74" fill="#5acc40" opacity="0.95"/>
<circle cx="21.91" cy="44.8" r="1.05" fill="#5acc40" opacity="0.95"/>
<circle cx="51.03" cy="52.68" r="1.09" fill="#5acc40" opacity="0.95"/>
<circle cx="34.08" cy="51.76" r="1.18" fill="#5acc40" opacity="0.95"/>
<circle cx="36.95" cy="57.03" r="1.15" fill="#2e6a22" opacity="0.45"/>
<circle cx="46.1" cy="36.62" r="0.94" fill="#2e6a22" opacity="0.45"/>
<circle cx="22.13" cy="49.47" r="1.24" fill="#5acc40" opacity="0.95"/>
<circle cx="50.64" cy="36.92" r="1.05" fill="#2e6a22" opacity="0.45"/>
<circle cx="37.98" cy="59.42" r="0.56" fill="#5acc40" opacity="0.95"/>
<circle cx="39.76" cy="29.01" r="1.02" fill="#2e6a22" opacity="0.45"/>
<circle cx="45.64" cy="63.52" r="0.69" fill="#2e6a22" opacity="0.45"/>
<circle cx="31.85" cy="51.41" r="0.65" fill="#2e6a22" opacity="0.45"/>
<circle cx="58.45" cy="50.5" r="0.83" fill="#5acc40" opacity="0.95"/>
<circle cx="32.99" cy="50.79" r="0.65" fill="#2e6a22" opacity="0.45"/>
<circle cx="57.33" cy="36.72" r="0.94" fill="#2e6a22" opacity="0.45"/>
<circle cx="24.59" cy="42.32" r="1.13" fill="#5acc40" opacity="0.95"/>
<circle cx="30.78" cy="25.96" r="0.84" fill="#2e6a22" opacity="0.45"/>
<circle cx="28.02" cy="38.2" r="0.97" fill="#2e6a22" opacity="0.45"/>
<circle cx="32.48" cy="59.46" r="1.24" fill="#2e6a22" opacity="0.45"/>
<circle cx="49.78" cy="46.03" r="0.73" fill="#5acc40" opacity="0.95"/>
<circle cx="55.11" cy="29.37" r="0.61" fill="#2e6a22" opacity="0.45"/>
<circle cx="46.28" cy="39.82" r="0.97" fill="#2e6a22" opacity="0.45"/>
<circle cx="48.72" cy="27.47" r="0.86" fill="#2e6a22" opacity="0.45"/>
<circle cx="50.02" cy="26.45" r="0.7" fill="#2e6a22" opacity="0.45"/>
<circle cx="49.28" cy="43.52" r="0.96" fill="#5acc40" opacity="0.95"/>
<circle cx="35.91" cy="57.1" r="1.18" fill="#2e6a22" opacity="0.45"/>
<circle cx="24.32" cy="40.18" r="0.97" fill="#5acc40" opacity="0.95"/>
<circle cx="35.18" cy="45.94" r="1.16" fill="#5acc40" opacity="0.95"/>
<circle cx="60.15" cy="40.69" r="0.99" fill="#2e6a22" opacity="0.45"/>
<circle cx="50.37" cy="58.42" r="0.98" fill="#5acc40" opacity="0.95"/>
<circle cx="42.23" cy="57.04" r="0.74" fill="#5acc40" opacity="0.95"/>
<circle cx="56.25" cy="34.93" r="0.56" fill="#2e6a22" opacity="0.45"/>
<circle cx="42.81" cy="55.91" r="0.87" fill="#2e6a22" opacity="0.45"/>
<circle cx="53.79" cy="26.14" r="0.75" fill="#5acc40" opacity="0.95"/>
<circle cx="41.33" cy="53.68" r="1.13" fill="#2e6a22" opacity="0.45"/>
<circle cx="60.21" cy="42.13" r="1.21" fill="#2e6a22" opacity="0.45"/>
<circle cx="28.34" cy="43.83" r="0.72" fill="#5acc40" opacity="0.95"/>
<circle cx="46.71" cy="43.64" r="1.13" fill="#2e6a22" opacity="0.45"/>
<circle cx="32.31" cy="36.56" r="1.13" fill="#5acc40" opacity="0.95"/>
<circle cx="43.81" cy="27.55" r="0.9" fill="#2e6a22" opacity="0.45"/>
<circle cx="36.23" cy="57.55" r="0.92" fill="#2e6a22" opacity="0.45"/>
<circle cx="42.3" cy="38.19" r="1.22" fill="#5acc40" opacity="0.95"/>
<circle cx="30.45" cy="41.16" r="0.6" fill="#2e6a22" opacity="0.45"/>
<circle cx="39.57" cy="33.36" r="0.64" fill="#2e6a22" opacity="0.45"/>
<circle cx="27.14" cy="28.86" r="1.02" fill="#2e6a22" opacity="0.45"/>
<circle cx="34.24" cy="48.49" r="0.58" fill="#5acc40" opacity="0.95"/>
<circle cx="24" cy="43.02" r="0.69" fill="#2e6a22" opacity="0.45"/>
<circle cx="41.94" cy="39.34" r="0.78" fill="#2e6a22" opacity="0.45"/>
<circle cx="41.89" cy="25.49" r="0.65" fill="#2e6a22" opacity="0.45"/>
<circle cx="46.69" cy="43.98" r="1.14" fill="#2e6a22" opacity="0.45"/>
<circle cx="56.3" cy="29.13" r="1.06" fill="#5acc40" opacity="0.95"/>
<circle cx="132.13" cy="26.27" r="0.99" fill="#5acc40" opacity="0.85"/>
<circle cx="98.97" cy="43.52" r="0.94" fill="#2e6a22" opacity="0.4"/>
<circle cx="128.61" cy="30.71" r="1.47" fill="#2e6a22" opacity="0.4"/>
<circle cx="107.14" cy="41.78" r="0.69" fill="#2e6a22" opacity="0.4"/>
<circle cx="121.12" cy="51.28" r="1.66" fill="#2e6a22" opacity="0.4"/>
<circle cx="112.28" cy="44.84" r="1.18" fill="#2e6a22" opacity="0.4"/>
<circle cx="114.58" cy="34.62" r="1.25" fill="#2e6a22" opacity="0.4"/>
<circle cx="96.23" cy="21.56" r="1.53" fill="#5acc40" opacity="0.85"/>
<circle cx="110.1" cy="45.12" r="1.01" fill="#2e6a22" opacity="0.4"/>
<circle cx="112.76" cy="31.06" r="1.28" fill="#2e6a22" opacity="0.4"/>
<circle cx="122.05" cy="48.46" r="0.86" fill="#2e6a22" opacity="0.4"/>
<circle cx="123.97" cy="30.02" r="0.87" fill="#2e6a22" opacity="0.4"/>
<circle cx="122.23" cy="49.15" r="1.31" fill="#2e6a22" opacity="0.4"/>
<circle cx="116.98" cy="34.18" r="1.67" fill="#5acc40" opacity="0.85"/>
<circle cx="124.22" cy="45.68" r="1.5" fill="#2e6a22" opacity="0.4"/>
<circle cx="121.74" cy="45.23" r="1.45" fill="#2e6a22" opacity="0.4"/>
<circle cx="104.09" cy="32.69" r="0.69" fill="#2e6a22" opacity="0.4"/>
<circle cx="118.94" cy="39.21" r="0.91" fill="#5acc40" opacity="0.85"/>
<circle cx="120.3" cy="27.19" r="1.34" fill="#2e6a22" opacity="0.4"/>
<circle cx="113.65" cy="29.36" r="1.69" fill="#2e6a22" opacity="0.4"/>
<circle cx="102.27" cy="107.61" r="1.24" fill="#2e6a22" opacity="0.41"/>
<circle cx="97.46" cy="106.42" r="0.69" fill="#2e6a22" opacity="0.41"/>
<circle cx="84.04" cy="73.12" r="0.69" fill="#5acc40" opacity="0.87"/>
<circle cx="93.8" cy="94.41" r="1.23" fill="#2e6a22" opacity="0.41"/>
<circle cx="96.46" cy="107.48" r="0.53" fill="#5acc40" opacity="0.87"/>
<circle cx="71.96" cy="92.53" r="0.63" fill="#2e6a22" opacity="0.41"/>
<circle cx="115.94" cy="89.88" r="0.9" fill="#2e6a22" opacity="0.41"/>
<circle cx="83.47" cy="82.86" r="0.99" fill="#2e6a22" opacity="0.41"/>
<circle cx="78.88" cy="105.26" r="0.72" fill="#2e6a22" opacity="0.41"/>
<circle cx="71.77" cy="107.24" r="0.79" fill="#5acc40" opacity="0.87"/>
<circle cx="87.05" cy="92.84" r="1.23" fill="#2e6a22" opacity="0.41"/>
<circle cx="92.31" cy="116.74" r="1.04" fill="#2e6a22" opacity="0.41"/>
<circle cx="96.8" cy="73.98" r="0.97" fill="#2e6a22" opacity="0.41"/>
<circle cx="92.57" cy="74.46" r="0.83" fill="#2e6a22" opacity="0.41"/>
<circle cx="88.51" cy="81.63" r="0.94" fill="#2e6a22" opacity="0.41"/>
<circle cx="106.57" cy="95.6" r="1.25" fill="#5acc40" opacity="0.87"/>
<circle cx="104.12" cy="80.4" r="0.59" fill="#5acc40" opacity="0.87"/>
<circle cx="106.92" cy="100.5" r="0.77" fill="#2e6a22" opacity="0.41"/>
<circle cx="101.36" cy="97.37" r="0.94" fill="#2e6a22" opacity="0.41"/>
<circle cx="105.19" cy="77.87" r="0.69" fill="#5acc40" opacity="0.87"/>
<circle cx="78.17" cy="90.11" r="0.97" fill="#2e6a22" opacity="0.41"/>
<circle cx="93.33" cy="71.77" r="0.56" fill="#2e6a22" opacity="0.41"/>
<circle cx="93.84" cy="100.82" r="0.78" fill="#2e6a22" opacity="0.41"/>
<circle cx="74.8" cy="85.87" r="1.06" fill="#5acc40" opacity="0.87"/>
<circle cx="108.31" cy="100.43" r="1.08" fill="#2e6a22" opacity="0.41"/>
<circle cx="86.76" cy="81.42" r="1.11" fill="#2e6a22" opacity="0.41"/>
<circle cx="81.22" cy="96.53" r="1.06" fill="#5acc40" opacity="0.87"/>
<circle cx="86.95" cy="87.2" r="0.57" fill="#5acc40" opacity="0.87"/>
<circle cx="94.6" cy="93.21" r="1.01" fill="#2e6a22" opacity="0.41"/>
<circle cx="74.94" cy="102.43" r="0.56" fill="#2e6a22" opacity="0.41"/>
<circle cx="103.6" cy="104.09" r="0.71" fill="#2e6a22" opacity="0.41"/>
<circle cx="83.04" cy="105.75" r="0.77" fill="#2e6a22" opacity="0.41"/>
<circle cx="102.72" cy="97.6" r="1.19" fill="#5acc40" opacity="0.87"/>
<circle cx="114.15" cy="90.78" r="1.1" fill="#2e6a22" opacity="0.41"/>
<circle cx="80.79" cy="88.78" r="1.2" fill="#5acc40" opacity="0.87"/>
<circle cx="76.91" cy="86.81" r="0.77" fill="#2e6a22" opacity="0.41"/>
<circle cx="85.15" cy="88.15" r="0.65" fill="#2e6a22" opacity="0.41"/>
<circle cx="107.64" cy="96.11" r="1.13" fill="#2e6a22" opacity="0.41"/>
<circle cx="72.89" cy="107.47" r="1.16" fill="#2e6a22" opacity="0.41"/>
<circle cx="93.47" cy="97.51" r="1.22" fill="#2e6a22" opacity="0.41"/>
<circle cx="93.62" cy="108.98" r="0.56" fill="#2e6a22" opacity="0.41"/>
<circle cx="67.74" cy="100.97" r="0.61" fill="#5acc40" opacity="0.87"/>
<circle cx="99.34" cy="80.76" r="0.67" fill="#5acc40" opacity="0.87"/>
<circle cx="92.21" cy="107.76" r="0.8" fill="#2e6a22" opacity="0.41"/>
<circle cx="90.65" cy="95.94" r="1.04" fill="#5acc40" opacity="0.87"/>
<circle cx="114.24" cy="89.35" r="1.12" fill="#2e6a22" opacity="0.41"/>
<circle cx="92.34" cy="104.92" r="1.1" fill="#2e6a22" opacity="0.41"/>
<circle cx="86.55" cy="75.6" r="1.06" fill="#5acc40" opacity="0.87"/>
<circle cx="84.03" cy="76.72" r="0.65" fill="#2e6a22" opacity="0.41"/>
<circle cx="69.43" cy="101.69" r="1.08" fill="#2e6a22" opacity="0.41"/>
<circle cx="66.49" cy="91.86" r="0.94" fill="#5acc40" opacity="0.87"/>
<circle cx="73.33" cy="79.3" r="0.68" fill="#5acc40" opacity="0.87"/>
<circle cx="96.31" cy="79.65" r="0.64" fill="#2e6a22" opacity="0.41"/>
<circle cx="72.66" cy="107.39" r="0.73" fill="#2e6a22" opacity="0.41"/>
<circle cx="108.76" cy="92.93" r="0.7" fill="#5acc40" opacity="0.87"/>
<circle cx="114.2" cy="85.79" r="0.91" fill="#5acc40" opacity="0.87"/>
<circle cx="90.03" cy="79.49" r="0.54" fill="#5acc40" opacity="0.87"/>
<circle cx="107.88" cy="88.02" r="0.9" fill="#2e6a22" opacity="0.41"/>
<circle cx="99.82" cy="80.36" r="0.51" fill="#2e6a22" opacity="0.41"/>
<circle cx="83.81" cy="109.43" r="1.03" fill="#2e6a22" opacity="0.41"/>
</g>
<g filter="url(#ntex)">
<path d="M24.5 31 C25 27 30 25.5 34 26 C38 25 41 24.5 44 26 C46.5 27.5 46.5 31 46 33 C45 36 41 37.5 36 37 C31 37.5 24.5 36 24.5 31 Z" fill="#3636a4"/>
<path d="M56.5 83 C59 78.5 66 78.5 71 80.5 C76 83 78 86 77 91 C76.5 95 80 98 79 102 C78 106 73 108.5 68.5 107.5 C64 106.5 61 102 59 98 C56 93 54.5 87.5 56.5 83 Z" fill="#3636a4"/>
</g>
<ellipse cx="93" cy="25" rx="5.5" ry="9" fill="#1a1a40" opacity="0.6" filter="url(#b2)"/>
<path d="M5.5 129.7H21.1 M5.5 127.5V131.9 M21.1 127.5V131.9" stroke="#c8c8c8" stroke-width="0.9" fill="none"/>
</svg>
<text x="260.3" y="589.9" font-size="7.8" text-anchor="middle" fill="#111">CD163</text>
<svg x="184.1" y="593" width="152.4" height="134.5" viewBox="0 0 152.4 134.5" overflow="hidden">
<rect width="152.4" height="134.5" fill="#030303"/>
<ellipse cx="27.5" cy="102" rx="13" ry="15" fill="url(#nb)"/>
<path d="M62.66 47 L62.55 49.88 L62.34 52.76 L61.82 55.59 L60.84 58.23 L59.43 60.57 L57.79 62.62 L56.18 64.56 L54.77 66.68 L53.57 69.18 L52.37 72.05 L50.91 74.96 L48.99 77.42 L46.61 78.93 L43.95 79.29 L41.25 78.65 L38.7 77.5 L36.33 76.4 L34.02 75.78 L31.6 75.66 L28.99 75.71 L26.3 75.4 L23.82 74.27 L21.84 72.15 L20.55 69.23 L19.88 65.91 L19.58 62.64 L19.28 59.71 L18.73 57.13 L17.88 54.73 L16.89 52.31 L16.05 49.73 L15.57 47 L15.52 44.2 L15.76 41.41 L16.09 38.6 L16.38 35.68 L16.66 32.58 L17.14 29.36 L18.08 26.28 L19.65 23.68 L21.83 21.83 L24.4 20.79 L27.05 20.3 L29.54 19.92 L31.82 19.22 L33.99 18.02 L36.25 16.5 L38.7 15.16 L41.31 14.57 L43.88 15.12 L46.18 16.81 L48.08 19.28 L49.64 21.93 L51.11 24.26 L52.75 26.04 L54.73 27.38 L56.97 28.64 L59.2 30.23 L61.07 32.36 L62.32 35.02 L62.89 38.01 L62.97 41.09 L62.82 44.09 Z" fill="url(#rA)" filter="url(#tex)"/>
<path d="M137.35 36 L135.87 38.04 L134.18 39.84 L132.8 41.51 L132 43.25 L131.65 45.2 L131.34 47.32 L130.57 49.38 L129.04 51.03 L126.77 52.02 L124.08 52.31 L121.38 52.19 L119 52.1 L116.99 52.44 L115.15 53.4 L113.22 54.79 L111 56.19 L108.51 57.1 L105.94 57.21 L103.54 56.49 L101.46 55.19 L99.64 53.71 L97.9 52.33 L96.08 51.15 L94.14 50.05 L92.28 48.8 L90.77 47.26 L89.85 45.42 L89.5 43.42 L89.44 41.45 L89.28 39.6 L88.67 37.83 L87.57 36 L86.29 33.97 L85.35 31.75 L85.26 29.49 L86.25 27.46 L88.17 25.83 L90.57 24.63 L92.92 23.63 L94.84 22.53 L96.31 21.09 L97.6 19.29 L99.08 17.41 L101.01 15.91 L103.42 15.19 L106.08 15.4 L108.68 16.38 L111 17.68 L113.03 18.8 L114.95 19.44 L116.99 19.55 L119.25 19.41 L121.66 19.39 L124 19.78 L126.08 20.69 L127.82 21.98 L129.37 23.44 L130.97 24.88 L132.78 26.3 L134.77 27.8 L136.6 29.53 L137.83 31.55 L138.11 33.78 Z" fill="url(#rB)" filter="url(#tex)"/>
<path d="M119.72 95.5 L121.26 98.18 L122.11 101.05 L122.05 103.95 L121.15 106.72 L119.69 109.28 L117.94 111.69 L116.02 114 L113.92 116.19 L111.48 118.09 L108.64 119.48 L105.44 120.2 L102.11 120.25 L98.88 119.9 L95.91 119.52 L93.17 119.49 L90.5 119.93 L87.69 120.69 L84.68 121.34 L81.6 121.41 L78.74 120.58 L76.36 118.87 L74.54 116.59 L73.11 114.22 L71.68 112.13 L69.86 110.46 L67.49 109.08 L64.74 107.66 L62.05 105.91 L59.97 103.68 L58.9 101.05 L58.9 98.25 L59.7 95.5 L60.83 92.92 L61.89 90.47 L62.7 88.05 L63.36 85.57 L64.13 83.05 L65.28 80.62 L66.92 78.41 L68.95 76.47 L71.19 74.72 L73.47 72.98 L75.76 71.14 L78.18 69.23 L80.89 67.51 L83.94 66.37 L87.23 66.15 L90.5 66.96 L93.5 68.59 L96.11 70.57 L98.43 72.39 L100.72 73.7 L103.23 74.46 L106.03 74.97 L108.94 75.65 L111.57 76.89 L113.53 78.81 L114.63 81.26 L115.03 83.92 L115.15 86.48 L115.5 88.8 L116.43 90.94 L117.94 93.11 Z" fill="url(#rA)" filter="url(#tex)"/>
<g filter="url(#b1)">
<circle cx="36.37" cy="50.59" r="1.31" fill="#801410" opacity="0.5"/>
<circle cx="39.08" cy="52.24" r="0.7" fill="#f42420" opacity="0.95"/>
<circle cx="45.06" cy="64.58" r="0.63" fill="#801410" opacity="0.5"/>
<circle cx="46.24" cy="53.93" r="0.68" fill="#801410" opacity="0.5"/>
<circle cx="40.09" cy="20.57" r="0.71" fill="#801410" opacity="0.5"/>
<circle cx="35.79" cy="67.55" r="0.98" fill="#f42420" opacity="0.95"/>
<circle cx="38.69" cy="56.75" r="0.93" fill="#801410" opacity="0.5"/>
<circle cx="55.37" cy="59.47" r="0.81" fill="#801410" opacity="0.5"/>
<circle cx="51.75" cy="41.02" r="1.25" fill="#801410" opacity="0.5"/>
<circle cx="58.8" cy="45.2" r="1.36" fill="#801410" opacity="0.5"/>
<circle cx="17.78" cy="54.77" r="1.19" fill="#801410" opacity="0.5"/>
<circle cx="18.47" cy="36.96" r="1.35" fill="#f42420" opacity="0.95"/>
<circle cx="53.25" cy="27.66" r="1.01" fill="#801410" opacity="0.5"/>
<circle cx="23.54" cy="60.91" r="0.66" fill="#f42420" opacity="0.95"/>
<circle cx="19.91" cy="42.25" r="0.73" fill="#801410" opacity="0.5"/>
<circle cx="29.1" cy="70.09" r="0.72" fill="#801410" opacity="0.5"/>
<circle cx="56.06" cy="55.51" r="0.63" fill="#f42420" opacity="0.95"/>
<circle cx="24.65" cy="32.5" r="1.19" fill="#801410" opacity="0.5"/>
<circle cx="18.62" cy="51.96" r="0.75" fill="#f42420" opacity="0.95"/>
<circle cx="32.41" cy="44.19" r="1.34" fill="#801410" opacity="0.5"/>
<circle cx="42.35" cy="68.99" r="0.7" fill="#801410" opacity="0.5"/>
<circle cx="26.43" cy="28.39" r="1.16" fill="#f42420" opacity="0.95"/>
<circle cx="57.43" cy="53.21" r="0.9" fill="#801410" opacity="0.5"/>
<circle cx="25.88" cy="59.27" r="0.76" fill="#f42420" opacity="0.95"/>
<circle cx="43.43" cy="34.61" r="0.69" fill="#f42420" opacity="0.95"/>
<circle cx="41.61" cy="68.14" r="1.06" fill="#801410" opacity="0.5"/>
<circle cx="36.04" cy="20.63" r="0.7" fill="#801410" opacity="0.5"/>
<circle cx="42.24" cy="24.89" r="0.85" fill="#f42420" opacity="0.95"/>
<circle cx="48.07" cy="52.07" r="0.67" fill="#801410" opacity="0.5"/>
<circle cx="37.83" cy="60.83" r="0.81" fill="#f42420" opacity="0.95"/>
<circle cx="17.89" cy="49.77" r="1.16" fill="#f42420" opacity="0.95"/>
<circle cx="50.32" cy="59.22" r="1.2" fill="#f42420" opacity="0.95"/>
<circle cx="31.44" cy="58.11" r="1.29" fill="#f42420" opacity="0.95"/>
<circle cx="34.64" cy="64.43" r="1.26" fill="#f42420" opacity="0.95"/>
<circle cx="44.82" cy="39.94" r="1.03" fill="#f42420" opacity="0.95"/>
<circle cx="18.13" cy="55.36" r="1.37" fill="#f42420" opacity="0.95"/>
<circle cx="49.88" cy="40.31" r="1.16" fill="#f42420" opacity="0.95"/>
<circle cx="35.79" cy="67.3" r="0.62" fill="#f42420" opacity="0.95"/>
<circle cx="37.77" cy="30.81" r="1.13" fill="#801410" opacity="0.5"/>
<circle cx="44.31" cy="72.23" r="0.76" fill="#801410" opacity="0.5"/>
<circle cx="28.95" cy="57.69" r="0.72" fill="#801410" opacity="0.5"/>
<circle cx="58.58" cy="56.6" r="0.91" fill="#f42420" opacity="0.95"/>
<circle cx="30.22" cy="56.95" r="0.71" fill="#801410" opacity="0.5"/>
<circle cx="57.33" cy="40.07" r="1.03" fill="#801410" opacity="0.5"/>
<circle cx="20.87" cy="46.79" r="1.24" fill="#f42420" opacity="0.95"/>
<circle cx="27.76" cy="27.15" r="0.92" fill="#801410" opacity="0.5"/>
<circle cx="24.69" cy="41.84" r="1.07" fill="#801410" opacity="0.5"/>
<circle cx="29.65" cy="67.35" r="1.36" fill="#801410" opacity="0.5"/>
<circle cx="48.92" cy="51.23" r="0.8" fill="#f42420" opacity="0.95"/>
<circle cx="54.85" cy="31.24" r="0.67" fill="#801410" opacity="0.5"/>
<circle cx="45.03" cy="43.79" r="1.07" fill="#f42420" opacity="0.95"/>
<circle cx="47.74" cy="28.96" r="0.94" fill="#801410" opacity="0.5"/>
<circle cx="49.19" cy="27.75" r="0.77" fill="#801410" opacity="0.5"/>
<circle cx="48.37" cy="48.23" r="1.06" fill="#f42420" opacity="0.95"/>
<circle cx="33.48" cy="64.52" r="1.3" fill="#801410" opacity="0.5"/>
<circle cx="20.57" cy="44.21" r="1.07" fill="#f42420" opacity="0.95"/>
<circle cx="32.66" cy="51.13" r="1.28" fill="#f42420" opacity="0.95"/>
<circle cx="60.47" cy="44.82" r="1.09" fill="#801410" opacity="0.5"/>
<circle cx="49.57" cy="66.1" r="1.08" fill="#f42420" opacity="0.95"/>
<circle cx="40.51" cy="64.45" r="0.81" fill="#f42420" opacity="0.95"/>
<circle cx="56.13" cy="37.91" r="0.62" fill="#801410" opacity="0.5"/>
<circle cx="41.16" cy="63.09" r="0.95" fill="#801410" opacity="0.5"/>
<circle cx="53.39" cy="27.37" r="0.83" fill="#f42420" opacity="0.95"/>
<circle cx="39.51" cy="60.41" r="1.24" fill="#f42420" opacity="0.95"/>
<circle cx="60.54" cy="46.55" r="1.33" fill="#801410" opacity="0.5"/>
<circle cx="25.05" cy="48.6" r="0.79" fill="#f42420" opacity="0.95"/>
<circle cx="45.5" cy="48.37" r="1.25" fill="#f42420" opacity="0.95"/>
<circle cx="29.47" cy="39.87" r="1.25" fill="#f42420" opacity="0.95"/>
<circle cx="42.28" cy="29.06" r="0.99" fill="#f42420" opacity="0.95"/>
<circle cx="33.83" cy="65.06" r="1.01" fill="#801410" opacity="0.5"/>
<circle cx="40.6" cy="41.83" r="1.34" fill="#f42420" opacity="0.95"/>
<circle cx="27.39" cy="45.39" r="0.65" fill="#801410" opacity="0.5"/>
<circle cx="37.55" cy="36.03" r="0.71" fill="#f42420" opacity="0.95"/>
<circle cx="23.71" cy="30.64" r="1.12" fill="#801410" opacity="0.5"/>
<circle cx="31.61" cy="54.19" r="0.64" fill="#f42420" opacity="0.95"/>
<circle cx="20.22" cy="47.63" r="0.76" fill="#801410" opacity="0.5"/>
<circle cx="40.19" cy="43.21" r="0.86" fill="#801410" opacity="0.5"/>
<circle cx="40.14" cy="26.58" r="0.72" fill="#f42420" opacity="0.95"/>
<circle cx="45.48" cy="48.78" r="1.25" fill="#f42420" opacity="0.95"/>
<circle cx="56.18" cy="30.96" r="1.16" fill="#f42420" opacity="0.95"/>
<circle cx="130.33" cy="28.63" r="1.09" fill="#f42420" opacity="0.85"/>
<circle cx="98.49" cy="45.06" r="1.03" fill="#801410" opacity="0.45"/>
<circle cx="126.94" cy="32.87" r="1.62" fill="#801410" opacity="0.45"/>
<circle cx="106.33" cy="43.41" r="0.76" fill="#801410" opacity="0.45"/>
<circle cx="119.75" cy="52.45" r="1.82" fill="#801410" opacity="0.45"/>
<circle cx="111.27" cy="46.33" r="1.3" fill="#f42420" opacity="0.85"/>
<circle cx="113.48" cy="36.59" r="1.38" fill="#801410" opacity="0.45"/>
<circle cx="95.86" cy="24.16" r="1.68" fill="#f42420" opacity="0.85"/>
<circle cx="109.18" cy="46.59" r="1.11" fill="#801410" opacity="0.45"/>
<circle cx="111.73" cy="33.2" r="1.41" fill="#801410" opacity="0.45"/>
<circle cx="120.65" cy="49.77" r="0.94" fill="#801410" opacity="0.45"/>
<circle cx="122.49" cy="32.21" r="0.96" fill="#801410" opacity="0.45"/>
<circle cx="120.82" cy="50.43" r="1.44" fill="#801410" opacity="0.45"/>
<circle cx="115.78" cy="36.17" r="1.84" fill="#f42420" opacity="0.85"/>
<circle cx="122.73" cy="47.12" r="1.65" fill="#801410" opacity="0.45"/>
<circle cx="120.35" cy="46.69" r="1.59" fill="#801410" opacity="0.45"/>
<circle cx="103.4" cy="34.75" r="0.75" fill="#801410" opacity="0.45"/>
<circle cx="117.66" cy="40.96" r="1" fill="#f42420" opacity="0.85"/>
<circle cx="118.97" cy="29.51" r="1.48" fill="#f42420" opacity="0.85"/>
<circle cx="112.59" cy="31.58" r="1.86" fill="#f42420" opacity="0.85"/>
<circle cx="102.58" cy="109.37" r="1.36" fill="#801410" opacity="0.46"/>
<circle cx="97.42" cy="108.16" r="0.76" fill="#801410" opacity="0.46"/>
<circle cx="83.04" cy="74.22" r="0.76" fill="#f42420" opacity="0.87"/>
<circle cx="93.5" cy="95.91" r="1.35" fill="#f42420" opacity="0.87"/>
<circle cx="96.35" cy="109.24" r="0.59" fill="#f42420" opacity="0.87"/>
<circle cx="70.1" cy="94" r="0.69" fill="#801410" opacity="0.46"/>
<circle cx="117.22" cy="91.3" r="0.98" fill="#f42420" opacity="0.87"/>
<circle cx="82.43" cy="84.14" r="1.09" fill="#f42420" opacity="0.87"/>
<circle cx="77.51" cy="106.98" r="0.79" fill="#801410" opacity="0.46"/>
<circle cx="69.9" cy="109" r="0.87" fill="#f42420" opacity="0.87"/>
<circle cx="86.27" cy="94.31" r="1.35" fill="#801410" opacity="0.46"/>
<circle cx="91.9" cy="118.68" r="1.15" fill="#801410" opacity="0.46"/>
<circle cx="96.72" cy="75.1" r="1.07" fill="#801410" opacity="0.46"/>
<circle cx="92.19" cy="75.59" r="0.92" fill="#f42420" opacity="0.87"/>
<circle cx="87.83" cy="82.89" r="1.03" fill="#801410" opacity="0.46"/>
<circle cx="107.18" cy="97.13" r="1.37" fill="#f42420" opacity="0.87"/>
<circle cx="104.56" cy="81.64" r="0.64" fill="#f42420" opacity="0.87"/>
<circle cx="107.56" cy="102.12" r="0.85" fill="#801410" opacity="0.46"/>
<circle cx="101.6" cy="98.94" r="1.04" fill="#f42420" opacity="0.87"/>
<circle cx="105.7" cy="79.06" r="0.76" fill="#f42420" opacity="0.87"/>
<circle cx="76.76" cy="91.54" r="1.06" fill="#801410" opacity="0.46"/>
<circle cx="93" cy="72.84" r="0.62" fill="#f42420" opacity="0.87"/>
<circle cx="93.54" cy="102.45" r="0.86" fill="#801410" opacity="0.46"/>
<circle cx="73.14" cy="87.22" r="1.16" fill="#f42420" opacity="0.87"/>
<circle cx="109.05" cy="102.06" r="1.18" fill="#801410" opacity="0.46"/>
<circle cx="85.96" cy="82.68" r="1.22" fill="#801410" opacity="0.46"/>
<circle cx="80.02" cy="98.08" r="1.17" fill="#f42420" opacity="0.87"/>
<circle cx="86.16" cy="88.57" r="0.63" fill="#f42420" opacity="0.87"/>
<circle cx="94.35" cy="94.7" r="1.12" fill="#801410" opacity="0.46"/>
<circle cx="73.3" cy="104.09" r="0.62" fill="#801410" opacity="0.46"/>
<circle cx="104" cy="105.78" r="0.78" fill="#801410" opacity="0.46"/>
<circle cx="81.97" cy="107.48" r="0.85" fill="#801410" opacity="0.46"/>
<circle cx="103.06" cy="99.17" r="1.31" fill="#f42420" opacity="0.87"/>
<circle cx="115.3" cy="92.21" r="1.21" fill="#801410" opacity="0.46"/>
<circle cx="79.56" cy="90.18" r="1.32" fill="#f42420" opacity="0.87"/>
<circle cx="75.4" cy="88.17" r="0.85" fill="#801410" opacity="0.46"/>
<circle cx="84.24" cy="89.54" r="0.71" fill="#f42420" opacity="0.87"/>
<circle cx="108.32" cy="97.65" r="1.24" fill="#f42420" opacity="0.87"/>
<circle cx="71.1" cy="109.22" r="1.28" fill="#801410" opacity="0.46"/>
<circle cx="93.15" cy="99.08" r="1.35" fill="#f42420" opacity="0.87"/>
<circle cx="93.31" cy="110.77" r="0.62" fill="#801410" opacity="0.46"/>
<circle cx="65.58" cy="102.61" r="0.67" fill="#f42420" opacity="0.87"/>
<circle cx="99.44" cy="82.01" r="0.73" fill="#f42420" opacity="0.87"/>
<circle cx="91.79" cy="109.53" r="0.88" fill="#801410" opacity="0.46"/>
<circle cx="90.12" cy="97.48" r="1.14" fill="#f42420" opacity="0.87"/>
<circle cx="115.4" cy="90.76" r="1.23" fill="#f42420" opacity="0.87"/>
<circle cx="91.93" cy="106.63" r="1.21" fill="#801410" opacity="0.46"/>
<circle cx="85.73" cy="76.75" r="1.16" fill="#f42420" opacity="0.87"/>
<circle cx="83.03" cy="77.89" r="0.72" fill="#801410" opacity="0.46"/>
<circle cx="67.39" cy="103.34" r="1.19" fill="#801410" opacity="0.46"/>
<circle cx="64.24" cy="93.31" r="1.03" fill="#f42420" opacity="0.87"/>
<circle cx="71.57" cy="80.52" r="0.74" fill="#f42420" opacity="0.87"/>
<circle cx="96.19" cy="80.87" r="0.7" fill="#801410" opacity="0.46"/>
<circle cx="70.85" cy="109.15" r="0.81" fill="#f42420" opacity="0.87"/>
<circle cx="109.53" cy="94.41" r="0.76" fill="#f42420" opacity="0.87"/>
<circle cx="115.36" cy="87.13" r="1" fill="#f42420" opacity="0.87"/>
<circle cx="89.46" cy="80.71" r="0.59" fill="#f42420" opacity="0.87"/>
<circle cx="108.59" cy="89.4" r="0.99" fill="#f42420" opacity="0.87"/>
<circle cx="99.95" cy="81.59" r="0.56" fill="#801410" opacity="0.46"/>
<circle cx="82.79" cy="111.23" r="1.14" fill="#f42420" opacity="0.87"/>
</g>
<path d="M19 66 C22 70 27 72 33 71.5" stroke="#c01a14" stroke-width="2.6" fill="none" opacity="0.55" filter="url(#b2)"/>
<ellipse cx="150" cy="128" rx="9" ry="12" fill="#2a0a06" opacity="0.6" filter="url(#b2)"/>
<g filter="url(#ntex)">
<path d="M24.5 31 C25 27 30 25.5 34 26 C38 25 41 24.5 44 26 C46.5 27.5 46.5 31 46 33 C45 36 41 37.5 36 37 C31 37.5 24.5 36 24.5 31 Z" fill="#3636a4"/>
<path d="M56.5 83 C59 78.5 66 78.5 71 80.5 C76 83 78 86 77 91 C76.5 95 80 98 79 102 C78 106 73 108.5 68.5 107.5 C64 106.5 61 102 59 98 C56 93 54.5 87.5 56.5 83 Z" fill="#3636a4"/>
</g>
<ellipse cx="93" cy="25" rx="5.5" ry="9" fill="#1a1a40" opacity="0.6" filter="url(#b2)"/>
<path d="M5.5 129.7H21.1 M5.5 127.5V131.9 M21.1 127.5V131.9" stroke="#c8c8c8" stroke-width="0.9" fill="none"/>
</svg>
<text x="437.2" y="589.9" font-size="7.8" text-anchor="middle" fill="#111">Merge (ADAMTS13 + CD163)</text>
<svg x="361" y="593" width="152.4" height="134.5" viewBox="0 0 152.4 134.5" overflow="hidden">
<rect width="152.4" height="134.5" fill="#030303"/>
<ellipse cx="27.5" cy="102" rx="13" ry="15" fill="url(#nb)"/>
<path d="M64.16 46 L64.75 49 L64.85 52.09 L64.23 55.06 L62.91 57.72 L61.12 59.97 L59.2 61.91 L57.4 63.75 L55.78 65.67 L54.23 67.69 L52.58 69.66 L50.69 71.31 L48.56 72.44 L46.3 73.07 L44.01 73.4 L41.76 73.77 L39.5 74.39 L37.12 75.23 L34.57 75.96 L31.94 76.11 L29.47 75.26 L27.43 73.29 L25.98 70.44 L25.07 67.24 L24.41 64.23 L23.61 61.76 L22.34 59.85 L20.55 58.24 L18.48 56.52 L16.54 54.42 L15.16 51.85 L14.56 48.97 L14.69 46 L15.24 43.11 L15.85 40.32 L16.29 37.49 L16.58 34.53 L16.93 31.42 L17.63 28.34 L18.89 25.56 L20.74 23.33 L23 21.7 L25.43 20.56 L27.84 19.65 L30.17 18.79 L32.47 17.98 L34.8 17.43 L37.17 17.42 L39.5 18.17 L41.65 19.61 L43.55 21.4 L45.27 23.02 L47.02 24.06 L49.06 24.39 L51.54 24.23 L54.37 24.1 L57.25 24.55 L59.75 25.92 L61.53 28.22 L62.47 31.17 L62.77 34.35 L62.82 37.45 L62.99 40.35 L63.47 43.15 Z" fill="url(#mA)" filter="url(#tex)"/>
<path d="M136.53 35 L136.16 37.03 L135.93 39.07 L135.65 41.13 L134.99 43.14 L133.72 44.94 L131.86 46.38 L129.65 47.46 L127.45 48.34 L125.51 49.28 L123.88 50.51 L122.39 52.04 L120.73 53.65 L118.73 54.94 L116.38 55.54 L113.89 55.29 L111.5 54.39 L109.35 53.28 L107.34 52.49 L105.22 52.33 L102.69 52.79 L99.68 53.5 L96.39 53.92 L93.25 53.6 L90.76 52.35 L89.21 50.3 L88.57 47.82 L88.49 45.29 L88.51 42.97 L88.3 40.89 L87.78 38.95 L87.21 37 L86.94 35 L87.26 33 L88.18 31.12 L89.47 29.41 L90.79 27.82 L91.85 26.21 L92.64 24.46 L93.37 22.55 L94.37 20.67 L95.88 19.08 L97.93 18 L100.31 17.49 L102.74 17.31 L105.01 17.09 L107.09 16.47 L109.18 15.32 L111.5 13.88 L114.14 12.59 L116.96 12.02 L119.66 12.5 L121.89 14.01 L123.5 16.21 L124.63 18.56 L125.65 20.57 L126.98 22.04 L128.87 23.08 L131.21 23.98 L133.62 25.11 L135.62 26.64 L136.83 28.57 L137.21 30.72 L136.98 32.9 Z" fill="url(#mB)" filter="url(#tex)"/>
<path d="M121.61 95 L121.52 97.74 L120.4 100.34 L118.71 102.69 L116.97 104.85 L115.5 107.01 L114.31 109.29 L113.13 111.68 L111.64 113.99 L109.64 115.95 L107.15 117.38 L104.36 118.3 L101.53 118.92 L98.79 119.54 L96.11 120.36 L93.39 121.34 L90.5 122.23 L87.47 122.65 L84.44 122.35 L81.62 121.3 L79.08 119.77 L76.74 118.13 L74.34 116.72 L71.66 115.62 L68.63 114.65 L65.51 113.42 L62.81 111.62 L61.06 109.14 L60.6 106.13 L61.35 102.94 L62.86 99.94 L64.45 97.31 L65.51 95 L65.81 92.82 L65.5 90.53 L65.04 88.06 L64.95 85.49 L65.56 83.02 L66.87 80.82 L68.65 78.89 L70.56 77.09 L72.42 75.21 L74.22 73.11 L76.15 70.88 L78.41 68.79 L81.11 67.18 L84.15 66.32 L87.34 66.21 L90.5 66.62 L93.55 67.2 L96.55 67.7 L99.59 68.08 L102.69 68.56 L105.67 69.51 L108.21 71.2 L110.01 73.64 L110.99 76.59 L111.38 79.61 L111.64 82.31 L112.34 84.51 L113.81 86.33 L115.99 88.05 L118.44 90.01 L120.51 92.35 Z" fill="url(#mA)" filter="url(#tex)"/>
<g filter="url(#b1)">
<circle cx="37.21" cy="49.47" r="1.31" fill="#58a030" opacity="0.8"/>
<circle cx="39.88" cy="51.07" r="0.7" fill="#58a030" opacity="0.8"/>
<circle cx="45.73" cy="62.99" r="0.63" fill="#7a3010" opacity="0.45"/>
<circle cx="46.89" cy="52.7" r="0.68" fill="#7a3010" opacity="0.45"/>
<circle cx="40.86" cy="20.45" r="0.71" fill="#7a3010" opacity="0.45"/>
<circle cx="36.65" cy="65.86" r="0.98" fill="#f04418" opacity="0.9"/>
<circle cx="39.49" cy="55.42" r="0.93" fill="#7a3010" opacity="0.45"/>
<circle cx="55.83" cy="58.05" r="0.81" fill="#7a3010" opacity="0.45"/>
<circle cx="52.28" cy="40.22" r="1.25" fill="#58a030" opacity="0.8"/>
<circle cx="59.19" cy="44.26" r="1.36" fill="#58a030" opacity="0.8"/>
<circle cx="19.01" cy="53.51" r="1.19" fill="#7a3010" opacity="0.45"/>
<circle cx="19.68" cy="36.29" r="1.35" fill="#f04418" opacity="0.9"/>
<circle cx="53.76" cy="27.31" r="1.01" fill="#58a030" opacity="0.8"/>
<circle cx="24.65" cy="59.45" r="0.66" fill="#f04418" opacity="0.9"/>
<circle cx="21.09" cy="41.4" r="0.73" fill="#7a3010" opacity="0.45"/>
<circle cx="30.1" cy="68.32" r="0.72" fill="#58a030" opacity="0.8"/>
<circle cx="56.51" cy="54.23" r="0.63" fill="#ffd23a" opacity="0.95"/>
<circle cx="25.74" cy="31.98" r="1.19" fill="#7a3010" opacity="0.45"/>
<circle cx="19.83" cy="50.8" r="0.75" fill="#f04418" opacity="0.9"/>
<circle cx="33.34" cy="43.29" r="1.34" fill="#58a030" opacity="0.8"/>
<circle cx="43.08" cy="67.26" r="0.7" fill="#7a3010" opacity="0.45"/>
<circle cx="27.48" cy="28.01" r="1.16" fill="#ffd23a" opacity="0.95"/>
<circle cx="57.85" cy="52" r="0.9" fill="#7a3010" opacity="0.45"/>
<circle cx="26.94" cy="57.87" r="0.76" fill="#ffd23a" opacity="0.95"/>
<circle cx="44.13" cy="34.02" r="0.69" fill="#f04418" opacity="0.9"/>
<circle cx="42.35" cy="66.44" r="1.06" fill="#7a3010" opacity="0.45"/>
<circle cx="36.89" cy="20.51" r="0.7" fill="#58a030" opacity="0.8"/>
<circle cx="42.96" cy="24.63" r="0.85" fill="#ffd23a" opacity="0.95"/>
<circle cx="48.68" cy="50.9" r="0.67" fill="#7a3010" opacity="0.45"/>
<circle cx="38.65" cy="59.37" r="0.81" fill="#ffd23a" opacity="0.95"/>
<circle cx="19.11" cy="48.67" r="1.16" fill="#ffd23a" opacity="0.95"/>
<circle cx="50.88" cy="57.81" r="1.2" fill="#ffd23a" opacity="0.95"/>
<circle cx="32.39" cy="56.74" r="1.29" fill="#ffd23a" opacity="0.95"/>
<circle cx="35.52" cy="62.85" r="1.26" fill="#f04418" opacity="0.9"/>
<circle cx="45.5" cy="39.18" r="1.03" fill="#f04418" opacity="0.9"/>
<circle cx="19.35" cy="54.09" r="1.37" fill="#ffd23a" opacity="0.95"/>
<circle cx="50.45" cy="39.53" r="1.16" fill="#f04418" opacity="0.9"/>
<circle cx="36.65" cy="65.63" r="0.62" fill="#f04418" opacity="0.9"/>
<circle cx="38.59" cy="30.35" r="1.13" fill="#58a030" opacity="0.8"/>
<circle cx="45" cy="70.39" r="0.76" fill="#7a3010" opacity="0.45"/>
<circle cx="29.95" cy="56.33" r="0.72" fill="#7a3010" opacity="0.45"/>
<circle cx="58.97" cy="55.28" r="0.91" fill="#ffd23a" opacity="0.95"/>
<circle cx="31.19" cy="55.62" r="0.71" fill="#58a030" opacity="0.8"/>
<circle cx="57.75" cy="39.3" r="1.03" fill="#7a3010" opacity="0.45"/>
<circle cx="22.04" cy="45.8" r="1.24" fill="#ffd23a" opacity="0.95"/>
<circle cx="28.79" cy="26.81" r="0.92" fill="#7a3010" opacity="0.45"/>
<circle cx="25.78" cy="41.01" r="1.07" fill="#58a030" opacity="0.8"/>
<circle cx="30.64" cy="65.67" r="1.36" fill="#58a030" opacity="0.8"/>
<circle cx="49.51" cy="50.09" r="0.8" fill="#f04418" opacity="0.9"/>
<circle cx="55.32" cy="30.77" r="0.67" fill="#7a3010" opacity="0.45"/>
<circle cx="45.7" cy="42.9" r="1.07" fill="#f04418" opacity="0.9"/>
<circle cx="48.36" cy="28.56" r="0.94" fill="#7a3010" opacity="0.45"/>
<circle cx="49.78" cy="27.39" r="0.77" fill="#7a3010" opacity="0.45"/>
<circle cx="48.97" cy="47.18" r="1.06" fill="#f04418" opacity="0.9"/>
<circle cx="34.39" cy="62.93" r="1.3" fill="#7a3010" opacity="0.45"/>
<circle cx="21.74" cy="43.31" r="1.07" fill="#ffd23a" opacity="0.95"/>
<circle cx="33.59" cy="49.99" r="1.28" fill="#f04418" opacity="0.9"/>
<circle cx="60.82" cy="43.9" r="1.09" fill="#7a3010" opacity="0.45"/>
<circle cx="50.15" cy="64.46" r="1.08" fill="#f04418" opacity="0.9"/>
<circle cx="41.27" cy="62.87" r="0.81" fill="#ffd23a" opacity="0.95"/>
<circle cx="56.58" cy="37.21" r="0.62" fill="#58a030" opacity="0.8"/>
<circle cx="41.91" cy="61.56" r="0.95" fill="#7a3010" opacity="0.45"/>
<circle cx="53.89" cy="27.03" r="0.83" fill="#f04418" opacity="0.9"/>
<circle cx="40.29" cy="58.97" r="1.24" fill="#f04418" opacity="0.9"/>
<circle cx="60.9" cy="45.57" r="1.33" fill="#7a3010" opacity="0.45"/>
<circle cx="26.13" cy="47.55" r="0.79" fill="#f04418" opacity="0.9"/>
<circle cx="46.17" cy="47.32" r="1.25" fill="#f04418" opacity="0.9"/>
<circle cx="30.46" cy="39.11" r="1.25" fill="#ffd23a" opacity="0.95"/>
<circle cx="43" cy="28.66" r="0.99" fill="#58a030" opacity="0.8"/>
<circle cx="34.73" cy="63.46" r="1.01" fill="#58a030" opacity="0.8"/>
<circle cx="41.36" cy="41" r="1.34" fill="#ffd23a" opacity="0.95"/>
<circle cx="28.42" cy="44.44" r="0.65" fill="#58a030" opacity="0.8"/>
<circle cx="38.37" cy="35.4" r="0.71" fill="#f04418" opacity="0.9"/>
<circle cx="24.82" cy="30.18" r="1.12" fill="#7a3010" opacity="0.45"/>
<circle cx="32.56" cy="52.95" r="0.64" fill="#f04418" opacity="0.9"/>
<circle cx="21.39" cy="46.61" r="0.76" fill="#7a3010" opacity="0.45"/>
<circle cx="40.96" cy="42.33" r="0.86" fill="#58a030" opacity="0.8"/>
<circle cx="40.91" cy="26.26" r="0.72" fill="#f04418" opacity="0.9"/>
<circle cx="46.15" cy="47.72" r="1.25" fill="#f04418" opacity="0.9"/>
<circle cx="56.62" cy="30.49" r="1.16" fill="#f04418" opacity="0.9"/>
<circle cx="131.23" cy="27.45" r="1.09" fill="#ffd23a" opacity="0.85"/>
<circle cx="98.73" cy="44.29" r="1.03" fill="#7a3010" opacity="0.4"/>
<circle cx="127.78" cy="31.79" r="1.62" fill="#7a3010" opacity="0.4"/>
<circle cx="106.74" cy="42.59" r="0.76" fill="#7a3010" opacity="0.4"/>
<circle cx="120.44" cy="51.87" r="1.82" fill="#7a3010" opacity="0.4"/>
<circle cx="111.78" cy="45.58" r="1.3" fill="#f04418" opacity="0.8"/>
<circle cx="114.03" cy="35.61" r="1.38" fill="#7a3010" opacity="0.4"/>
<circle cx="96.04" cy="22.86" r="1.68" fill="#ffd23a" opacity="0.85"/>
<circle cx="109.64" cy="45.85" r="1.11" fill="#58a030" opacity="0.71"/>
<circle cx="112.25" cy="32.13" r="1.41" fill="#7a3010" opacity="0.4"/>
<circle cx="121.35" cy="49.11" r="0.94" fill="#58a030" opacity="0.71"/>
<circle cx="123.23" cy="31.12" r="0.96" fill="#7a3010" opacity="0.4"/>
<circle cx="121.53" cy="49.79" r="1.44" fill="#58a030" opacity="0.71"/>
<circle cx="116.38" cy="35.18" r="1.84" fill="#f04418" opacity="0.8"/>
<circle cx="123.48" cy="46.4" r="1.65" fill="#58a030" opacity="0.71"/>
<circle cx="121.05" cy="45.96" r="1.59" fill="#58a030" opacity="0.71"/>
<circle cx="103.74" cy="33.72" r="0.75" fill="#58a030" opacity="0.71"/>
<circle cx="118.3" cy="40.08" r="1" fill="#ffd23a" opacity="0.85"/>
<circle cx="119.64" cy="28.35" r="1.48" fill="#f04418" opacity="0.8"/>
<circle cx="113.12" cy="30.47" r="1.86" fill="#f04418" opacity="0.8"/>
<circle cx="102.37" cy="108.87" r="1.36" fill="#7a3010" opacity="0.41"/>
<circle cx="97.31" cy="107.66" r="0.76" fill="#58a030" opacity="0.73"/>
<circle cx="83.16" cy="73.72" r="0.76" fill="#ffd23a" opacity="0.87"/>
<circle cx="93.45" cy="95.41" r="1.35" fill="#f04418" opacity="0.83"/>
<circle cx="96.25" cy="108.74" r="0.59" fill="#ffd23a" opacity="0.87"/>
<circle cx="70.44" cy="93.5" r="0.69" fill="#58a030" opacity="0.73"/>
<circle cx="116.77" cy="90.8" r="0.98" fill="#f04418" opacity="0.83"/>
<circle cx="82.57" cy="83.64" r="1.09" fill="#f04418" opacity="0.83"/>
<circle cx="77.73" cy="106.48" r="0.79" fill="#7a3010" opacity="0.41"/>
<circle cx="70.24" cy="108.5" r="0.87" fill="#ffd23a" opacity="0.87"/>
<circle cx="86.34" cy="93.81" r="1.35" fill="#7a3010" opacity="0.41"/>
<circle cx="91.88" cy="118.18" r="1.15" fill="#58a030" opacity="0.73"/>
<circle cx="96.61" cy="74.6" r="1.07" fill="#58a030" opacity="0.73"/>
<circle cx="92.16" cy="75.09" r="0.92" fill="#f04418" opacity="0.83"/>
<circle cx="87.88" cy="82.39" r="1.03" fill="#58a030" opacity="0.73"/>
<circle cx="106.9" cy="96.63" r="1.37" fill="#ffd23a" opacity="0.87"/>
<circle cx="104.32" cy="81.14" r="0.64" fill="#ffd23a" opacity="0.87"/>
<circle cx="107.27" cy="101.62" r="0.85" fill="#7a3010" opacity="0.41"/>
<circle cx="101.42" cy="98.44" r="1.04" fill="#f04418" opacity="0.83"/>
<circle cx="105.45" cy="78.56" r="0.76" fill="#ffd23a" opacity="0.87"/>
<circle cx="76.99" cy="91.04" r="1.06" fill="#7a3010" opacity="0.41"/>
<circle cx="92.96" cy="72.34" r="0.62" fill="#f04418" opacity="0.83"/>
<circle cx="93.49" cy="101.95" r="0.86" fill="#58a030" opacity="0.73"/>
<circle cx="73.43" cy="86.72" r="1.16" fill="#ffd23a" opacity="0.87"/>
<circle cx="108.74" cy="101.56" r="1.18" fill="#7a3010" opacity="0.41"/>
<circle cx="86.04" cy="82.18" r="1.22" fill="#58a030" opacity="0.73"/>
<circle cx="80.2" cy="97.58" r="1.17" fill="#ffd23a" opacity="0.87"/>
<circle cx="86.23" cy="88.07" r="0.63" fill="#ffd23a" opacity="0.87"/>
<circle cx="94.29" cy="94.2" r="1.12" fill="#7a3010" opacity="0.41"/>
<circle cx="73.58" cy="103.59" r="0.62" fill="#7a3010" opacity="0.41"/>
<circle cx="103.77" cy="105.28" r="0.78" fill="#7a3010" opacity="0.41"/>
<circle cx="82.11" cy="106.98" r="0.85" fill="#7a3010" opacity="0.41"/>
<circle cx="102.85" cy="98.67" r="1.31" fill="#ffd23a" opacity="0.87"/>
<circle cx="114.89" cy="91.71" r="1.21" fill="#7a3010" opacity="0.41"/>
<circle cx="79.74" cy="89.68" r="1.32" fill="#ffd23a" opacity="0.87"/>
<circle cx="75.65" cy="87.67" r="0.85" fill="#58a030" opacity="0.73"/>
<circle cx="84.34" cy="89.04" r="0.71" fill="#f04418" opacity="0.83"/>
<circle cx="108.03" cy="97.15" r="1.24" fill="#f04418" opacity="0.83"/>
<circle cx="71.42" cy="108.72" r="1.28" fill="#7a3010" opacity="0.41"/>
<circle cx="93.1" cy="98.58" r="1.35" fill="#f04418" opacity="0.83"/>
<circle cx="93.26" cy="110.27" r="0.62" fill="#7a3010" opacity="0.41"/>
<circle cx="66" cy="102.11" r="0.67" fill="#f04418" opacity="0.83"/>
<circle cx="99.29" cy="81.51" r="0.73" fill="#f04418" opacity="0.83"/>
<circle cx="91.77" cy="109.03" r="0.88" fill="#7a3010" opacity="0.41"/>
<circle cx="90.13" cy="96.98" r="1.14" fill="#f04418" opacity="0.83"/>
<circle cx="114.98" cy="90.26" r="1.23" fill="#f04418" opacity="0.83"/>
<circle cx="91.91" cy="106.13" r="1.21" fill="#58a030" opacity="0.73"/>
<circle cx="85.81" cy="76.25" r="1.16" fill="#ffd23a" opacity="0.87"/>
<circle cx="83.16" cy="77.39" r="0.72" fill="#58a030" opacity="0.73"/>
<circle cx="67.77" cy="102.84" r="1.19" fill="#7a3010" opacity="0.41"/>
<circle cx="64.68" cy="92.81" r="1.03" fill="#ffd23a" opacity="0.87"/>
<circle cx="71.89" cy="80.02" r="0.74" fill="#f04418" opacity="0.83"/>
<circle cx="96.09" cy="80.37" r="0.7" fill="#7a3010" opacity="0.41"/>
<circle cx="71.18" cy="108.65" r="0.81" fill="#58a030" opacity="0.73"/>
<circle cx="109.21" cy="93.91" r="0.76" fill="#ffd23a" opacity="0.87"/>
<circle cx="114.94" cy="86.63" r="1" fill="#ffd23a" opacity="0.87"/>
<circle cx="89.47" cy="80.21" r="0.59" fill="#ffd23a" opacity="0.87"/>
<circle cx="108.28" cy="88.9" r="0.99" fill="#58a030" opacity="0.73"/>
<circle cx="99.8" cy="81.09" r="0.56" fill="#58a030" opacity="0.73"/>
<circle cx="82.92" cy="110.73" r="1.14" fill="#f04418" opacity="0.83"/>
</g>
<path d="M19 66 C22 70 27 72 33 71.5" stroke="#c01a14" stroke-width="2.6" fill="none" opacity="0.55" filter="url(#b2)"/>
<ellipse cx="150" cy="128" rx="9" ry="12" fill="#2a0a06" opacity="0.6" filter="url(#b2)"/>
<g filter="url(#ntex)">
<path d="M24.5 31 C25 27 30 25.5 34 26 C38 25 41 24.5 44 26 C46.5 27.5 46.5 31 46 33 C45 36 41 37.5 36 37 C31 37.5 24.5 36 24.5 31 Z" fill="#3636a4"/>
<path d="M56.5 83 C59 78.5 66 78.5 71 80.5 C76 83 78 86 77 91 C76.5 95 80 98 79 102 C78 106 73 108.5 68.5 107.5 C64 106.5 61 102 59 98 C56 93 54.5 87.5 56.5 83 Z" fill="#3636a4"/>
</g>
<ellipse cx="93" cy="25" rx="5.5" ry="9" fill="#1a1a40" opacity="0.6" filter="url(#b2)"/>
<path d="M5.5 129.7H21.1 M5.5 127.5V131.9 M21.1 127.5V131.9" stroke="#c8c8c8" stroke-width="0.9" fill="none"/>
</svg>
<rect x="0.5" y="0.5" width="519" height="734" fill="none" stroke="#000" stroke-width="1.2"/>
</svg>
</body></html>
